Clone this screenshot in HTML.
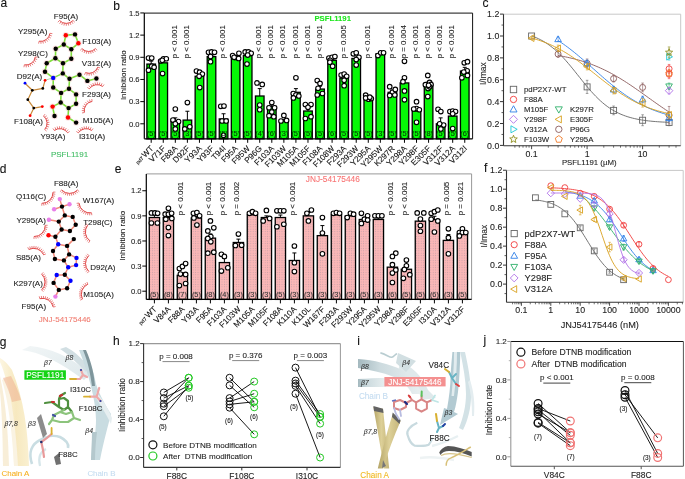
<!DOCTYPE html>
<html><head><meta charset="utf-8"><style>
html,body{margin:0;padding:0;background:#fff;}
svg{display:block;will-change:transform;font-family:"Liberation Sans", sans-serif;}
text{stroke:currentColor;stroke-width:0.1px;paint-order:stroke;}
</style></head><body>
<svg width="685" height="479" viewBox="0 0 685 479">
<rect width="685" height="479" fill="#fff"/>
<text x="0.50" y="6.70" font-size="12" fill="#111" color="#111" text-anchor="start" >a</text>
<text x="113.20" y="9.90" font-size="12" fill="#111" color="#111" text-anchor="start" >b</text>
<text x="482.60" y="6.60" font-size="12" fill="#111" color="#111" text-anchor="start" >c</text>
<text x="-0.30" y="173.00" font-size="12" fill="#111" color="#111" text-anchor="start" >d</text>
<text x="114.80" y="173.20" font-size="12" fill="#111" color="#111" text-anchor="start" >e</text>
<text x="484.00" y="172.00" font-size="12" fill="#111" color="#111" text-anchor="start" >f</text>
<text x="-0.30" y="345.50" font-size="12" fill="#111" color="#111" text-anchor="start" >g</text>
<text x="113.00" y="344.60" font-size="12" fill="#111" color="#111" text-anchor="start" >h</text>
<text x="357.20" y="344.90" font-size="12" fill="#111" color="#111" text-anchor="start" >i</text>
<text x="483.40" y="344.00" font-size="12" fill="#111" color="#111" text-anchor="start" >j</text>
<path d="M144.30,13.10 H472.60 V138.80" fill="none" stroke="#111" stroke-width="1"/>
<rect x="146.90" y="64.09" width="8.60" height="74.71" fill="#06f806" stroke="#000" stroke-width="1.3" />
<line x1="151.20" y1="64.09" x2="151.20" y2="61.13" stroke="#000" stroke-width="1" />
<line x1="149.20" y1="61.13" x2="153.20" y2="61.13" stroke="#000" stroke-width="1" />
<circle cx="148.50" cy="58.03" r="2.3" fill="#fff" stroke="#000" stroke-width="1.1" />
<circle cx="151.70" cy="58.03" r="2.3" fill="#fff" stroke="#000" stroke-width="1.1" />
<circle cx="151.70" cy="66.16" r="2.3" fill="#fff" stroke="#000" stroke-width="1.1" />
<circle cx="154.10" cy="67.27" r="2.3" fill="#fff" stroke="#000" stroke-width="1.1" />
<circle cx="148.50" cy="70.22" r="2.3" fill="#fff" stroke="#000" stroke-width="1.1" />
<text x="151.20" y="136.30" font-size="7.4" fill="#033a03" color="#033a03" text-anchor="middle" >(5)</text>
<line x1="151.20" y1="138.80" x2="151.20" y2="142.80" stroke="#000" stroke-width="1" />
<text transform="translate(154.00,149.00) rotate(-45)" font-size="8.2" fill="#111" color="#111" text-anchor="end">WT</text>
<text transform="translate(144.00,158.60) rotate(-45)" font-size="5.2" fill="#111" color="#111" text-anchor="end">pd7</text>
<rect x="158.96" y="62.83" width="8.60" height="75.97" fill="#06f806" stroke="#000" stroke-width="1.3" />
<line x1="163.26" y1="62.83" x2="163.26" y2="60.62" stroke="#000" stroke-width="1" />
<line x1="161.26" y1="60.62" x2="165.26" y2="60.62" stroke="#000" stroke-width="1" />
<circle cx="160.66" cy="60.98" r="2.3" fill="#fff" stroke="#000" stroke-width="1.1" />
<circle cx="163.46" cy="58.77" r="2.3" fill="#fff" stroke="#000" stroke-width="1.1" />
<circle cx="166.26" cy="58.77" r="2.3" fill="#fff" stroke="#000" stroke-width="1.1" />
<circle cx="162.26" cy="60.25" r="2.3" fill="#fff" stroke="#000" stroke-width="1.1" />
<circle cx="162.56" cy="73.55" r="2.3" fill="#fff" stroke="#000" stroke-width="1.1" />
<text x="163.26" y="136.30" font-size="7.4" fill="#033a03" color="#033a03" text-anchor="middle" >(5)</text>
<line x1="163.26" y1="138.80" x2="163.26" y2="142.80" stroke="#000" stroke-width="1" />
<text transform="translate(166.06,149.00) rotate(-45)" font-size="8.2" fill="#111" color="#111" text-anchor="end">V71F</text>
<rect x="171.02" y="121.58" width="8.60" height="17.22" fill="#06f806" stroke="#000" stroke-width="1.3" />
<line x1="175.32" y1="121.58" x2="175.32" y2="117.89" stroke="#000" stroke-width="1" />
<line x1="173.32" y1="117.89" x2="177.32" y2="117.89" stroke="#000" stroke-width="1" />
<circle cx="175.32" cy="109.02" r="2.3" fill="#fff" stroke="#000" stroke-width="1.1" />
<circle cx="172.92" cy="120.10" r="2.3" fill="#fff" stroke="#000" stroke-width="1.1" />
<circle cx="178.52" cy="121.58" r="2.3" fill="#fff" stroke="#000" stroke-width="1.1" />
<circle cx="175.32" cy="123.80" r="2.3" fill="#fff" stroke="#000" stroke-width="1.1" />
<circle cx="175.32" cy="128.97" r="2.3" fill="#fff" stroke="#000" stroke-width="1.1" />
<text x="175.32" y="136.30" font-size="7.4" fill="#033a03" color="#033a03" text-anchor="middle" >(5)</text>
<line x1="175.32" y1="138.80" x2="175.32" y2="142.80" stroke="#000" stroke-width="1" />
<text transform="translate(178.12,149.00) rotate(-45)" font-size="8.2" fill="#111" color="#111" text-anchor="end">F88A</text>
<rect x="183.08" y="120.10" width="8.60" height="18.70" fill="#06f806" stroke="#000" stroke-width="1.3" />
<line x1="187.38" y1="120.10" x2="187.38" y2="111.24" stroke="#000" stroke-width="1" />
<line x1="185.38" y1="111.24" x2="189.38" y2="111.24" stroke="#000" stroke-width="1" />
<circle cx="187.38" cy="102.59" r="2.3" fill="#fff" stroke="#000" stroke-width="1.1" />
<circle cx="184.78" cy="128.97" r="2.3" fill="#fff" stroke="#000" stroke-width="1.1" />
<circle cx="189.78" cy="126.76" r="2.3" fill="#fff" stroke="#000" stroke-width="1.1" />
<text x="187.38" y="136.30" font-size="7.4" fill="#033a03" color="#033a03" text-anchor="middle" >(3)</text>
<line x1="187.38" y1="138.80" x2="187.38" y2="142.80" stroke="#000" stroke-width="1" />
<text transform="translate(190.18,149.00) rotate(-45)" font-size="8.2" fill="#111" color="#111" text-anchor="end">D92F</text>
<rect x="195.14" y="76.28" width="8.60" height="62.52" fill="#06f806" stroke="#000" stroke-width="1.3" />
<line x1="199.44" y1="76.28" x2="199.44" y2="73.33" stroke="#000" stroke-width="1" />
<line x1="197.44" y1="73.33" x2="201.44" y2="73.33" stroke="#000" stroke-width="1" />
<circle cx="196.44" cy="71.04" r="2.3" fill="#fff" stroke="#000" stroke-width="1.1" />
<circle cx="199.64" cy="72.22" r="2.3" fill="#fff" stroke="#000" stroke-width="1.1" />
<circle cx="202.34" cy="74.07" r="2.3" fill="#fff" stroke="#000" stroke-width="1.1" />
<circle cx="199.14" cy="76.28" r="2.3" fill="#fff" stroke="#000" stroke-width="1.1" />
<circle cx="199.74" cy="87.59" r="2.3" fill="#fff" stroke="#000" stroke-width="1.1" />
<text x="199.44" y="136.30" font-size="7.4" fill="#033a03" color="#033a03" text-anchor="middle" >(5)</text>
<line x1="199.44" y1="138.80" x2="199.44" y2="142.80" stroke="#000" stroke-width="1" />
<text transform="translate(202.24,149.00) rotate(-45)" font-size="8.2" fill="#111" color="#111" text-anchor="end">Y93A</text>
<rect x="207.20" y="56.62" width="8.60" height="82.18" fill="#06f806" stroke="#000" stroke-width="1.3" />
<line x1="211.50" y1="56.62" x2="211.50" y2="55.15" stroke="#000" stroke-width="1" />
<line x1="209.50" y1="55.15" x2="213.50" y2="55.15" stroke="#000" stroke-width="1" />
<circle cx="208.50" cy="52.34" r="2.3" fill="#fff" stroke="#000" stroke-width="1.1" />
<circle cx="211.50" cy="51.90" r="2.3" fill="#fff" stroke="#000" stroke-width="1.1" />
<circle cx="214.50" cy="52.34" r="2.3" fill="#fff" stroke="#000" stroke-width="1.1" />
<circle cx="210.50" cy="56.55" r="2.3" fill="#fff" stroke="#000" stroke-width="1.1" />
<circle cx="210.50" cy="61.72" r="2.3" fill="#fff" stroke="#000" stroke-width="1.1" />
<text x="211.50" y="136.30" font-size="7.4" fill="#033a03" color="#033a03" text-anchor="middle" >(5)</text>
<line x1="211.50" y1="138.80" x2="211.50" y2="142.80" stroke="#000" stroke-width="1" />
<text transform="translate(214.30,149.00) rotate(-45)" font-size="8.2" fill="#111" color="#111" text-anchor="end">Y93F</text>
<rect x="219.26" y="118.92" width="8.60" height="19.88" fill="#06f806" stroke="#000" stroke-width="1.3" />
<line x1="223.56" y1="118.92" x2="223.56" y2="113.75" stroke="#000" stroke-width="1" />
<line x1="221.56" y1="113.75" x2="225.56" y2="113.75" stroke="#000" stroke-width="1" />
<circle cx="220.76" cy="106.29" r="2.3" fill="#fff" stroke="#000" stroke-width="1.1" />
<circle cx="223.96" cy="106.06" r="2.3" fill="#fff" stroke="#000" stroke-width="1.1" />
<circle cx="222.06" cy="120.99" r="2.3" fill="#fff" stroke="#000" stroke-width="1.1" />
<circle cx="226.16" cy="120.99" r="2.3" fill="#fff" stroke="#000" stroke-width="1.1" />
<circle cx="223.56" cy="135.25" r="2.3" fill="#fff" stroke="#000" stroke-width="1.1" />
<text x="223.56" y="136.30" font-size="7.4" fill="#033a03" color="#033a03" text-anchor="middle" >(5)</text>
<line x1="223.56" y1="138.80" x2="223.56" y2="142.80" stroke="#000" stroke-width="1" />
<text transform="translate(226.36,149.00) rotate(-45)" font-size="8.2" fill="#111" color="#111" text-anchor="end">T94I</text>
<rect x="231.32" y="57.51" width="8.60" height="81.29" fill="#06f806" stroke="#000" stroke-width="1.3" />
<line x1="235.62" y1="57.51" x2="235.62" y2="56.03" stroke="#000" stroke-width="1" />
<line x1="233.62" y1="56.03" x2="237.62" y2="56.03" stroke="#000" stroke-width="1" />
<circle cx="232.62" cy="55.59" r="2.3" fill="#fff" stroke="#000" stroke-width="1.1" />
<circle cx="235.62" cy="57.51" r="2.3" fill="#fff" stroke="#000" stroke-width="1.1" />
<circle cx="238.92" cy="53.37" r="2.3" fill="#fff" stroke="#000" stroke-width="1.1" />
<circle cx="238.62" cy="58.47" r="2.3" fill="#fff" stroke="#000" stroke-width="1.1" />
<circle cx="234.12" cy="57.29" r="2.3" fill="#fff" stroke="#000" stroke-width="1.1" />
<text x="235.62" y="136.30" font-size="7.4" fill="#033a03" color="#033a03" text-anchor="middle" >(5)</text>
<line x1="235.62" y1="138.80" x2="235.62" y2="142.80" stroke="#000" stroke-width="1" />
<text transform="translate(238.42,149.00) rotate(-45)" font-size="8.2" fill="#111" color="#111" text-anchor="end">F95A</text>
<rect x="243.38" y="55.59" width="8.60" height="83.21" fill="#06f806" stroke="#000" stroke-width="1.3" />
<line x1="247.68" y1="55.59" x2="247.68" y2="54.11" stroke="#000" stroke-width="1" />
<line x1="245.68" y1="54.11" x2="249.68" y2="54.11" stroke="#000" stroke-width="1" />
<circle cx="245.18" cy="51.90" r="2.3" fill="#fff" stroke="#000" stroke-width="1.1" />
<circle cx="248.38" cy="51.90" r="2.3" fill="#fff" stroke="#000" stroke-width="1.1" />
<circle cx="251.18" cy="53.37" r="2.3" fill="#fff" stroke="#000" stroke-width="1.1" />
<circle cx="247.68" cy="55.07" r="2.3" fill="#fff" stroke="#000" stroke-width="1.1" />
<circle cx="246.98" cy="64.09" r="2.3" fill="#fff" stroke="#000" stroke-width="1.1" />
<text x="247.68" y="136.30" font-size="7.4" fill="#033a03" color="#033a03" text-anchor="middle" >(5)</text>
<line x1="247.68" y1="138.80" x2="247.68" y2="142.80" stroke="#000" stroke-width="1" />
<text transform="translate(250.48,149.00) rotate(-45)" font-size="8.2" fill="#111" color="#111" text-anchor="end">F95W</text>
<rect x="255.44" y="96.01" width="8.60" height="42.79" fill="#06f806" stroke="#000" stroke-width="1.3" />
<line x1="259.74" y1="96.01" x2="259.74" y2="88.62" stroke="#000" stroke-width="1" />
<line x1="257.74" y1="88.62" x2="261.74" y2="88.62" stroke="#000" stroke-width="1" />
<circle cx="256.94" cy="82.93" r="2.3" fill="#fff" stroke="#000" stroke-width="1.1" />
<circle cx="262.24" cy="84.41" r="2.3" fill="#fff" stroke="#000" stroke-width="1.1" />
<circle cx="259.74" cy="105.03" r="2.3" fill="#fff" stroke="#000" stroke-width="1.1" />
<circle cx="259.74" cy="109.76" r="2.3" fill="#fff" stroke="#000" stroke-width="1.1" />
<text x="259.74" y="136.30" font-size="7.4" fill="#033a03" color="#033a03" text-anchor="middle" >(4)</text>
<line x1="259.74" y1="138.80" x2="259.74" y2="142.80" stroke="#000" stroke-width="1" />
<text transform="translate(262.54,149.00) rotate(-45)" font-size="8.2" fill="#111" color="#111" text-anchor="end">P96G</text>
<rect x="267.50" y="106.29" width="8.60" height="32.51" fill="#06f806" stroke="#000" stroke-width="1.3" />
<line x1="271.80" y1="106.29" x2="271.80" y2="104.07" stroke="#000" stroke-width="1" />
<line x1="269.80" y1="104.07" x2="273.80" y2="104.07" stroke="#000" stroke-width="1" />
<circle cx="271.80" cy="102.59" r="2.3" fill="#fff" stroke="#000" stroke-width="1.1" />
<circle cx="269.00" cy="107.76" r="2.3" fill="#fff" stroke="#000" stroke-width="1.1" />
<circle cx="274.60" cy="107.76" r="2.3" fill="#fff" stroke="#000" stroke-width="1.1" />
<circle cx="271.80" cy="111.98" r="2.3" fill="#fff" stroke="#000" stroke-width="1.1" />
<circle cx="269.00" cy="115.67" r="2.3" fill="#fff" stroke="#000" stroke-width="1.1" />
<circle cx="273.80" cy="116.71" r="2.3" fill="#fff" stroke="#000" stroke-width="1.1" />
<text x="271.80" y="136.30" font-size="7.4" fill="#033a03" color="#033a03" text-anchor="middle" >(6)</text>
<line x1="271.80" y1="138.80" x2="271.80" y2="142.80" stroke="#000" stroke-width="1" />
<text transform="translate(274.60,149.00) rotate(-45)" font-size="8.2" fill="#111" color="#111" text-anchor="end">F103A</text>
<rect x="279.56" y="120.84" width="8.60" height="17.96" fill="#06f806" stroke="#000" stroke-width="1.3" />
<line x1="283.86" y1="120.84" x2="283.86" y2="119.37" stroke="#000" stroke-width="1" />
<line x1="281.86" y1="119.37" x2="285.86" y2="119.37" stroke="#000" stroke-width="1" />
<circle cx="280.96" cy="120.99" r="2.3" fill="#fff" stroke="#000" stroke-width="1.1" />
<circle cx="283.86" cy="115.38" r="2.3" fill="#fff" stroke="#000" stroke-width="1.1" />
<circle cx="286.56" cy="120.40" r="2.3" fill="#fff" stroke="#000" stroke-width="1.1" />
<text x="283.86" y="136.30" font-size="7.4" fill="#033a03" color="#033a03" text-anchor="middle" >(3)</text>
<line x1="283.86" y1="138.80" x2="283.86" y2="142.80" stroke="#000" stroke-width="1" />
<text transform="translate(286.66,149.00) rotate(-45)" font-size="8.2" fill="#111" color="#111" text-anchor="end">F103W</text>
<rect x="291.62" y="92.32" width="8.60" height="46.48" fill="#06f806" stroke="#000" stroke-width="1.3" />
<line x1="295.92" y1="92.32" x2="295.92" y2="88.62" stroke="#000" stroke-width="1" />
<line x1="293.92" y1="88.62" x2="297.92" y2="88.62" stroke="#000" stroke-width="1" />
<circle cx="295.92" cy="77.83" r="2.3" fill="#fff" stroke="#000" stroke-width="1.1" />
<circle cx="293.22" cy="93.57" r="2.3" fill="#fff" stroke="#000" stroke-width="1.1" />
<circle cx="295.92" cy="95.05" r="2.3" fill="#fff" stroke="#000" stroke-width="1.1" />
<circle cx="298.82" cy="96.01" r="2.3" fill="#fff" stroke="#000" stroke-width="1.1" />
<circle cx="293.42" cy="97.94" r="2.3" fill="#fff" stroke="#000" stroke-width="1.1" />
<text x="295.92" y="136.30" font-size="7.4" fill="#033a03" color="#033a03" text-anchor="middle" >(5)</text>
<line x1="295.92" y1="138.80" x2="295.92" y2="142.80" stroke="#000" stroke-width="1" />
<text transform="translate(298.72,149.00) rotate(-45)" font-size="8.2" fill="#111" color="#111" text-anchor="end">M105A</text>
<rect x="303.68" y="111.02" width="8.60" height="27.78" fill="#06f806" stroke="#000" stroke-width="1.3" />
<line x1="307.98" y1="111.02" x2="307.98" y2="108.06" stroke="#000" stroke-width="1" />
<line x1="305.98" y1="108.06" x2="309.98" y2="108.06" stroke="#000" stroke-width="1" />
<circle cx="305.38" cy="104.59" r="2.3" fill="#fff" stroke="#000" stroke-width="1.1" />
<circle cx="310.98" cy="104.59" r="2.3" fill="#fff" stroke="#000" stroke-width="1.1" />
<circle cx="307.98" cy="107.32" r="2.3" fill="#fff" stroke="#000" stroke-width="1.1" />
<circle cx="305.38" cy="118.48" r="2.3" fill="#fff" stroke="#000" stroke-width="1.1" />
<circle cx="310.98" cy="116.71" r="2.3" fill="#fff" stroke="#000" stroke-width="1.1" />
<text x="307.98" y="136.30" font-size="7.4" fill="#033a03" color="#033a03" text-anchor="middle" >(5)</text>
<line x1="307.98" y1="138.80" x2="307.98" y2="142.80" stroke="#000" stroke-width="1" />
<text transform="translate(310.78,149.00) rotate(-45)" font-size="8.2" fill="#111" color="#111" text-anchor="end">M105F</text>
<rect x="315.74" y="89.07" width="8.60" height="49.73" fill="#06f806" stroke="#000" stroke-width="1.3" />
<line x1="320.04" y1="89.07" x2="320.04" y2="86.11" stroke="#000" stroke-width="1" />
<line x1="318.04" y1="86.11" x2="322.04" y2="86.11" stroke="#000" stroke-width="1" />
<circle cx="317.24" cy="80.57" r="2.3" fill="#fff" stroke="#000" stroke-width="1.1" />
<circle cx="320.04" cy="83.38" r="2.3" fill="#fff" stroke="#000" stroke-width="1.1" />
<circle cx="318.04" cy="88.33" r="2.3" fill="#fff" stroke="#000" stroke-width="1.1" />
<circle cx="322.44" cy="93.50" r="2.3" fill="#fff" stroke="#000" stroke-width="1.1" />
<circle cx="317.24" cy="94.98" r="2.3" fill="#fff" stroke="#000" stroke-width="1.1" />
<text x="320.04" y="136.30" font-size="7.4" fill="#033a03" color="#033a03" text-anchor="middle" >(5)</text>
<line x1="320.04" y1="138.80" x2="320.04" y2="142.80" stroke="#000" stroke-width="1" />
<text transform="translate(322.84,149.00) rotate(-45)" font-size="8.2" fill="#111" color="#111" text-anchor="end">F108A</text>
<rect x="327.80" y="60.32" width="8.60" height="78.48" fill="#06f806" stroke="#000" stroke-width="1.3" />
<line x1="332.10" y1="60.32" x2="332.10" y2="58.84" stroke="#000" stroke-width="1" />
<line x1="330.10" y1="58.84" x2="334.10" y2="58.84" stroke="#000" stroke-width="1" />
<circle cx="328.90" cy="58.03" r="2.3" fill="#fff" stroke="#000" stroke-width="1.1" />
<circle cx="332.10" cy="57.29" r="2.3" fill="#fff" stroke="#000" stroke-width="1.1" />
<circle cx="334.90" cy="56.55" r="2.3" fill="#fff" stroke="#000" stroke-width="1.1" />
<circle cx="330.10" cy="60.25" r="2.3" fill="#fff" stroke="#000" stroke-width="1.1" />
<circle cx="329.90" cy="62.17" r="2.3" fill="#fff" stroke="#000" stroke-width="1.1" />
<circle cx="332.60" cy="66.16" r="2.3" fill="#fff" stroke="#000" stroke-width="1.1" />
<text x="332.10" y="136.30" font-size="7.4" fill="#033a03" color="#033a03" text-anchor="middle" >(6)</text>
<line x1="332.10" y1="138.80" x2="332.10" y2="142.80" stroke="#000" stroke-width="1" />
<text transform="translate(334.90,149.00) rotate(-45)" font-size="8.2" fill="#111" color="#111" text-anchor="end">F108W</text>
<rect x="339.86" y="78.20" width="8.60" height="60.60" fill="#06f806" stroke="#000" stroke-width="1.3" />
<line x1="344.16" y1="78.20" x2="344.16" y2="75.99" stroke="#000" stroke-width="1" />
<line x1="342.16" y1="75.99" x2="346.16" y2="75.99" stroke="#000" stroke-width="1" />
<circle cx="341.16" cy="75.03" r="2.3" fill="#fff" stroke="#000" stroke-width="1.1" />
<circle cx="344.16" cy="74.07" r="2.3" fill="#fff" stroke="#000" stroke-width="1.1" />
<circle cx="346.66" cy="76.28" r="2.3" fill="#fff" stroke="#000" stroke-width="1.1" />
<circle cx="344.16" cy="80.20" r="2.3" fill="#fff" stroke="#000" stroke-width="1.1" />
<circle cx="344.16" cy="85.67" r="2.3" fill="#fff" stroke="#000" stroke-width="1.1" />
<text x="344.16" y="136.30" font-size="7.4" fill="#033a03" color="#033a03" text-anchor="middle" >(5)</text>
<line x1="344.16" y1="138.80" x2="344.16" y2="142.80" stroke="#000" stroke-width="1" />
<text transform="translate(346.96,149.00) rotate(-45)" font-size="8.2" fill="#111" color="#111" text-anchor="end">F293A</text>
<rect x="351.92" y="58.47" width="8.60" height="80.33" fill="#06f806" stroke="#000" stroke-width="1.3" />
<line x1="356.22" y1="58.47" x2="356.22" y2="56.99" stroke="#000" stroke-width="1" />
<line x1="354.22" y1="56.99" x2="358.22" y2="56.99" stroke="#000" stroke-width="1" />
<circle cx="353.32" cy="53.82" r="2.3" fill="#fff" stroke="#000" stroke-width="1.1" />
<circle cx="356.22" cy="52.86" r="2.3" fill="#fff" stroke="#000" stroke-width="1.1" />
<circle cx="358.92" cy="57.29" r="2.3" fill="#fff" stroke="#000" stroke-width="1.1" />
<circle cx="356.22" cy="59.51" r="2.3" fill="#fff" stroke="#000" stroke-width="1.1" />
<circle cx="356.22" cy="65.05" r="2.3" fill="#fff" stroke="#000" stroke-width="1.1" />
<text x="356.22" y="136.30" font-size="7.4" fill="#033a03" color="#033a03" text-anchor="middle" >(5)</text>
<line x1="356.22" y1="138.80" x2="356.22" y2="142.80" stroke="#000" stroke-width="1" />
<text transform="translate(359.02,149.00) rotate(-45)" font-size="8.2" fill="#111" color="#111" text-anchor="end">F293W</text>
<rect x="363.98" y="99.78" width="8.60" height="39.02" fill="#06f806" stroke="#000" stroke-width="1.3" />
<line x1="368.28" y1="99.78" x2="368.28" y2="98.30" stroke="#000" stroke-width="1" />
<line x1="366.28" y1="98.30" x2="370.28" y2="98.30" stroke="#000" stroke-width="1" />
<circle cx="365.68" cy="95.13" r="2.3" fill="#fff" stroke="#000" stroke-width="1.1" />
<circle cx="368.48" cy="99.19" r="2.3" fill="#fff" stroke="#000" stroke-width="1.1" />
<circle cx="371.28" cy="98.53" r="2.3" fill="#fff" stroke="#000" stroke-width="1.1" />
<circle cx="365.68" cy="97.94" r="2.3" fill="#fff" stroke="#000" stroke-width="1.1" />
<circle cx="369.78" cy="97.20" r="2.3" fill="#fff" stroke="#000" stroke-width="1.1" />
<text x="368.28" y="136.30" font-size="7.4" fill="#033a03" color="#033a03" text-anchor="middle" >(5)</text>
<line x1="368.28" y1="138.80" x2="368.28" y2="142.80" stroke="#000" stroke-width="1" />
<text transform="translate(371.08,149.00) rotate(-45)" font-size="8.2" fill="#111" color="#111" text-anchor="end">Y295A</text>
<rect x="376.04" y="53.82" width="8.60" height="84.98" fill="#06f806" stroke="#000" stroke-width="1.3" />
<line x1="380.34" y1="53.82" x2="380.34" y2="53.08" stroke="#000" stroke-width="1" />
<line x1="378.34" y1="53.08" x2="382.34" y2="53.08" stroke="#000" stroke-width="1" />
<circle cx="377.94" cy="55.59" r="2.3" fill="#fff" stroke="#000" stroke-width="1.1" />
<circle cx="380.74" cy="52.86" r="2.3" fill="#fff" stroke="#000" stroke-width="1.1" />
<circle cx="383.54" cy="52.86" r="2.3" fill="#fff" stroke="#000" stroke-width="1.1" />
<text x="380.34" y="136.30" font-size="7.4" fill="#033a03" color="#033a03" text-anchor="middle" >(3)</text>
<line x1="380.34" y1="138.80" x2="380.34" y2="142.80" stroke="#000" stroke-width="1" />
<text transform="translate(383.14,149.00) rotate(-45)" font-size="8.2" fill="#111" color="#111" text-anchor="end">Y295W</text>
<rect x="388.10" y="92.32" width="8.60" height="46.48" fill="#06f806" stroke="#000" stroke-width="1.3" />
<line x1="392.40" y1="92.32" x2="392.40" y2="90.10" stroke="#000" stroke-width="1" />
<line x1="390.40" y1="90.10" x2="394.40" y2="90.10" stroke="#000" stroke-width="1" />
<circle cx="389.70" cy="86.63" r="2.3" fill="#fff" stroke="#000" stroke-width="1.1" />
<circle cx="392.40" cy="92.32" r="2.3" fill="#fff" stroke="#000" stroke-width="1.1" />
<circle cx="395.30" cy="89.44" r="2.3" fill="#fff" stroke="#000" stroke-width="1.1" />
<circle cx="389.70" cy="95.42" r="2.3" fill="#fff" stroke="#000" stroke-width="1.1" />
<circle cx="394.80" cy="94.98" r="2.3" fill="#fff" stroke="#000" stroke-width="1.1" />
<text x="392.40" y="136.30" font-size="7.4" fill="#033a03" color="#033a03" text-anchor="middle" >(5)</text>
<line x1="392.40" y1="138.80" x2="392.40" y2="142.80" stroke="#000" stroke-width="1" />
<text transform="translate(395.20,149.00) rotate(-45)" font-size="8.2" fill="#111" color="#111" text-anchor="end">K297R</text>
<rect x="400.16" y="82.93" width="8.60" height="55.87" fill="#06f806" stroke="#000" stroke-width="1.3" />
<line x1="404.46" y1="82.93" x2="404.46" y2="78.50" stroke="#000" stroke-width="1" />
<line x1="402.46" y1="78.50" x2="406.46" y2="78.50" stroke="#000" stroke-width="1" />
<circle cx="404.46" cy="61.28" r="2.3" fill="#fff" stroke="#000" stroke-width="1.1" />
<circle cx="404.46" cy="77.83" r="2.3" fill="#fff" stroke="#000" stroke-width="1.1" />
<circle cx="402.96" cy="81.68" r="2.3" fill="#fff" stroke="#000" stroke-width="1.1" />
<circle cx="404.46" cy="90.91" r="2.3" fill="#fff" stroke="#000" stroke-width="1.1" />
<circle cx="404.46" cy="99.78" r="2.3" fill="#fff" stroke="#000" stroke-width="1.1" />
<text x="404.46" y="136.30" font-size="7.4" fill="#033a03" color="#033a03" text-anchor="middle" >(5)</text>
<line x1="404.46" y1="138.80" x2="404.46" y2="142.80" stroke="#000" stroke-width="1" />
<text transform="translate(407.26,149.00) rotate(-45)" font-size="8.2" fill="#111" color="#111" text-anchor="end">Y298A</text>
<rect x="412.22" y="111.02" width="8.60" height="27.78" fill="#06f806" stroke="#000" stroke-width="1.3" />
<line x1="416.52" y1="111.02" x2="416.52" y2="107.32" stroke="#000" stroke-width="1" />
<line x1="414.52" y1="107.32" x2="418.52" y2="107.32" stroke="#000" stroke-width="1" />
<circle cx="416.52" cy="101.63" r="2.3" fill="#fff" stroke="#000" stroke-width="1.1" />
<circle cx="416.52" cy="108.58" r="2.3" fill="#fff" stroke="#000" stroke-width="1.1" />
<circle cx="419.32" cy="109.76" r="2.3" fill="#fff" stroke="#000" stroke-width="1.1" />
<circle cx="413.72" cy="109.02" r="2.3" fill="#fff" stroke="#000" stroke-width="1.1" />
<circle cx="416.52" cy="122.32" r="2.3" fill="#fff" stroke="#000" stroke-width="1.1" />
<text x="416.52" y="136.30" font-size="7.4" fill="#033a03" color="#033a03" text-anchor="middle" >(5)</text>
<line x1="416.52" y1="138.80" x2="416.52" y2="142.80" stroke="#000" stroke-width="1" />
<text transform="translate(419.32,149.00) rotate(-45)" font-size="8.2" fill="#111" color="#111" text-anchor="end">Y298F</text>
<rect x="424.28" y="84.71" width="8.60" height="54.09" fill="#06f806" stroke="#000" stroke-width="1.3" />
<line x1="428.58" y1="84.71" x2="428.58" y2="81.75" stroke="#000" stroke-width="1" />
<line x1="426.58" y1="81.75" x2="430.58" y2="81.75" stroke="#000" stroke-width="1" />
<circle cx="427.78" cy="75.40" r="2.3" fill="#fff" stroke="#000" stroke-width="1.1" />
<circle cx="429.58" cy="82.42" r="2.3" fill="#fff" stroke="#000" stroke-width="1.1" />
<circle cx="425.38" cy="84.71" r="2.3" fill="#fff" stroke="#000" stroke-width="1.1" />
<circle cx="430.98" cy="84.41" r="2.3" fill="#fff" stroke="#000" stroke-width="1.1" />
<circle cx="428.08" cy="88.55" r="2.3" fill="#fff" stroke="#000" stroke-width="1.1" />
<circle cx="427.78" cy="96.60" r="2.3" fill="#fff" stroke="#000" stroke-width="1.1" />
<circle cx="429.58" cy="86.85" r="2.3" fill="#fff" stroke="#000" stroke-width="1.1" />
<circle cx="428.58" cy="85.37" r="2.3" fill="#fff" stroke="#000" stroke-width="1.1" />
<text x="428.58" y="136.30" font-size="7.4" fill="#033a03" color="#033a03" text-anchor="middle" >(8)</text>
<line x1="428.58" y1="138.80" x2="428.58" y2="142.80" stroke="#000" stroke-width="1" />
<text transform="translate(431.38,149.00) rotate(-45)" font-size="8.2" fill="#111" color="#111" text-anchor="end">E305F</text>
<rect x="436.34" y="123.80" width="8.60" height="15.00" fill="#06f806" stroke="#000" stroke-width="1.3" />
<line x1="440.64" y1="123.80" x2="440.64" y2="117.89" stroke="#000" stroke-width="1" />
<line x1="438.64" y1="117.89" x2="442.64" y2="117.89" stroke="#000" stroke-width="1" />
<circle cx="438.04" cy="109.24" r="2.3" fill="#fff" stroke="#000" stroke-width="1.1" />
<circle cx="440.84" cy="111.61" r="2.3" fill="#fff" stroke="#000" stroke-width="1.1" />
<circle cx="443.64" cy="125.06" r="2.3" fill="#fff" stroke="#000" stroke-width="1.1" />
<circle cx="440.84" cy="128.90" r="2.3" fill="#fff" stroke="#000" stroke-width="1.1" />
<circle cx="439.64" cy="123.80" r="2.3" fill="#fff" stroke="#000" stroke-width="1.1" />
<text x="440.64" y="136.30" font-size="7.4" fill="#033a03" color="#033a03" text-anchor="middle" >(5)</text>
<line x1="440.64" y1="138.80" x2="440.64" y2="142.80" stroke="#000" stroke-width="1" />
<text transform="translate(443.44,149.00) rotate(-45)" font-size="8.2" fill="#111" color="#111" text-anchor="end">V312F</text>
<rect x="448.40" y="116.11" width="8.60" height="22.69" fill="#06f806" stroke="#000" stroke-width="1.3" />
<line x1="452.70" y1="116.11" x2="452.70" y2="114.64" stroke="#000" stroke-width="1" />
<line x1="450.70" y1="114.64" x2="454.70" y2="114.64" stroke="#000" stroke-width="1" />
<circle cx="449.90" cy="111.61" r="2.3" fill="#fff" stroke="#000" stroke-width="1.1" />
<circle cx="452.70" cy="111.02" r="2.3" fill="#fff" stroke="#000" stroke-width="1.1" />
<circle cx="455.50" cy="111.61" r="2.3" fill="#fff" stroke="#000" stroke-width="1.1" />
<circle cx="452.70" cy="113.82" r="2.3" fill="#fff" stroke="#000" stroke-width="1.1" />
<circle cx="452.70" cy="128.53" r="2.3" fill="#fff" stroke="#000" stroke-width="1.1" />
<text x="452.70" y="136.30" font-size="7.4" fill="#033a03" color="#033a03" text-anchor="middle" >(5)</text>
<line x1="452.70" y1="138.80" x2="452.70" y2="142.80" stroke="#000" stroke-width="1" />
<text transform="translate(455.50,149.00) rotate(-45)" font-size="8.2" fill="#111" color="#111" text-anchor="end">V312A</text>
<rect x="460.46" y="71.04" width="8.60" height="67.76" fill="#06f806" stroke="#000" stroke-width="1.3" />
<line x1="464.76" y1="71.04" x2="464.76" y2="67.34" stroke="#000" stroke-width="1" />
<line x1="462.76" y1="67.34" x2="466.76" y2="67.34" stroke="#000" stroke-width="1" />
<circle cx="464.26" cy="62.83" r="2.3" fill="#fff" stroke="#000" stroke-width="1.1" />
<circle cx="467.46" cy="61.65" r="2.3" fill="#fff" stroke="#000" stroke-width="1.1" />
<circle cx="467.16" cy="70.74" r="2.3" fill="#fff" stroke="#000" stroke-width="1.1" />
<circle cx="461.86" cy="77.83" r="2.3" fill="#fff" stroke="#000" stroke-width="1.1" />
<circle cx="467.46" cy="75.40" r="2.3" fill="#fff" stroke="#000" stroke-width="1.1" />
<circle cx="463.76" cy="72.07" r="2.3" fill="#fff" stroke="#000" stroke-width="1.1" />
<text x="464.76" y="136.30" font-size="7.4" fill="#033a03" color="#033a03" text-anchor="middle" >(6)</text>
<line x1="464.76" y1="138.80" x2="464.76" y2="142.80" stroke="#000" stroke-width="1" />
<text transform="translate(467.56,149.00) rotate(-45)" font-size="8.2" fill="#111" color="#111" text-anchor="end">V312I</text>
<line x1="144.30" y1="13.10" x2="144.30" y2="138.80" stroke="#000" stroke-width="1.2" />
<line x1="144.30" y1="138.80" x2="472.60" y2="138.80" stroke="#000" stroke-width="1.2" />
<line x1="140.30" y1="123.80" x2="144.30" y2="123.80" stroke="#000" stroke-width="1" />
<text x="139.50" y="126.50" font-size="7.6" fill="#222" color="#222" text-anchor="end" >0.0</text>
<line x1="140.30" y1="101.63" x2="144.30" y2="101.63" stroke="#000" stroke-width="1" />
<text x="139.50" y="104.33" font-size="7.6" fill="#222" color="#222" text-anchor="end" >0.3</text>
<line x1="140.30" y1="79.46" x2="144.30" y2="79.46" stroke="#000" stroke-width="1" />
<text x="139.50" y="82.16" font-size="7.6" fill="#222" color="#222" text-anchor="end" >0.6</text>
<line x1="140.30" y1="57.29" x2="144.30" y2="57.29" stroke="#000" stroke-width="1" />
<text x="139.50" y="59.99" font-size="7.6" fill="#222" color="#222" text-anchor="end" >0.9</text>
<line x1="140.30" y1="35.12" x2="144.30" y2="35.12" stroke="#000" stroke-width="1" />
<text x="139.50" y="37.82" font-size="7.6" fill="#222" color="#222" text-anchor="end" >1.2</text>
<line x1="140.30" y1="12.95" x2="144.30" y2="12.95" stroke="#000" stroke-width="1" />
<text x="139.50" y="15.65" font-size="7.6" fill="#222" color="#222" text-anchor="end" >1.5</text>
<text transform="translate(176.92,58.35) rotate(-90)" font-size="7.9" fill="#222" color="#222" text-anchor="start" >p &lt; 0.001</text>
<text transform="translate(188.98,58.35) rotate(-90)" font-size="7.9" fill="#222" color="#222" text-anchor="start" >p &lt; 0.001</text>
<text transform="translate(225.16,58.35) rotate(-90)" font-size="7.9" fill="#222" color="#222" text-anchor="start" >p &lt; 0.001</text>
<text transform="translate(261.34,58.35) rotate(-90)" font-size="7.9" fill="#222" color="#222" text-anchor="start" >p &lt; 0.001</text>
<text transform="translate(273.40,58.35) rotate(-90)" font-size="7.9" fill="#222" color="#222" text-anchor="start" >p &lt; 0.001</text>
<text transform="translate(285.46,58.35) rotate(-90)" font-size="7.9" fill="#222" color="#222" text-anchor="start" >p &lt; 0.001</text>
<text transform="translate(297.52,58.35) rotate(-90)" font-size="7.9" fill="#222" color="#222" text-anchor="start" >p &lt; 0.001</text>
<text transform="translate(309.58,58.35) rotate(-90)" font-size="7.9" fill="#222" color="#222" text-anchor="start" >p &lt; 0.001</text>
<text transform="translate(321.64,58.35) rotate(-90)" font-size="7.9" fill="#222" color="#222" text-anchor="start" >p &lt; 0.001</text>
<text transform="translate(345.76,58.35) rotate(-90)" font-size="7.9" fill="#222" color="#222" text-anchor="start" >p = 0.005</text>
<text transform="translate(369.88,58.35) rotate(-90)" font-size="7.9" fill="#222" color="#222" text-anchor="start" >p &lt; 0.001</text>
<text transform="translate(394.00,58.35) rotate(-90)" font-size="7.9" fill="#222" color="#222" text-anchor="start" >p &lt; 0.001</text>
<text transform="translate(406.06,58.35) rotate(-90)" font-size="7.9" fill="#222" color="#222" text-anchor="start" >p = 0.004</text>
<text transform="translate(418.12,58.35) rotate(-90)" font-size="7.9" fill="#222" color="#222" text-anchor="start" >p &lt; 0.001</text>
<text transform="translate(430.18,58.35) rotate(-90)" font-size="7.9" fill="#222" color="#222" text-anchor="start" >p &lt; 0.001</text>
<text transform="translate(442.24,58.35) rotate(-90)" font-size="7.9" fill="#222" color="#222" text-anchor="start" >p &lt; 0.001</text>
<text transform="translate(454.30,58.35) rotate(-90)" font-size="7.9" fill="#222" color="#222" text-anchor="start" >p &lt; 0.001</text>
<text x="332.70" y="20.90" font-size="7.75" fill="#1ee61e" color="#1ee61e" text-anchor="middle" font-weight="bold">PSFL1191</text>
<text transform="translate(126.30,75.20) rotate(-90)" font-size="8" fill="#222" color="#222" text-anchor="middle" >Inhibition ratio</text>
<defs><pattern id="dotp" width="2.4" height="2.4" patternUnits="userSpaceOnUse"><rect width="2.4" height="2.4" fill="#fbb7b7"/><circle cx="1.2" cy="1.2" r="0.55" fill="#c8a0a8"/></pattern></defs>
<path d="M146.30,173.90 H471.60 V299.40" fill="none" stroke="#999" stroke-width="1"/>
<rect x="149.25" y="217.54" width="10.30" height="81.86" fill="url(#dotp)" stroke="#000" stroke-width="1.3" />
<line x1="154.40" y1="217.54" x2="154.40" y2="215.03" stroke="#000" stroke-width="1" />
<line x1="152.40" y1="215.03" x2="156.40" y2="215.03" stroke="#000" stroke-width="1" />
<circle cx="151.40" cy="212.94" r="2.3" fill="#fff" stroke="#000" stroke-width="1.1" />
<circle cx="154.90" cy="212.94" r="2.3" fill="#fff" stroke="#000" stroke-width="1.1" />
<circle cx="157.60" cy="213.36" r="2.3" fill="#fff" stroke="#000" stroke-width="1.1" />
<circle cx="151.40" cy="222.98" r="2.3" fill="#fff" stroke="#000" stroke-width="1.1" />
<circle cx="157.40" cy="222.98" r="2.3" fill="#fff" stroke="#000" stroke-width="1.1" />
<text x="154.40" y="296.90" font-size="7.4" fill="#333" color="#333" text-anchor="middle" >(5)</text>
<line x1="154.40" y1="299.40" x2="154.40" y2="303.40" stroke="#000" stroke-width="1" />
<text transform="translate(157.20,309.60) rotate(-45)" font-size="8.2" fill="#111" color="#111" text-anchor="end">WT</text>
<text transform="translate(147.20,319.20) rotate(-45)" font-size="5.2" fill="#111" color="#111" text-anchor="end">pd7</text>
<rect x="163.25" y="217.54" width="10.30" height="81.86" fill="url(#dotp)" stroke="#000" stroke-width="1.3" />
<line x1="168.40" y1="217.54" x2="168.40" y2="215.03" stroke="#000" stroke-width="1" />
<line x1="166.40" y1="215.03" x2="170.40" y2="215.03" stroke="#000" stroke-width="1" />
<circle cx="168.40" cy="208.34" r="2.3" fill="#fff" stroke="#000" stroke-width="1.1" />
<circle cx="165.20" cy="214.20" r="2.3" fill="#fff" stroke="#000" stroke-width="1.1" />
<circle cx="168.40" cy="214.20" r="2.3" fill="#fff" stroke="#000" stroke-width="1.1" />
<circle cx="171.60" cy="213.36" r="2.3" fill="#fff" stroke="#000" stroke-width="1.1" />
<circle cx="165.80" cy="219.22" r="2.3" fill="#fff" stroke="#000" stroke-width="1.1" />
<circle cx="171.80" cy="218.38" r="2.3" fill="#fff" stroke="#000" stroke-width="1.1" />
<circle cx="168.40" cy="227.59" r="2.3" fill="#fff" stroke="#000" stroke-width="1.1" />
<circle cx="168.40" cy="235.54" r="2.3" fill="#fff" stroke="#000" stroke-width="1.1" />
<text x="168.40" y="296.90" font-size="7.4" fill="#333" color="#333" text-anchor="middle" >(8)</text>
<line x1="168.40" y1="299.40" x2="168.40" y2="303.40" stroke="#000" stroke-width="1" />
<text transform="translate(171.20,309.60) rotate(-45)" font-size="8.2" fill="#111" color="#111" text-anchor="end">V84A</text>
<rect x="177.25" y="275.30" width="10.30" height="24.10" fill="url(#dotp)" stroke="#000" stroke-width="1.3" />
<line x1="182.40" y1="275.30" x2="182.40" y2="272.79" stroke="#000" stroke-width="1" />
<line x1="180.40" y1="272.79" x2="184.40" y2="272.79" stroke="#000" stroke-width="1" />
<circle cx="179.40" cy="268.60" r="2.3" fill="#fff" stroke="#000" stroke-width="1.1" />
<circle cx="182.40" cy="266.42" r="2.3" fill="#fff" stroke="#000" stroke-width="1.1" />
<circle cx="185.60" cy="263.58" r="2.3" fill="#fff" stroke="#000" stroke-width="1.1" />
<circle cx="180.40" cy="274.04" r="2.3" fill="#fff" stroke="#000" stroke-width="1.1" />
<circle cx="185.60" cy="274.46" r="2.3" fill="#fff" stroke="#000" stroke-width="1.1" />
<circle cx="179.40" cy="285.59" r="2.3" fill="#fff" stroke="#000" stroke-width="1.1" />
<circle cx="185.60" cy="283.50" r="2.3" fill="#fff" stroke="#000" stroke-width="1.1" />
<text x="182.40" y="296.90" font-size="7.4" fill="#333" color="#333" text-anchor="middle" >(7)</text>
<line x1="182.40" y1="299.40" x2="182.40" y2="303.40" stroke="#000" stroke-width="1" />
<text transform="translate(185.20,309.60) rotate(-45)" font-size="8.2" fill="#111" color="#111" text-anchor="end">F88A</text>
<rect x="191.25" y="217.96" width="10.30" height="81.44" fill="url(#dotp)" stroke="#000" stroke-width="1.3" />
<line x1="196.40" y1="217.96" x2="196.40" y2="216.29" stroke="#000" stroke-width="1" />
<line x1="194.40" y1="216.29" x2="198.40" y2="216.29" stroke="#000" stroke-width="1" />
<circle cx="193.40" cy="213.36" r="2.3" fill="#fff" stroke="#000" stroke-width="1.1" />
<circle cx="196.90" cy="212.52" r="2.3" fill="#fff" stroke="#000" stroke-width="1.1" />
<circle cx="199.60" cy="215.87" r="2.3" fill="#fff" stroke="#000" stroke-width="1.1" />
<circle cx="193.90" cy="217.96" r="2.3" fill="#fff" stroke="#000" stroke-width="1.1" />
<circle cx="196.90" cy="225.08" r="2.3" fill="#fff" stroke="#000" stroke-width="1.1" />
<text x="196.40" y="296.90" font-size="7.4" fill="#333" color="#333" text-anchor="middle" >(5)</text>
<line x1="196.40" y1="299.40" x2="196.40" y2="303.40" stroke="#000" stroke-width="1" />
<text transform="translate(199.20,309.60) rotate(-45)" font-size="8.2" fill="#111" color="#111" text-anchor="end">Y93A</text>
<rect x="205.25" y="238.13" width="10.30" height="61.27" fill="url(#dotp)" stroke="#000" stroke-width="1.3" />
<line x1="210.40" y1="238.13" x2="210.40" y2="233.95" stroke="#000" stroke-width="1" />
<line x1="208.40" y1="233.95" x2="212.40" y2="233.95" stroke="#000" stroke-width="1" />
<circle cx="210.40" cy="220.89" r="2.3" fill="#fff" stroke="#000" stroke-width="1.1" />
<circle cx="213.80" cy="227.84" r="2.3" fill="#fff" stroke="#000" stroke-width="1.1" />
<circle cx="207.80" cy="230.94" r="2.3" fill="#fff" stroke="#000" stroke-width="1.1" />
<circle cx="210.80" cy="236.54" r="2.3" fill="#fff" stroke="#000" stroke-width="1.1" />
<circle cx="207.80" cy="238.47" r="2.3" fill="#fff" stroke="#000" stroke-width="1.1" />
<circle cx="210.80" cy="241.82" r="2.3" fill="#fff" stroke="#000" stroke-width="1.1" />
<circle cx="207.80" cy="253.20" r="2.3" fill="#fff" stroke="#000" stroke-width="1.1" />
<circle cx="213.80" cy="252.20" r="2.3" fill="#fff" stroke="#000" stroke-width="1.1" />
<text x="210.40" y="296.90" font-size="7.4" fill="#333" color="#333" text-anchor="middle" >(8)</text>
<line x1="210.40" y1="299.40" x2="210.40" y2="303.40" stroke="#000" stroke-width="1" />
<text transform="translate(213.20,309.60) rotate(-45)" font-size="8.2" fill="#111" color="#111" text-anchor="end">F95A</text>
<rect x="219.25" y="262.57" width="10.30" height="36.83" fill="url(#dotp)" stroke="#000" stroke-width="1.3" />
<line x1="224.40" y1="262.57" x2="224.40" y2="258.39" stroke="#000" stroke-width="1" />
<line x1="222.40" y1="258.39" x2="226.40" y2="258.39" stroke="#000" stroke-width="1" />
<circle cx="221.40" cy="254.37" r="2.3" fill="#fff" stroke="#000" stroke-width="1.1" />
<circle cx="224.40" cy="256.46" r="2.3" fill="#fff" stroke="#000" stroke-width="1.1" />
<circle cx="221.40" cy="271.11" r="2.3" fill="#fff" stroke="#000" stroke-width="1.1" />
<circle cx="227.80" cy="267.76" r="2.3" fill="#fff" stroke="#000" stroke-width="1.1" />
<text x="224.40" y="296.90" font-size="7.4" fill="#333" color="#333" text-anchor="middle" >(4)</text>
<line x1="224.40" y1="299.40" x2="224.40" y2="303.40" stroke="#000" stroke-width="1" />
<text transform="translate(227.20,309.60) rotate(-45)" font-size="8.2" fill="#111" color="#111" text-anchor="end">F103A</text>
<rect x="233.25" y="242.49" width="10.30" height="56.91" fill="url(#dotp)" stroke="#000" stroke-width="1.3" />
<line x1="238.40" y1="242.49" x2="238.40" y2="239.14" stroke="#000" stroke-width="1" />
<line x1="236.40" y1="239.14" x2="240.40" y2="239.14" stroke="#000" stroke-width="1" />
<circle cx="238.40" cy="234.03" r="2.3" fill="#fff" stroke="#000" stroke-width="1.1" />
<circle cx="235.40" cy="245.50" r="2.3" fill="#fff" stroke="#000" stroke-width="1.1" />
<circle cx="241.60" cy="245.16" r="2.3" fill="#fff" stroke="#000" stroke-width="1.1" />
<text x="238.40" y="296.90" font-size="7.4" fill="#333" color="#333" text-anchor="middle" >(3)</text>
<line x1="238.40" y1="299.40" x2="238.40" y2="303.40" stroke="#000" stroke-width="1" />
<text transform="translate(241.20,309.60) rotate(-45)" font-size="8.2" fill="#111" color="#111" text-anchor="end">F103W</text>
<rect x="247.25" y="214.87" width="10.30" height="84.53" fill="url(#dotp)" stroke="#000" stroke-width="1.3" />
<line x1="252.40" y1="214.87" x2="252.40" y2="214.03" stroke="#000" stroke-width="1" />
<line x1="250.40" y1="214.03" x2="254.40" y2="214.03" stroke="#000" stroke-width="1" />
<circle cx="249.40" cy="213.36" r="2.3" fill="#fff" stroke="#000" stroke-width="1.1" />
<circle cx="252.40" cy="211.69" r="2.3" fill="#fff" stroke="#000" stroke-width="1.1" />
<circle cx="255.60" cy="213.36" r="2.3" fill="#fff" stroke="#000" stroke-width="1.1" />
<text x="252.40" y="296.90" font-size="7.4" fill="#333" color="#333" text-anchor="middle" >(3)</text>
<line x1="252.40" y1="299.40" x2="252.40" y2="303.40" stroke="#000" stroke-width="1" />
<text transform="translate(255.20,309.60) rotate(-45)" font-size="8.2" fill="#111" color="#111" text-anchor="end">M105A</text>
<rect x="261.25" y="217.54" width="10.30" height="81.86" fill="url(#dotp)" stroke="#000" stroke-width="1.3" />
<line x1="266.40" y1="217.54" x2="266.40" y2="215.87" stroke="#000" stroke-width="1" />
<line x1="264.40" y1="215.87" x2="268.40" y2="215.87" stroke="#000" stroke-width="1" />
<circle cx="266.40" cy="210.43" r="2.3" fill="#fff" stroke="#000" stroke-width="1.1" />
<circle cx="263.20" cy="220.89" r="2.3" fill="#fff" stroke="#000" stroke-width="1.1" />
<circle cx="269.60" cy="218.38" r="2.3" fill="#fff" stroke="#000" stroke-width="1.1" />
<text x="266.40" y="296.90" font-size="7.4" fill="#333" color="#333" text-anchor="middle" >(3)</text>
<line x1="266.40" y1="299.40" x2="266.40" y2="303.40" stroke="#000" stroke-width="1" />
<text transform="translate(269.20,309.60) rotate(-45)" font-size="8.2" fill="#111" color="#111" text-anchor="end">M105F</text>
<rect x="275.25" y="217.54" width="10.30" height="81.86" fill="url(#dotp)" stroke="#000" stroke-width="1.3" />
<line x1="280.40" y1="217.54" x2="280.40" y2="215.03" stroke="#000" stroke-width="1" />
<line x1="278.40" y1="215.03" x2="282.40" y2="215.03" stroke="#000" stroke-width="1" />
<circle cx="276.90" cy="210.85" r="2.3" fill="#fff" stroke="#000" stroke-width="1.1" />
<circle cx="280.40" cy="210.85" r="2.3" fill="#fff" stroke="#000" stroke-width="1.1" />
<circle cx="283.80" cy="210.85" r="2.3" fill="#fff" stroke="#000" stroke-width="1.1" />
<circle cx="276.90" cy="226.75" r="2.3" fill="#fff" stroke="#000" stroke-width="1.1" />
<circle cx="283.80" cy="224.24" r="2.3" fill="#fff" stroke="#000" stroke-width="1.1" />
<text x="280.40" y="296.90" font-size="7.4" fill="#333" color="#333" text-anchor="middle" >(5)</text>
<line x1="280.40" y1="299.40" x2="280.40" y2="303.40" stroke="#000" stroke-width="1" />
<text transform="translate(283.20,309.60) rotate(-45)" font-size="8.2" fill="#111" color="#111" text-anchor="end">F108A</text>
<rect x="289.25" y="260.48" width="10.30" height="38.92" fill="url(#dotp)" stroke="#000" stroke-width="1.3" />
<line x1="294.40" y1="260.48" x2="294.40" y2="252.95" stroke="#000" stroke-width="1" />
<line x1="292.40" y1="252.95" x2="296.40" y2="252.95" stroke="#000" stroke-width="1" />
<circle cx="294.40" cy="246.00" r="2.3" fill="#fff" stroke="#000" stroke-width="1.1" />
<circle cx="294.40" cy="262.74" r="2.3" fill="#fff" stroke="#000" stroke-width="1.1" />
<circle cx="294.40" cy="271.53" r="2.3" fill="#fff" stroke="#000" stroke-width="1.1" />
<text x="294.40" y="296.90" font-size="7.4" fill="#333" color="#333" text-anchor="middle" >(3)</text>
<line x1="294.40" y1="299.40" x2="294.40" y2="303.40" stroke="#000" stroke-width="1" />
<text transform="translate(297.20,309.60) rotate(-45)" font-size="8.2" fill="#111" color="#111" text-anchor="end">K110A</text>
<rect x="303.25" y="215.87" width="10.30" height="83.53" fill="url(#dotp)" stroke="#000" stroke-width="1.3" />
<line x1="308.40" y1="215.87" x2="308.40" y2="212.52" stroke="#000" stroke-width="1" />
<line x1="306.40" y1="212.52" x2="310.40" y2="212.52" stroke="#000" stroke-width="1" />
<circle cx="311.40" cy="210.01" r="2.3" fill="#fff" stroke="#000" stroke-width="1.1" />
<circle cx="306.90" cy="213.36" r="2.3" fill="#fff" stroke="#000" stroke-width="1.1" />
<circle cx="308.40" cy="220.89" r="2.3" fill="#fff" stroke="#000" stroke-width="1.1" />
<text x="308.40" y="296.90" font-size="7.4" fill="#333" color="#333" text-anchor="middle" >(3)</text>
<line x1="308.40" y1="299.40" x2="308.40" y2="303.40" stroke="#000" stroke-width="1" />
<text transform="translate(311.20,309.60) rotate(-45)" font-size="8.2" fill="#111" color="#111" text-anchor="end">K110L</text>
<rect x="317.25" y="235.62" width="10.30" height="63.78" fill="url(#dotp)" stroke="#000" stroke-width="1.3" />
<line x1="322.40" y1="235.62" x2="322.40" y2="225.58" stroke="#000" stroke-width="1" />
<line x1="320.40" y1="225.58" x2="324.40" y2="225.58" stroke="#000" stroke-width="1" />
<circle cx="322.40" cy="217.54" r="2.3" fill="#fff" stroke="#000" stroke-width="1.1" />
<circle cx="322.40" cy="233.03" r="2.3" fill="#fff" stroke="#000" stroke-width="1.1" />
<circle cx="322.40" cy="253.87" r="2.3" fill="#fff" stroke="#000" stroke-width="1.1" />
<text x="322.40" y="296.90" font-size="7.4" fill="#333" color="#333" text-anchor="middle" >(3)</text>
<line x1="322.40" y1="299.40" x2="322.40" y2="303.40" stroke="#000" stroke-width="1" />
<text transform="translate(325.20,309.60) rotate(-45)" font-size="8.2" fill="#111" color="#111" text-anchor="end">W167F</text>
<rect x="331.25" y="214.87" width="10.30" height="84.53" fill="url(#dotp)" stroke="#000" stroke-width="1.3" />
<line x1="336.40" y1="214.87" x2="336.40" y2="214.03" stroke="#000" stroke-width="1" />
<line x1="334.40" y1="214.03" x2="338.40" y2="214.03" stroke="#000" stroke-width="1" />
<circle cx="333.40" cy="213.36" r="2.3" fill="#fff" stroke="#000" stroke-width="1.1" />
<circle cx="336.40" cy="212.52" r="2.3" fill="#fff" stroke="#000" stroke-width="1.1" />
<circle cx="339.60" cy="213.36" r="2.3" fill="#fff" stroke="#000" stroke-width="1.1" />
<text x="336.40" y="296.90" font-size="7.4" fill="#333" color="#333" text-anchor="middle" >(3)</text>
<line x1="336.40" y1="299.40" x2="336.40" y2="303.40" stroke="#000" stroke-width="1" />
<text transform="translate(339.20,309.60) rotate(-45)" font-size="8.2" fill="#111" color="#111" text-anchor="end">F293A</text>
<rect x="345.25" y="215.87" width="10.30" height="83.53" fill="url(#dotp)" stroke="#000" stroke-width="1.3" />
<line x1="350.40" y1="215.87" x2="350.40" y2="215.03" stroke="#000" stroke-width="1" />
<line x1="348.40" y1="215.03" x2="352.40" y2="215.03" stroke="#000" stroke-width="1" />
<circle cx="347.20" cy="217.54" r="2.3" fill="#fff" stroke="#000" stroke-width="1.1" />
<circle cx="350.40" cy="213.36" r="2.3" fill="#fff" stroke="#000" stroke-width="1.1" />
<circle cx="353.60" cy="214.20" r="2.3" fill="#fff" stroke="#000" stroke-width="1.1" />
<text x="350.40" y="296.90" font-size="7.4" fill="#333" color="#333" text-anchor="middle" >(3)</text>
<line x1="350.40" y1="299.40" x2="350.40" y2="303.40" stroke="#000" stroke-width="1" />
<text transform="translate(353.20,309.60) rotate(-45)" font-size="8.2" fill="#111" color="#111" text-anchor="end">F293W</text>
<rect x="359.25" y="219.47" width="10.30" height="79.93" fill="url(#dotp)" stroke="#000" stroke-width="1.3" />
<line x1="364.40" y1="219.47" x2="364.40" y2="217.80" stroke="#000" stroke-width="1" />
<line x1="362.40" y1="217.80" x2="366.40" y2="217.80" stroke="#000" stroke-width="1" />
<circle cx="361.40" cy="213.36" r="2.3" fill="#fff" stroke="#000" stroke-width="1.1" />
<circle cx="367.60" cy="215.87" r="2.3" fill="#fff" stroke="#000" stroke-width="1.1" />
<circle cx="364.40" cy="219.22" r="2.3" fill="#fff" stroke="#000" stroke-width="1.1" />
<circle cx="361.40" cy="223.40" r="2.3" fill="#fff" stroke="#000" stroke-width="1.1" />
<circle cx="367.60" cy="220.06" r="2.3" fill="#fff" stroke="#000" stroke-width="1.1" />
<text x="364.40" y="296.90" font-size="7.4" fill="#333" color="#333" text-anchor="middle" >(5)</text>
<line x1="364.40" y1="299.40" x2="364.40" y2="303.40" stroke="#000" stroke-width="1" />
<text transform="translate(367.20,309.60) rotate(-45)" font-size="8.2" fill="#111" color="#111" text-anchor="end">Y295A</text>
<rect x="373.25" y="219.47" width="10.30" height="79.93" fill="url(#dotp)" stroke="#000" stroke-width="1.3" />
<line x1="378.40" y1="219.47" x2="378.40" y2="217.80" stroke="#000" stroke-width="1" />
<line x1="376.40" y1="217.80" x2="380.40" y2="217.80" stroke="#000" stroke-width="1" />
<circle cx="374.90" cy="215.87" r="2.3" fill="#fff" stroke="#000" stroke-width="1.1" />
<circle cx="378.40" cy="215.87" r="2.3" fill="#fff" stroke="#000" stroke-width="1.1" />
<circle cx="381.90" cy="215.87" r="2.3" fill="#fff" stroke="#000" stroke-width="1.1" />
<text x="378.40" y="296.90" font-size="7.4" fill="#333" color="#333" text-anchor="middle" >(3)</text>
<line x1="378.40" y1="299.40" x2="378.40" y2="303.40" stroke="#000" stroke-width="1" />
<text transform="translate(381.20,309.60) rotate(-45)" font-size="8.2" fill="#111" color="#111" text-anchor="end">Y295W</text>
<rect x="387.25" y="267.18" width="10.30" height="32.22" fill="url(#dotp)" stroke="#000" stroke-width="1.3" />
<line x1="392.40" y1="267.18" x2="392.40" y2="262.99" stroke="#000" stroke-width="1" />
<line x1="390.40" y1="262.99" x2="394.40" y2="262.99" stroke="#000" stroke-width="1" />
<circle cx="395.80" cy="253.20" r="2.3" fill="#fff" stroke="#000" stroke-width="1.1" />
<circle cx="392.40" cy="256.46" r="2.3" fill="#fff" stroke="#000" stroke-width="1.1" />
<circle cx="392.40" cy="264.67" r="2.3" fill="#fff" stroke="#000" stroke-width="1.1" />
<circle cx="395.80" cy="269.94" r="2.3" fill="#fff" stroke="#000" stroke-width="1.1" />
<circle cx="392.40" cy="273.12" r="2.3" fill="#fff" stroke="#000" stroke-width="1.1" />
<circle cx="392.40" cy="282.50" r="2.3" fill="#fff" stroke="#000" stroke-width="1.1" />
<text x="392.40" y="296.90" font-size="7.4" fill="#333" color="#333" text-anchor="middle" >(6)</text>
<line x1="392.40" y1="299.40" x2="392.40" y2="303.40" stroke="#000" stroke-width="1" />
<text transform="translate(395.20,309.60) rotate(-45)" font-size="8.2" fill="#111" color="#111" text-anchor="end">Y298A</text>
<rect x="401.25" y="269.27" width="10.30" height="30.13" fill="url(#dotp)" stroke="#000" stroke-width="1.3" />
<line x1="406.40" y1="269.27" x2="406.40" y2="265.92" stroke="#000" stroke-width="1" />
<line x1="404.40" y1="265.92" x2="408.40" y2="265.92" stroke="#000" stroke-width="1" />
<circle cx="406.40" cy="260.06" r="2.3" fill="#fff" stroke="#000" stroke-width="1.1" />
<circle cx="406.40" cy="265.84" r="2.3" fill="#fff" stroke="#000" stroke-width="1.1" />
<circle cx="409.80" cy="274.71" r="2.3" fill="#fff" stroke="#000" stroke-width="1.1" />
<circle cx="403.40" cy="278.31" r="2.3" fill="#fff" stroke="#000" stroke-width="1.1" />
<circle cx="404.40" cy="269.44" r="2.3" fill="#fff" stroke="#000" stroke-width="1.1" />
<text x="406.40" y="296.90" font-size="7.4" fill="#333" color="#333" text-anchor="middle" >(5)</text>
<line x1="406.40" y1="299.40" x2="406.40" y2="303.40" stroke="#000" stroke-width="1" />
<text transform="translate(409.20,309.60) rotate(-45)" font-size="8.2" fill="#111" color="#111" text-anchor="end">Y298F</text>
<rect x="415.25" y="221.14" width="10.30" height="78.26" fill="url(#dotp)" stroke="#000" stroke-width="1.3" />
<line x1="420.40" y1="221.14" x2="420.40" y2="217.80" stroke="#000" stroke-width="1" />
<line x1="418.40" y1="217.80" x2="422.40" y2="217.80" stroke="#000" stroke-width="1" />
<circle cx="417.20" cy="212.94" r="2.3" fill="#fff" stroke="#000" stroke-width="1.1" />
<circle cx="423.80" cy="212.94" r="2.3" fill="#fff" stroke="#000" stroke-width="1.1" />
<circle cx="420.40" cy="219.05" r="2.3" fill="#fff" stroke="#000" stroke-width="1.1" />
<circle cx="420.40" cy="225.50" r="2.3" fill="#fff" stroke="#000" stroke-width="1.1" />
<circle cx="420.40" cy="231.27" r="2.3" fill="#fff" stroke="#000" stroke-width="1.1" />
<text x="420.40" y="296.90" font-size="7.4" fill="#333" color="#333" text-anchor="middle" >(5)</text>
<line x1="420.40" y1="299.40" x2="420.40" y2="303.40" stroke="#000" stroke-width="1" />
<text transform="translate(423.20,309.60) rotate(-45)" font-size="8.2" fill="#111" color="#111" text-anchor="end">E305F</text>
<rect x="429.25" y="219.64" width="10.30" height="79.76" fill="url(#dotp)" stroke="#000" stroke-width="1.3" />
<line x1="434.40" y1="219.64" x2="434.40" y2="216.29" stroke="#000" stroke-width="1" />
<line x1="432.40" y1="216.29" x2="436.40" y2="216.29" stroke="#000" stroke-width="1" />
<circle cx="431.20" cy="213.36" r="2.3" fill="#fff" stroke="#000" stroke-width="1.1" />
<circle cx="434.40" cy="211.69" r="2.3" fill="#fff" stroke="#000" stroke-width="1.1" />
<circle cx="437.80" cy="210.01" r="2.3" fill="#fff" stroke="#000" stroke-width="1.1" />
<circle cx="431.20" cy="219.22" r="2.3" fill="#fff" stroke="#000" stroke-width="1.1" />
<circle cx="437.80" cy="220.89" r="2.3" fill="#fff" stroke="#000" stroke-width="1.1" />
<circle cx="434.40" cy="232.02" r="2.3" fill="#fff" stroke="#000" stroke-width="1.1" />
<text x="434.40" y="296.90" font-size="7.4" fill="#333" color="#333" text-anchor="middle" >(6)</text>
<line x1="434.40" y1="299.40" x2="434.40" y2="303.40" stroke="#000" stroke-width="1" />
<text transform="translate(437.20,309.60) rotate(-45)" font-size="8.2" fill="#111" color="#111" text-anchor="end">I310A</text>
<rect x="443.25" y="240.39" width="10.30" height="59.01" fill="url(#dotp)" stroke="#000" stroke-width="1.3" />
<line x1="448.40" y1="240.39" x2="448.40" y2="234.54" stroke="#000" stroke-width="1" />
<line x1="446.40" y1="234.54" x2="450.40" y2="234.54" stroke="#000" stroke-width="1" />
<circle cx="448.40" cy="228.84" r="2.3" fill="#fff" stroke="#000" stroke-width="1.1" />
<circle cx="448.40" cy="237.63" r="2.3" fill="#fff" stroke="#000" stroke-width="1.1" />
<circle cx="448.40" cy="253.87" r="2.3" fill="#fff" stroke="#000" stroke-width="1.1" />
<text x="448.40" y="296.90" font-size="7.4" fill="#333" color="#333" text-anchor="middle" >(3)</text>
<line x1="448.40" y1="299.40" x2="448.40" y2="303.40" stroke="#000" stroke-width="1" />
<text transform="translate(451.20,309.60) rotate(-45)" font-size="8.2" fill="#111" color="#111" text-anchor="end">V312A</text>
<rect x="457.25" y="234.12" width="10.30" height="65.28" fill="url(#dotp)" stroke="#000" stroke-width="1.3" />
<line x1="462.40" y1="234.12" x2="462.40" y2="232.44" stroke="#000" stroke-width="1" />
<line x1="460.40" y1="232.44" x2="464.40" y2="232.44" stroke="#000" stroke-width="1" />
<circle cx="462.40" cy="228.84" r="2.3" fill="#fff" stroke="#000" stroke-width="1.1" />
<circle cx="459.40" cy="232.61" r="2.3" fill="#fff" stroke="#000" stroke-width="1.1" />
<circle cx="462.40" cy="232.61" r="2.3" fill="#fff" stroke="#000" stroke-width="1.1" />
<circle cx="465.80" cy="232.61" r="2.3" fill="#fff" stroke="#000" stroke-width="1.1" />
<circle cx="459.40" cy="235.96" r="2.3" fill="#fff" stroke="#000" stroke-width="1.1" />
<text x="462.40" y="296.90" font-size="7.4" fill="#333" color="#333" text-anchor="middle" >(5)</text>
<line x1="462.40" y1="299.40" x2="462.40" y2="303.40" stroke="#000" stroke-width="1" />
<text transform="translate(465.20,309.60) rotate(-45)" font-size="8.2" fill="#111" color="#111" text-anchor="end">V312F</text>
<line x1="146.30" y1="173.90" x2="146.30" y2="299.40" stroke="#000" stroke-width="1.2" />
<line x1="146.30" y1="299.40" x2="471.60" y2="299.40" stroke="#000" stroke-width="1.2" />
<line x1="142.30" y1="291.20" x2="146.30" y2="291.20" stroke="#000" stroke-width="1" />
<text x="141.50" y="293.90" font-size="7.6" fill="#222" color="#222" text-anchor="end" >0.0</text>
<line x1="142.30" y1="266.09" x2="146.30" y2="266.09" stroke="#000" stroke-width="1" />
<text x="141.50" y="268.79" font-size="7.6" fill="#222" color="#222" text-anchor="end" >0.3</text>
<line x1="142.30" y1="240.98" x2="146.30" y2="240.98" stroke="#000" stroke-width="1" />
<text x="141.50" y="243.68" font-size="7.6" fill="#222" color="#222" text-anchor="end" >0.6</text>
<line x1="142.30" y1="215.87" x2="146.30" y2="215.87" stroke="#000" stroke-width="1" />
<text x="141.50" y="218.57" font-size="7.6" fill="#222" color="#222" text-anchor="end" >0.9</text>
<line x1="142.30" y1="190.76" x2="146.30" y2="190.76" stroke="#000" stroke-width="1" />
<text x="141.50" y="193.46" font-size="7.6" fill="#222" color="#222" text-anchor="end" >1.2</text>
<text transform="translate(182.90,215.30) rotate(-90)" font-size="8.0" fill="#222" color="#222" text-anchor="start" >p &lt; 0.001</text>
<text transform="translate(210.90,215.30) rotate(-90)" font-size="8.0" fill="#222" color="#222" text-anchor="start" >p &lt; 0.001</text>
<text transform="translate(224.90,215.30) rotate(-90)" font-size="8.0" fill="#222" color="#222" text-anchor="start" >p &lt; 0.001</text>
<text transform="translate(238.90,215.30) rotate(-90)" font-size="8.0" fill="#222" color="#222" text-anchor="start" >p = 0.002</text>
<text transform="translate(294.90,215.30) rotate(-90)" font-size="8.0" fill="#222" color="#222" text-anchor="start" >p &lt; 0.001</text>
<text transform="translate(392.90,215.30) rotate(-90)" font-size="8.0" fill="#222" color="#222" text-anchor="start" >p &lt; 0.001</text>
<text transform="translate(406.90,215.30) rotate(-90)" font-size="8.0" fill="#222" color="#222" text-anchor="start" >p &lt; 0.001</text>
<text transform="translate(448.90,215.30) rotate(-90)" font-size="8.0" fill="#222" color="#222" text-anchor="start" >p = 0.005</text>
<text transform="translate(462.90,215.30) rotate(-90)" font-size="8.0" fill="#222" color="#222" text-anchor="start" >p = 0.021</text>
<text x="332.80" y="182.40" font-size="8.3" fill="#f87474" color="#f87474" text-anchor="middle" >JNJ-54175446</text>
<text transform="translate(125.30,235.80) rotate(-90)" font-size="8" fill="#222" color="#222" text-anchor="middle" >Inhibition ratio</text>
<path d="M503.50,14.20 H680.70 V145.70" fill="none" stroke="#c8c8c8" stroke-width="1"/>
<path d="M531.60,35.89 L533.89,36.74 L536.18,37.68 L538.47,38.72 L540.77,39.86 L543.06,41.12 L545.35,42.49 L547.64,43.99 L549.93,45.62 L552.22,47.38 L554.51,49.28 L556.80,51.31 L559.10,53.48 L561.39,55.78 L563.68,58.20 L565.97,60.73 L568.26,63.37 L570.55,66.10 L572.84,68.89 L575.14,71.74 L577.43,74.62 L579.72,77.51 L582.01,80.38 L584.30,83.23 L586.59,86.02 L588.88,88.73 L591.17,91.36 L593.47,93.89 L595.76,96.30 L598.05,98.58 L600.34,100.74 L602.63,102.76 L604.92,104.65 L607.21,106.40 L609.51,108.01 L611.80,109.50 L614.09,110.86 L616.38,112.11 L618.67,113.24 L620.96,114.27 L623.25,115.20 L625.54,116.04 L627.84,116.80 L630.13,117.48 L632.42,118.09 L634.71,118.64 L637.00,119.13 L639.29,119.57 L641.58,119.96 L643.88,120.31 L646.17,120.62 L648.46,120.90 L650.75,121.15 L653.04,121.37 L655.33,121.56 L657.62,121.73 L659.91,121.89 L662.21,122.02 L664.50,122.14 L666.79,122.25 L669.08,122.35" fill="none" stroke="#666666" stroke-width="0.9"/>
<rect x="528.60" y="33.00" width="6.00" height="6.00" fill="none" stroke="#666666" stroke-width="0.9" />
<line x1="587.10" y1="80.31" x2="587.10" y2="93.44" stroke="#666666" stroke-width="0.6" />
<line x1="585.80" y1="80.31" x2="588.40" y2="80.31" stroke="#666666" stroke-width="0.6" />
<line x1="585.80" y1="93.44" x2="588.40" y2="93.44" stroke="#666666" stroke-width="0.6" />
<rect x="584.10" y="83.87" width="6.00" height="6.00" fill="none" stroke="#666666" stroke-width="0.9" />
<line x1="613.58" y1="106.02" x2="613.58" y2="114.77" stroke="#666666" stroke-width="0.6" />
<line x1="612.28" y1="106.02" x2="614.88" y2="106.02" stroke="#666666" stroke-width="0.6" />
<line x1="612.28" y1="114.77" x2="614.88" y2="114.77" stroke="#666666" stroke-width="0.6" />
<rect x="610.58" y="107.39" width="6.00" height="6.00" fill="none" stroke="#666666" stroke-width="0.9" />
<line x1="642.60" y1="114.77" x2="642.60" y2="125.71" stroke="#666666" stroke-width="0.6" />
<line x1="641.30" y1="114.77" x2="643.90" y2="114.77" stroke="#666666" stroke-width="0.6" />
<line x1="641.30" y1="125.71" x2="643.90" y2="125.71" stroke="#666666" stroke-width="0.6" />
<rect x="639.60" y="117.24" width="6.00" height="6.00" fill="none" stroke="#666666" stroke-width="0.9" />
<line x1="669.08" y1="119.14" x2="669.08" y2="125.71" stroke="#666666" stroke-width="0.6" />
<line x1="667.78" y1="119.14" x2="670.38" y2="119.14" stroke="#666666" stroke-width="0.6" />
<line x1="667.78" y1="125.71" x2="670.38" y2="125.71" stroke="#666666" stroke-width="0.6" />
<rect x="666.08" y="119.43" width="6.00" height="6.00" fill="none" stroke="#666666" stroke-width="0.9" />
<path d="M558.08,55.48 L559.93,55.80 L561.78,56.14 L563.63,56.50 L565.48,56.88 L567.33,57.27 L569.18,57.68 L571.03,58.11 L572.88,58.56 L574.73,59.03 L576.58,59.52 L578.43,60.04 L580.28,60.57 L582.13,61.13 L583.98,61.72 L585.83,62.33 L587.68,62.96 L589.53,63.62 L591.38,64.30 L593.23,65.01 L595.08,65.75 L596.93,66.52 L598.78,67.31 L600.63,68.13 L602.48,68.98 L604.33,69.86 L606.18,70.76 L608.03,71.70 L609.88,72.66 L611.73,73.65 L613.58,74.66 L615.43,75.71 L617.28,76.78 L619.13,77.87 L620.98,78.99 L622.83,80.14 L624.68,81.30 L626.53,82.49 L628.38,83.70 L630.23,84.93 L632.08,86.18 L633.93,87.44 L635.78,88.72 L637.63,90.01 L639.48,91.31 L641.33,92.62 L643.18,93.94 L645.03,95.26 L646.88,96.59 L648.73,97.91 L650.58,99.24 L652.43,100.56 L654.28,101.88 L656.13,103.19 L657.98,104.49 L659.83,105.79 L661.68,107.07 L663.53,108.33 L665.38,109.58 L667.23,110.81 L669.08,112.03" fill="none" stroke="#8a5a5a" stroke-width="0.9"/>
<line x1="558.08" y1="50.77" x2="558.08" y2="57.33" stroke="#8a5a5a" stroke-width="0.6" />
<line x1="556.78" y1="50.77" x2="559.38" y2="50.77" stroke="#8a5a5a" stroke-width="0.6" />
<line x1="556.78" y1="57.33" x2="559.38" y2="57.33" stroke="#8a5a5a" stroke-width="0.6" />
<circle cx="558.08" cy="54.05" r="3.0" fill="none" stroke="#8a5a5a" stroke-width="0.9" />
<line x1="587.10" y1="58.97" x2="587.10" y2="67.73" stroke="#8a5a5a" stroke-width="0.6" />
<line x1="585.80" y1="58.97" x2="588.40" y2="58.97" stroke="#8a5a5a" stroke-width="0.6" />
<line x1="585.80" y1="67.73" x2="588.40" y2="67.73" stroke="#8a5a5a" stroke-width="0.6" />
<circle cx="587.10" cy="63.35" r="3.0" fill="none" stroke="#8a5a5a" stroke-width="0.9" />
<line x1="613.58" y1="75.38" x2="613.58" y2="81.95" stroke="#8a5a5a" stroke-width="0.6" />
<line x1="612.28" y1="75.38" x2="614.88" y2="75.38" stroke="#8a5a5a" stroke-width="0.6" />
<line x1="612.28" y1="81.95" x2="614.88" y2="81.95" stroke="#8a5a5a" stroke-width="0.6" />
<circle cx="613.58" cy="78.67" r="3.0" fill="none" stroke="#8a5a5a" stroke-width="0.9" />
<line x1="642.60" y1="83.04" x2="642.60" y2="91.79" stroke="#8a5a5a" stroke-width="0.6" />
<line x1="641.30" y1="83.04" x2="643.90" y2="83.04" stroke="#8a5a5a" stroke-width="0.6" />
<line x1="641.30" y1="91.79" x2="643.90" y2="91.79" stroke="#8a5a5a" stroke-width="0.6" />
<circle cx="642.60" cy="87.42" r="3.0" fill="none" stroke="#8a5a5a" stroke-width="0.9" />
<line x1="669.08" y1="106.45" x2="669.08" y2="123.96" stroke="#8a5a5a" stroke-width="0.6" />
<line x1="667.78" y1="106.45" x2="670.38" y2="106.45" stroke="#8a5a5a" stroke-width="0.6" />
<line x1="667.78" y1="123.96" x2="670.38" y2="123.96" stroke="#8a5a5a" stroke-width="0.6" />
<circle cx="669.08" cy="115.21" r="3.0" fill="none" stroke="#8a5a5a" stroke-width="0.9" />
<path d="M558.08,40.50 L559.93,41.72 L561.78,42.97 L563.63,44.27 L565.48,45.59 L567.33,46.96 L569.18,48.35 L571.03,49.78 L572.88,51.24 L574.73,52.72 L576.58,54.24 L578.43,55.77 L580.28,57.33 L582.13,58.91 L583.98,60.51 L585.83,62.12 L587.68,63.75 L589.53,65.38 L591.38,67.02 L593.23,68.66 L595.08,70.31 L596.93,71.95 L598.78,73.59 L600.63,75.21 L602.48,76.83 L604.33,78.44 L606.18,80.02 L608.03,81.59 L609.88,83.14 L611.73,84.66 L613.58,86.16 L615.43,87.63 L617.28,89.06 L619.13,90.47 L620.98,91.85 L622.83,93.19 L624.68,94.50 L626.53,95.77 L628.38,97.00 L630.23,98.20 L632.08,99.36 L633.93,100.48 L635.78,101.56 L637.63,102.61 L639.48,103.62 L641.33,104.59 L643.18,105.52 L645.03,106.42 L646.88,107.28 L648.73,108.10 L650.58,108.90 L652.43,109.65 L654.28,110.38 L656.13,111.07 L657.98,111.73 L659.83,112.36 L661.68,112.96 L663.53,113.54 L665.38,114.08 L667.23,114.60 L669.08,115.10" fill="none" stroke="#2f7fe8" stroke-width="0.9"/>
<line x1="558.08" y1="37.09" x2="558.08" y2="41.47" stroke="#2f7fe8" stroke-width="0.6" />
<line x1="556.78" y1="37.09" x2="559.38" y2="37.09" stroke="#2f7fe8" stroke-width="0.6" />
<line x1="556.78" y1="41.47" x2="559.38" y2="41.47" stroke="#2f7fe8" stroke-width="0.6" />
<path d="M558.08,35.83 L561.38,41.68 L554.78,41.68 Z" fill="none" stroke="#2f7fe8" stroke-width="0.9"/>
<line x1="587.10" y1="60.07" x2="587.10" y2="66.63" stroke="#2f7fe8" stroke-width="0.6" />
<line x1="585.80" y1="60.07" x2="588.40" y2="60.07" stroke="#2f7fe8" stroke-width="0.6" />
<line x1="585.80" y1="66.63" x2="588.40" y2="66.63" stroke="#2f7fe8" stroke-width="0.6" />
<path d="M587.10,59.90 L590.40,65.75 L583.80,65.75 Z" fill="none" stroke="#2f7fe8" stroke-width="0.9"/>
<line x1="613.58" y1="86.32" x2="613.58" y2="92.89" stroke="#2f7fe8" stroke-width="0.6" />
<line x1="612.28" y1="86.32" x2="614.88" y2="86.32" stroke="#2f7fe8" stroke-width="0.6" />
<line x1="612.28" y1="92.89" x2="614.88" y2="92.89" stroke="#2f7fe8" stroke-width="0.6" />
<path d="M613.58,86.16 L616.88,92.01 L610.28,92.01 Z" fill="none" stroke="#2f7fe8" stroke-width="0.9"/>
<line x1="642.60" y1="96.17" x2="642.60" y2="102.73" stroke="#2f7fe8" stroke-width="0.6" />
<line x1="641.30" y1="96.17" x2="643.90" y2="96.17" stroke="#2f7fe8" stroke-width="0.6" />
<line x1="641.30" y1="102.73" x2="643.90" y2="102.73" stroke="#2f7fe8" stroke-width="0.6" />
<path d="M642.60,96.00 L645.90,101.85 L639.30,101.85 Z" fill="none" stroke="#2f7fe8" stroke-width="0.9"/>
<line x1="669.08" y1="114.77" x2="669.08" y2="121.33" stroke="#2f7fe8" stroke-width="0.6" />
<line x1="667.78" y1="114.77" x2="670.38" y2="114.77" stroke="#2f7fe8" stroke-width="0.6" />
<line x1="667.78" y1="121.33" x2="670.38" y2="121.33" stroke="#2f7fe8" stroke-width="0.6" />
<path d="M669.08,114.60 L672.38,120.45 L665.78,120.45 Z" fill="none" stroke="#2f7fe8" stroke-width="0.9"/>
<path d="M531.60,38.05 L533.89,38.69 L536.18,39.37 L538.47,40.10 L540.77,40.87 L543.06,41.69 L545.35,42.56 L547.64,43.49 L549.93,44.46 L552.22,45.49 L554.51,46.58 L556.80,47.73 L559.10,48.93 L561.39,50.18 L563.68,51.50 L565.97,52.87 L568.26,54.29 L570.55,55.77 L572.84,57.30 L575.14,58.88 L577.43,60.51 L579.72,62.17 L582.01,63.88 L584.30,65.62 L586.59,67.39 L588.88,69.18 L591.17,70.99 L593.47,72.81 L595.76,74.64 L598.05,76.47 L600.34,78.29 L602.63,80.10 L604.92,81.90 L607.21,83.67 L609.51,85.41 L611.80,87.12 L614.09,88.80 L616.38,90.43 L618.67,92.01 L620.96,93.55 L623.25,95.04 L625.54,96.47 L627.84,97.85 L630.13,99.18 L632.42,100.44 L634.71,101.65 L637.00,102.81 L639.29,103.90 L641.58,104.94 L643.88,105.93 L646.17,106.86 L648.46,107.74 L650.75,108.57 L653.04,109.35 L655.33,110.08 L657.62,110.77 L659.91,111.41 L662.21,112.02 L664.50,112.58 L666.79,113.11 L669.08,113.60" fill="none" stroke="#d8a01e" stroke-width="0.9"/>
<line x1="531.60" y1="37.09" x2="531.60" y2="39.28" stroke="#d8a01e" stroke-width="0.6" />
<line x1="530.30" y1="37.09" x2="532.90" y2="37.09" stroke="#d8a01e" stroke-width="0.6" />
<line x1="530.30" y1="39.28" x2="532.90" y2="39.28" stroke="#d8a01e" stroke-width="0.6" />
<path d="M528.15,38.19 L534.00,34.89 L534.00,41.49 Z" fill="none" stroke="#d8a01e" stroke-width="0.9"/>
<line x1="558.08" y1="45.08" x2="558.08" y2="51.64" stroke="#d8a01e" stroke-width="0.6" />
<line x1="556.78" y1="45.08" x2="559.38" y2="45.08" stroke="#d8a01e" stroke-width="0.6" />
<line x1="556.78" y1="51.64" x2="559.38" y2="51.64" stroke="#d8a01e" stroke-width="0.6" />
<path d="M554.63,48.36 L560.48,45.06 L560.48,51.66 Z" fill="none" stroke="#d8a01e" stroke-width="0.9"/>
<line x1="587.10" y1="63.35" x2="587.10" y2="69.91" stroke="#d8a01e" stroke-width="0.6" />
<line x1="585.80" y1="63.35" x2="588.40" y2="63.35" stroke="#d8a01e" stroke-width="0.6" />
<line x1="585.80" y1="69.91" x2="588.40" y2="69.91" stroke="#d8a01e" stroke-width="0.6" />
<path d="M583.65,66.63 L589.50,63.33 L589.50,69.93 Z" fill="none" stroke="#d8a01e" stroke-width="0.9"/>
<line x1="613.58" y1="87.42" x2="613.58" y2="93.98" stroke="#d8a01e" stroke-width="0.6" />
<line x1="612.28" y1="87.42" x2="614.88" y2="87.42" stroke="#d8a01e" stroke-width="0.6" />
<line x1="612.28" y1="93.98" x2="614.88" y2="93.98" stroke="#d8a01e" stroke-width="0.6" />
<path d="M610.13,90.70 L615.98,87.40 L615.98,94.00 Z" fill="none" stroke="#d8a01e" stroke-width="0.9"/>
<line x1="642.60" y1="98.36" x2="642.60" y2="107.11" stroke="#d8a01e" stroke-width="0.6" />
<line x1="641.30" y1="98.36" x2="643.90" y2="98.36" stroke="#d8a01e" stroke-width="0.6" />
<line x1="641.30" y1="107.11" x2="643.90" y2="107.11" stroke="#d8a01e" stroke-width="0.6" />
<path d="M639.15,102.73 L645.00,99.43 L645.00,106.03 Z" fill="none" stroke="#d8a01e" stroke-width="0.9"/>
<line x1="669.08" y1="111.49" x2="669.08" y2="118.05" stroke="#d8a01e" stroke-width="0.6" />
<line x1="667.78" y1="111.49" x2="670.38" y2="111.49" stroke="#d8a01e" stroke-width="0.6" />
<line x1="667.78" y1="118.05" x2="670.38" y2="118.05" stroke="#d8a01e" stroke-width="0.6" />
<path d="M665.63,114.77 L671.48,111.47 L671.48,118.07 Z" fill="none" stroke="#d8a01e" stroke-width="0.9"/>
<line x1="669.08" y1="64.44" x2="669.08" y2="73.20" stroke="#f03c3c" stroke-width="0.6" />
<line x1="667.78" y1="64.44" x2="670.38" y2="64.44" stroke="#f03c3c" stroke-width="0.6" />
<line x1="667.78" y1="73.20" x2="670.38" y2="73.20" stroke="#f03c3c" stroke-width="0.6" />
<circle cx="669.08" cy="68.82" r="3.0" fill="none" stroke="#f03c3c" stroke-width="0.9" />
<line x1="669.08" y1="69.91" x2="669.08" y2="78.67" stroke="#f03c3c" stroke-width="0.6" />
<line x1="667.78" y1="69.91" x2="670.38" y2="69.91" stroke="#f03c3c" stroke-width="0.6" />
<line x1="667.78" y1="78.67" x2="670.38" y2="78.67" stroke="#f03c3c" stroke-width="0.6" />
<circle cx="669.08" cy="74.29" r="3.0" fill="none" stroke="#f03c3c" stroke-width="0.9" />
<line x1="669.08" y1="69.91" x2="669.08" y2="76.48" stroke="#f07a28" stroke-width="0.6" />
<line x1="667.78" y1="69.91" x2="670.38" y2="69.91" stroke="#f07a28" stroke-width="0.6" />
<line x1="667.78" y1="76.48" x2="670.38" y2="76.48" stroke="#f07a28" stroke-width="0.6" />
<path d="M669.08,69.75 L672.36,72.13 L671.11,75.99 L667.05,75.99 L665.80,72.13 Z" fill="none" stroke="#f07a28" stroke-width="0.9"/>
<line x1="669.08" y1="53.50" x2="669.08" y2="60.07" stroke="#1ec8d8" stroke-width="0.6" />
<line x1="667.78" y1="53.50" x2="670.38" y2="53.50" stroke="#1ec8d8" stroke-width="0.6" />
<line x1="667.78" y1="60.07" x2="670.38" y2="60.07" stroke="#1ec8d8" stroke-width="0.6" />
<path d="M672.53,56.79 L666.68,53.49 L666.68,60.09 Z" fill="none" stroke="#1ec8d8" stroke-width="0.9"/>
<line x1="669.08" y1="46.94" x2="669.08" y2="57.88" stroke="#8f8f1e" stroke-width="0.6" />
<line x1="667.78" y1="46.94" x2="670.38" y2="46.94" stroke="#8f8f1e" stroke-width="0.6" />
<line x1="667.78" y1="57.88" x2="670.38" y2="57.88" stroke="#8f8f1e" stroke-width="0.6" />
<path d="M669.08,48.66 L670.05,51.08 L672.65,51.25 L670.65,52.92 L671.28,55.44 L669.08,54.06 L666.88,55.44 L667.51,52.92 L665.51,51.25 L668.11,51.08 Z" fill="none" stroke="#8f8f1e" stroke-width="0.9"/>
<line x1="669.08" y1="83.04" x2="669.08" y2="89.61" stroke="#2eb06a" stroke-width="0.6" />
<line x1="667.78" y1="83.04" x2="670.38" y2="83.04" stroke="#2eb06a" stroke-width="0.6" />
<line x1="667.78" y1="89.61" x2="670.38" y2="89.61" stroke="#2eb06a" stroke-width="0.6" />
<path d="M669.08,89.77 L672.38,83.92 L665.78,83.92 Z" fill="none" stroke="#2eb06a" stroke-width="0.9"/>
<line x1="669.08" y1="87.42" x2="669.08" y2="93.98" stroke="#b070e8" stroke-width="0.6" />
<line x1="667.78" y1="87.42" x2="670.38" y2="87.42" stroke="#b070e8" stroke-width="0.6" />
<line x1="667.78" y1="93.98" x2="670.38" y2="93.98" stroke="#b070e8" stroke-width="0.6" />
<path d="M669.08,86.95 L672.83,90.70 L669.08,94.45 L665.33,90.70 Z" fill="none" stroke="#b070e8" stroke-width="0.9"/>
<line x1="503.50" y1="14.20" x2="503.50" y2="145.70" stroke="#333" stroke-width="1.1" />
<line x1="503.50" y1="145.70" x2="680.70" y2="145.70" stroke="#333" stroke-width="1.1" />
<line x1="500.00" y1="145.40" x2="503.50" y2="145.40" stroke="#333" stroke-width="1" />
<text x="499.30" y="148.50" font-size="8.8" fill="#222" color="#222" text-anchor="end" >0.0</text>
<line x1="500.00" y1="123.52" x2="503.50" y2="123.52" stroke="#333" stroke-width="1" />
<text x="499.30" y="126.62" font-size="8.8" fill="#222" color="#222" text-anchor="end" >0.2</text>
<line x1="500.00" y1="101.64" x2="503.50" y2="101.64" stroke="#333" stroke-width="1" />
<text x="499.30" y="104.74" font-size="8.8" fill="#222" color="#222" text-anchor="end" >0.4</text>
<line x1="500.00" y1="79.76" x2="503.50" y2="79.76" stroke="#333" stroke-width="1" />
<text x="499.30" y="82.86" font-size="8.8" fill="#222" color="#222" text-anchor="end" >0.6</text>
<line x1="500.00" y1="57.88" x2="503.50" y2="57.88" stroke="#333" stroke-width="1" />
<text x="499.30" y="60.98" font-size="8.8" fill="#222" color="#222" text-anchor="end" >0.8</text>
<line x1="500.00" y1="36.00" x2="503.50" y2="36.00" stroke="#333" stroke-width="1" />
<text x="499.30" y="39.10" font-size="8.8" fill="#222" color="#222" text-anchor="end" >1.0</text>
<line x1="500.00" y1="14.12" x2="503.50" y2="14.12" stroke="#333" stroke-width="1" />
<text x="499.30" y="17.22" font-size="8.8" fill="#222" color="#222" text-anchor="end" >1.2</text>
<line x1="501.50" y1="134.46" x2="503.50" y2="134.46" stroke="#333" stroke-width="0.8" />
<line x1="501.50" y1="112.58" x2="503.50" y2="112.58" stroke="#333" stroke-width="0.8" />
<line x1="501.50" y1="90.70" x2="503.50" y2="90.70" stroke="#333" stroke-width="0.8" />
<line x1="501.50" y1="68.82" x2="503.50" y2="68.82" stroke="#333" stroke-width="0.8" />
<line x1="501.50" y1="46.94" x2="503.50" y2="46.94" stroke="#333" stroke-width="0.8" />
<line x1="501.50" y1="25.06" x2="503.50" y2="25.06" stroke="#333" stroke-width="0.8" />
<line x1="514.89" y1="145.70" x2="514.89" y2="147.70" stroke="#333" stroke-width="0.7" />
<line x1="519.29" y1="145.70" x2="519.29" y2="147.70" stroke="#333" stroke-width="0.7" />
<line x1="523.00" y1="145.70" x2="523.00" y2="147.70" stroke="#333" stroke-width="0.7" />
<line x1="526.22" y1="145.70" x2="526.22" y2="147.70" stroke="#333" stroke-width="0.7" />
<line x1="529.06" y1="145.70" x2="529.06" y2="147.70" stroke="#333" stroke-width="0.7" />
<line x1="531.60" y1="145.70" x2="531.60" y2="149.20" stroke="#333" stroke-width="0.9" />
<line x1="548.31" y1="145.70" x2="548.31" y2="147.70" stroke="#333" stroke-width="0.7" />
<line x1="558.08" y1="145.70" x2="558.08" y2="147.70" stroke="#333" stroke-width="0.7" />
<line x1="565.01" y1="145.70" x2="565.01" y2="147.70" stroke="#333" stroke-width="0.7" />
<line x1="570.39" y1="145.70" x2="570.39" y2="147.70" stroke="#333" stroke-width="0.7" />
<line x1="574.79" y1="145.70" x2="574.79" y2="147.70" stroke="#333" stroke-width="0.7" />
<line x1="578.50" y1="145.70" x2="578.50" y2="147.70" stroke="#333" stroke-width="0.7" />
<line x1="581.72" y1="145.70" x2="581.72" y2="147.70" stroke="#333" stroke-width="0.7" />
<line x1="584.56" y1="145.70" x2="584.56" y2="147.70" stroke="#333" stroke-width="0.7" />
<line x1="587.10" y1="145.70" x2="587.10" y2="149.20" stroke="#333" stroke-width="0.9" />
<line x1="603.81" y1="145.70" x2="603.81" y2="147.70" stroke="#333" stroke-width="0.7" />
<line x1="613.58" y1="145.70" x2="613.58" y2="147.70" stroke="#333" stroke-width="0.7" />
<line x1="620.51" y1="145.70" x2="620.51" y2="147.70" stroke="#333" stroke-width="0.7" />
<line x1="625.89" y1="145.70" x2="625.89" y2="147.70" stroke="#333" stroke-width="0.7" />
<line x1="630.29" y1="145.70" x2="630.29" y2="147.70" stroke="#333" stroke-width="0.7" />
<line x1="634.00" y1="145.70" x2="634.00" y2="147.70" stroke="#333" stroke-width="0.7" />
<line x1="637.22" y1="145.70" x2="637.22" y2="147.70" stroke="#333" stroke-width="0.7" />
<line x1="640.06" y1="145.70" x2="640.06" y2="147.70" stroke="#333" stroke-width="0.7" />
<line x1="642.60" y1="145.70" x2="642.60" y2="149.20" stroke="#333" stroke-width="0.9" />
<line x1="659.31" y1="145.70" x2="659.31" y2="147.70" stroke="#333" stroke-width="0.7" />
<line x1="669.08" y1="145.70" x2="669.08" y2="147.70" stroke="#333" stroke-width="0.7" />
<line x1="676.01" y1="145.70" x2="676.01" y2="147.70" stroke="#333" stroke-width="0.7" />
<text x="531.60" y="157.30" font-size="8.8" fill="#222" color="#222" text-anchor="middle" >0.1</text>
<text x="587.10" y="157.30" font-size="8.8" fill="#222" color="#222" text-anchor="middle" >1</text>
<text x="642.60" y="157.30" font-size="8.8" fill="#222" color="#222" text-anchor="middle" >10</text>
<text x="589.20" y="164.60" font-size="7.8" fill="#222" color="#222" text-anchor="middle" >PSFL1191 (µM)</text>
<text transform="translate(485.50,73.70) rotate(-90)" font-size="8.4" fill="#222" color="#222" text-anchor="middle" >I/Imax</text>
<rect x="510.30" y="86.30" width="6.40" height="6.40" fill="none" stroke="#666666" stroke-width="0.9" />
<text x="524.00" y="92.31" font-size="7.8" fill="#222" color="#222" text-anchor="start" >pdP2X7-WT</text>
<circle cx="513.50" cy="99.45" r="3.2" fill="none" stroke="#f03c3c" stroke-width="0.9" />
<text x="524.00" y="102.26" font-size="7.8" fill="#222" color="#222" text-anchor="start" >F88A</text>
<path d="M513.50,105.72 L517.02,111.96 L509.98,111.96 Z" fill="none" stroke="#2f7fe8" stroke-width="0.9"/>
<text x="524.00" y="112.21" font-size="7.8" fill="#222" color="#222" text-anchor="start" >M105F</text>
<path d="M513.50,115.35 L517.50,119.35 L513.50,123.35 L509.50,119.35 Z" fill="none" stroke="#b070e8" stroke-width="0.9"/>
<text x="524.00" y="122.16" font-size="7.8" fill="#222" color="#222" text-anchor="start" >Y298F</text>
<path d="M517.18,129.30 L510.94,125.78 L510.94,132.82 Z" fill="none" stroke="#1ec8d8" stroke-width="0.9"/>
<text x="524.00" y="132.11" font-size="7.8" fill="#222" color="#222" text-anchor="start" >V312A</text>
<path d="M513.50,135.25 L514.53,137.83 L517.30,138.01 L515.17,139.79 L515.85,142.49 L513.50,141.01 L511.15,142.49 L511.83,139.79 L509.70,138.01 L512.47,137.83 Z" fill="none" stroke="#8f8f1e" stroke-width="0.9"/>
<text x="524.00" y="142.06" font-size="7.8" fill="#222" color="#222" text-anchor="start" >F103W</text>
<path d="M558.80,113.08 L562.32,106.84 L555.28,106.84 Z" fill="none" stroke="#2eb06a" stroke-width="0.9"/>
<text x="570.00" y="112.21" font-size="7.8" fill="#222" color="#222" text-anchor="start" >K297R</text>
<path d="M555.12,119.35 L561.36,115.83 L561.36,122.87 Z" fill="none" stroke="#d8a01e" stroke-width="0.9"/>
<text x="570.00" y="122.16" font-size="7.8" fill="#222" color="#222" text-anchor="start" >E305F</text>
<circle cx="558.80" cy="129.30" r="3.2" fill="none" stroke="#8a5a5a" stroke-width="0.9" />
<text x="570.00" y="132.11" font-size="7.8" fill="#222" color="#222" text-anchor="start" >P96G</text>
<path d="M558.80,135.57 L562.30,138.11 L560.96,142.23 L556.64,142.23 L555.30,138.11 Z" fill="none" stroke="#f07a28" stroke-width="0.9"/>
<text x="570.00" y="142.06" font-size="7.8" fill="#222" color="#222" text-anchor="start" >Y295A</text>
<path d="M506.50,170.40 H683.20 V302.30" fill="none" stroke="#c8c8c8" stroke-width="1"/>
<path d="M535.43,199.90 L536.90,200.09 L538.37,200.29 L539.84,200.52 L541.31,200.77 L542.78,201.06 L544.25,201.37 L545.72,201.72 L547.19,202.10 L548.66,202.53 L550.13,203.00 L551.60,203.52 L553.07,204.10 L554.54,204.73 L556.01,205.43 L557.48,206.20 L558.95,207.04 L560.42,207.95 L561.89,208.95 L563.36,210.04 L564.83,211.22 L566.30,212.50 L567.77,213.87 L569.24,215.35 L570.71,216.93 L572.18,218.61 L573.65,220.40 L575.12,222.28 L576.59,224.26 L578.06,226.33 L579.53,228.48 L581.00,230.70 L582.47,232.99 L583.94,235.32 L585.41,237.69 L586.88,240.09 L588.35,242.49 L589.82,244.88 L591.29,247.25 L592.76,249.58 L594.23,251.86 L595.70,254.08 L597.17,256.22 L598.64,258.29 L600.11,260.26 L601.58,262.14 L603.05,263.92 L604.52,265.59 L605.99,267.17 L607.46,268.63 L608.93,270.00 L610.40,271.27 L611.87,272.45 L613.34,273.53 L614.81,274.52 L616.28,275.43 L617.75,276.27 L619.22,277.03 L620.69,277.72 L622.16,278.35 L623.63,278.92" fill="none" stroke="#666666" stroke-width="0.9"/>
<rect x="532.53" y="194.84" width="5.80" height="5.80" fill="none" stroke="#666666" stroke-width="0.9" />
<rect x="547.90" y="201.48" width="5.80" height="5.80" fill="none" stroke="#666666" stroke-width="0.9" />
<rect x="561.93" y="210.97" width="5.80" height="5.80" fill="none" stroke="#666666" stroke-width="0.9" />
<line x1="580.20" y1="225.93" x2="580.20" y2="229.72" stroke="#666666" stroke-width="0.6" />
<line x1="578.90" y1="225.93" x2="581.50" y2="225.93" stroke="#666666" stroke-width="0.6" />
<line x1="578.90" y1="229.72" x2="581.50" y2="229.72" stroke="#666666" stroke-width="0.6" />
<rect x="577.30" y="224.92" width="5.80" height="5.80" fill="none" stroke="#666666" stroke-width="0.9" />
<line x1="594.23" y1="248.99" x2="594.23" y2="252.78" stroke="#666666" stroke-width="0.6" />
<line x1="592.93" y1="248.99" x2="595.53" y2="248.99" stroke="#666666" stroke-width="0.6" />
<line x1="592.93" y1="252.78" x2="595.53" y2="252.78" stroke="#666666" stroke-width="0.6" />
<rect x="591.33" y="247.99" width="5.80" height="5.80" fill="none" stroke="#666666" stroke-width="0.9" />
<line x1="609.60" y1="271.29" x2="609.60" y2="273.19" stroke="#666666" stroke-width="0.6" />
<line x1="608.30" y1="271.29" x2="610.90" y2="271.29" stroke="#666666" stroke-width="0.6" />
<line x1="608.30" y1="273.19" x2="610.90" y2="273.19" stroke="#666666" stroke-width="0.6" />
<rect x="606.70" y="269.34" width="5.80" height="5.80" fill="none" stroke="#666666" stroke-width="0.9" />
<line x1="623.63" y1="278.79" x2="623.63" y2="280.68" stroke="#666666" stroke-width="0.6" />
<line x1="622.33" y1="278.79" x2="624.93" y2="278.79" stroke="#666666" stroke-width="0.6" />
<line x1="622.33" y1="280.68" x2="624.93" y2="280.68" stroke="#666666" stroke-width="0.6" />
<rect x="620.73" y="276.83" width="5.80" height="5.80" fill="none" stroke="#666666" stroke-width="0.9" />
<path d="M550.80,187.78 L552.76,187.86 L554.72,187.94 L556.68,188.04 L558.64,188.15 L560.60,188.28 L562.56,188.42 L564.52,188.58 L566.48,188.76 L568.44,188.97 L570.40,189.20 L572.36,189.46 L574.32,189.76 L576.28,190.09 L578.24,190.47 L580.20,190.89 L582.16,191.36 L584.12,191.89 L586.08,192.49 L588.04,193.15 L590.00,193.90 L591.96,194.73 L593.92,195.65 L595.88,196.68 L597.84,197.81 L599.80,199.06 L601.76,200.44 L603.72,201.95 L605.68,203.60 L607.64,205.39 L609.60,207.33 L611.56,209.41 L613.52,211.64 L615.48,214.02 L617.44,216.54 L619.40,219.18 L621.36,221.94 L623.32,224.80 L625.28,227.74 L627.24,230.74 L629.20,233.78 L631.16,236.83 L633.12,239.88 L635.08,242.89 L637.04,245.85 L639.00,248.73 L640.96,251.51 L642.92,254.18 L644.88,256.73 L646.84,259.14 L648.80,261.40 L650.76,263.52 L652.72,265.49 L654.68,267.32 L656.64,269.00 L658.60,270.54 L660.56,271.94 L662.52,273.22 L664.48,274.38 L666.44,275.43 L668.40,276.38" fill="none" stroke="#f03c3c" stroke-width="0.9"/>
<circle cx="550.80" cy="185.69" r="2.9" fill="none" stroke="#f03c3c" stroke-width="0.9" />
<circle cx="564.83" cy="187.59" r="2.9" fill="none" stroke="#f03c3c" stroke-width="0.9" />
<circle cx="580.20" cy="193.19" r="2.9" fill="none" stroke="#f03c3c" stroke-width="0.9" />
<circle cx="594.23" cy="196.32" r="2.9" fill="none" stroke="#f03c3c" stroke-width="0.9" />
<line x1="609.60" y1="207.23" x2="609.60" y2="211.03" stroke="#f03c3c" stroke-width="0.6" />
<line x1="608.30" y1="207.23" x2="610.90" y2="207.23" stroke="#f03c3c" stroke-width="0.6" />
<line x1="608.30" y1="211.03" x2="610.90" y2="211.03" stroke="#f03c3c" stroke-width="0.6" />
<circle cx="609.60" cy="209.13" r="2.9" fill="none" stroke="#f03c3c" stroke-width="0.9" />
<line x1="623.63" y1="223.36" x2="623.63" y2="227.16" stroke="#f03c3c" stroke-width="0.6" />
<line x1="622.33" y1="223.36" x2="624.93" y2="223.36" stroke="#f03c3c" stroke-width="0.6" />
<line x1="622.33" y1="227.16" x2="624.93" y2="227.16" stroke="#f03c3c" stroke-width="0.6" />
<circle cx="623.63" cy="225.26" r="2.9" fill="none" stroke="#f03c3c" stroke-width="0.9" />
<line x1="639.00" y1="242.34" x2="639.00" y2="246.14" stroke="#f03c3c" stroke-width="0.6" />
<line x1="637.70" y1="242.34" x2="640.30" y2="242.34" stroke="#f03c3c" stroke-width="0.6" />
<line x1="637.70" y1="246.14" x2="640.30" y2="246.14" stroke="#f03c3c" stroke-width="0.6" />
<circle cx="639.00" cy="244.24" r="2.9" fill="none" stroke="#f03c3c" stroke-width="0.9" />
<line x1="653.03" y1="266.54" x2="653.03" y2="270.34" stroke="#f03c3c" stroke-width="0.6" />
<line x1="651.73" y1="266.54" x2="654.33" y2="266.54" stroke="#f03c3c" stroke-width="0.6" />
<line x1="651.73" y1="270.34" x2="654.33" y2="270.34" stroke="#f03c3c" stroke-width="0.6" />
<circle cx="653.03" cy="268.44" r="2.9" fill="none" stroke="#f03c3c" stroke-width="0.9" />
<circle cx="668.40" cy="279.73" r="2.9" fill="none" stroke="#f03c3c" stroke-width="0.9" />
<path d="M564.83,191.83 L566.30,192.02 L567.77,192.23 L569.24,192.46 L570.71,192.71 L572.18,192.99 L573.65,193.29 L575.12,193.63 L576.59,194.00 L578.06,194.40 L579.53,194.85 L581.00,195.34 L582.47,195.87 L583.94,196.45 L585.41,197.09 L586.88,197.78 L588.35,198.54 L589.82,199.36 L591.29,200.25 L592.76,201.22 L594.23,202.26 L595.70,203.38 L597.17,204.58 L598.64,205.87 L600.11,207.25 L601.58,208.72 L603.05,210.28 L604.52,211.92 L605.99,213.66 L607.46,215.47 L608.93,217.37 L610.40,219.35 L611.87,221.40 L613.34,223.50 L614.81,225.66 L616.28,227.87 L617.75,230.11 L619.22,232.37 L620.69,234.64 L622.16,236.90 L623.63,239.16 L625.10,241.39 L626.57,243.58 L628.04,245.72 L629.51,247.81 L630.98,249.84 L632.45,251.79 L633.92,253.66 L635.39,255.46 L636.86,257.16 L638.33,258.78 L639.80,260.31 L641.27,261.75 L642.74,263.10 L644.21,264.36 L645.68,265.54 L647.15,266.64 L648.62,267.65 L650.09,268.59 L651.56,269.46 L653.03,270.26" fill="none" stroke="#2f7fe8" stroke-width="0.9"/>
<path d="M580.20,192.51 L583.39,198.16 L577.01,198.16 Z" fill="none" stroke="#2f7fe8" stroke-width="0.9"/>
<line x1="594.23" y1="198.69" x2="594.23" y2="202.49" stroke="#2f7fe8" stroke-width="0.6" />
<line x1="592.93" y1="198.69" x2="595.53" y2="198.69" stroke="#2f7fe8" stroke-width="0.6" />
<line x1="592.93" y1="202.49" x2="595.53" y2="202.49" stroke="#2f7fe8" stroke-width="0.6" />
<path d="M594.23,197.25 L597.42,202.91 L591.04,202.91 Z" fill="none" stroke="#2f7fe8" stroke-width="0.9"/>
<line x1="609.60" y1="217.67" x2="609.60" y2="221.47" stroke="#2f7fe8" stroke-width="0.6" />
<line x1="608.30" y1="217.67" x2="610.90" y2="217.67" stroke="#2f7fe8" stroke-width="0.6" />
<line x1="608.30" y1="221.47" x2="610.90" y2="221.47" stroke="#2f7fe8" stroke-width="0.6" />
<path d="M609.60,216.23 L612.79,221.89 L606.41,221.89 Z" fill="none" stroke="#2f7fe8" stroke-width="0.9"/>
<line x1="623.63" y1="235.70" x2="623.63" y2="241.40" stroke="#2f7fe8" stroke-width="0.6" />
<line x1="622.33" y1="235.70" x2="624.93" y2="235.70" stroke="#2f7fe8" stroke-width="0.6" />
<line x1="622.33" y1="241.40" x2="624.93" y2="241.40" stroke="#2f7fe8" stroke-width="0.6" />
<path d="M623.63,235.21 L626.82,240.87 L620.44,240.87 Z" fill="none" stroke="#2f7fe8" stroke-width="0.9"/>
<line x1="639.00" y1="257.53" x2="639.00" y2="261.32" stroke="#2f7fe8" stroke-width="0.6" />
<line x1="637.70" y1="257.53" x2="640.30" y2="257.53" stroke="#2f7fe8" stroke-width="0.6" />
<line x1="637.70" y1="261.32" x2="640.30" y2="261.32" stroke="#2f7fe8" stroke-width="0.6" />
<path d="M639.00,256.09 L642.19,261.75 L635.81,261.75 Z" fill="none" stroke="#2f7fe8" stroke-width="0.9"/>
<line x1="653.03" y1="268.44" x2="653.03" y2="272.24" stroke="#2f7fe8" stroke-width="0.6" />
<line x1="651.73" y1="268.44" x2="654.33" y2="268.44" stroke="#2f7fe8" stroke-width="0.6" />
<line x1="651.73" y1="272.24" x2="654.33" y2="272.24" stroke="#2f7fe8" stroke-width="0.6" />
<path d="M653.03,267.00 L656.22,272.66 L649.84,272.66 Z" fill="none" stroke="#2f7fe8" stroke-width="0.9"/>
<path d="M580.20,195.44 L581.41,196.31 L582.63,197.22 L583.84,198.17 L585.06,199.17 L586.27,200.21 L587.48,201.30 L588.70,202.42 L589.91,203.59 L591.12,204.81 L592.34,206.06 L593.55,207.36 L594.77,208.70 L595.98,210.08 L597.19,211.50 L598.41,212.95 L599.62,214.44 L600.83,215.96 L602.05,217.51 L603.26,219.09 L604.48,220.69 L605.69,222.32 L606.90,223.96 L608.12,225.61 L609.33,227.27 L610.54,228.94 L611.76,230.62 L612.97,232.29 L614.19,233.96 L615.40,235.61 L616.61,237.26 L617.83,238.89 L619.04,240.50 L620.26,242.09 L621.47,243.65 L622.68,245.18 L623.90,246.68 L625.11,248.15 L626.32,249.58 L627.54,250.98 L628.75,252.33 L629.97,253.65 L631.18,254.92 L632.39,256.15 L633.61,257.34 L634.82,258.48 L636.03,259.58 L637.25,260.64 L638.46,261.65 L639.68,262.62 L640.89,263.55 L642.10,264.44 L643.32,265.28 L644.53,266.09 L645.74,266.86 L646.96,267.59 L648.17,268.28 L649.39,268.94 L650.60,269.56 L651.81,270.15 L653.03,270.71" fill="none" stroke="#2eb06a" stroke-width="0.9"/>
<line x1="594.23" y1="206.28" x2="594.23" y2="210.08" stroke="#2eb06a" stroke-width="0.6" />
<line x1="592.93" y1="206.28" x2="595.53" y2="206.28" stroke="#2eb06a" stroke-width="0.6" />
<line x1="592.93" y1="210.08" x2="595.53" y2="210.08" stroke="#2eb06a" stroke-width="0.6" />
<path d="M594.23,211.52 L597.42,205.86 L591.04,205.86 Z" fill="none" stroke="#2eb06a" stroke-width="0.9"/>
<line x1="609.60" y1="225.26" x2="609.60" y2="229.06" stroke="#2eb06a" stroke-width="0.6" />
<line x1="608.30" y1="225.26" x2="610.90" y2="225.26" stroke="#2eb06a" stroke-width="0.6" />
<line x1="608.30" y1="229.06" x2="610.90" y2="229.06" stroke="#2eb06a" stroke-width="0.6" />
<path d="M609.60,230.50 L612.79,224.84 L606.41,224.84 Z" fill="none" stroke="#2eb06a" stroke-width="0.9"/>
<line x1="623.63" y1="244.24" x2="623.63" y2="249.94" stroke="#2eb06a" stroke-width="0.6" />
<line x1="622.33" y1="244.24" x2="624.93" y2="244.24" stroke="#2eb06a" stroke-width="0.6" />
<line x1="622.33" y1="249.94" x2="624.93" y2="249.94" stroke="#2eb06a" stroke-width="0.6" />
<path d="M623.63,250.42 L626.82,244.77 L620.44,244.77 Z" fill="none" stroke="#2eb06a" stroke-width="0.9"/>
<line x1="639.00" y1="259.43" x2="639.00" y2="263.22" stroke="#2eb06a" stroke-width="0.6" />
<line x1="637.70" y1="259.43" x2="640.30" y2="259.43" stroke="#2eb06a" stroke-width="0.6" />
<line x1="637.70" y1="263.22" x2="640.30" y2="263.22" stroke="#2eb06a" stroke-width="0.6" />
<path d="M639.00,264.66 L642.19,259.00 L635.81,259.00 Z" fill="none" stroke="#2eb06a" stroke-width="0.9"/>
<line x1="653.03" y1="269.11" x2="653.03" y2="272.90" stroke="#2eb06a" stroke-width="0.6" />
<line x1="651.73" y1="269.11" x2="654.33" y2="269.11" stroke="#2eb06a" stroke-width="0.6" />
<line x1="651.73" y1="272.90" x2="654.33" y2="272.90" stroke="#2eb06a" stroke-width="0.6" />
<path d="M653.03,274.34 L656.22,268.68 L649.84,268.68 Z" fill="none" stroke="#2eb06a" stroke-width="0.9"/>
<path d="M550.80,193.00 L552.27,193.00 L553.74,193.00 L555.21,193.00 L556.68,193.00 L558.15,193.00 L559.62,193.00 L561.09,193.00 L562.56,193.00 L564.03,193.00 L565.50,193.00 L566.97,193.01 L568.44,193.01 L569.91,193.01 L571.38,193.02 L572.85,193.03 L574.32,193.04 L575.79,193.05 L577.26,193.07 L578.73,193.09 L580.20,193.12 L581.67,193.15 L583.14,193.20 L584.61,193.26 L586.08,193.35 L587.55,193.45 L589.02,193.59 L590.49,193.77 L591.96,194.01 L593.43,194.31 L594.90,194.70 L596.37,195.21 L597.84,195.87 L599.31,196.71 L600.78,197.78 L602.25,199.13 L603.72,200.83 L605.19,202.93 L606.66,205.51 L608.13,208.61 L609.60,212.26 L611.07,216.47 L612.54,221.18 L614.01,226.29 L615.48,231.66 L616.95,237.11 L618.42,242.44 L619.89,247.48 L621.36,252.10 L622.83,256.20 L624.30,259.74 L625.77,262.73 L627.24,265.21 L628.71,267.24 L630.18,268.86 L631.65,270.15 L633.12,271.18 L634.59,271.97 L636.06,272.60 L637.53,273.08 L639.00,273.46" fill="none" stroke="#b070e8" stroke-width="0.9"/>
<path d="M550.80,189.56 L554.42,193.19 L550.80,196.81 L547.17,193.19 Z" fill="none" stroke="#b070e8" stroke-width="0.9"/>
<path d="M564.83,190.32 L568.45,193.95 L564.83,197.57 L561.20,193.95 Z" fill="none" stroke="#b070e8" stroke-width="0.9"/>
<path d="M580.20,195.06 L583.82,198.69 L580.20,202.31 L576.57,198.69 Z" fill="none" stroke="#b070e8" stroke-width="0.9"/>
<line x1="594.23" y1="202.49" x2="594.23" y2="206.28" stroke="#b070e8" stroke-width="0.6" />
<line x1="592.93" y1="202.49" x2="595.53" y2="202.49" stroke="#b070e8" stroke-width="0.6" />
<line x1="592.93" y1="206.28" x2="595.53" y2="206.28" stroke="#b070e8" stroke-width="0.6" />
<path d="M594.23,200.76 L597.85,204.38 L594.23,208.01 L590.60,204.38 Z" fill="none" stroke="#b070e8" stroke-width="0.9"/>
<line x1="609.60" y1="211.98" x2="609.60" y2="215.77" stroke="#b070e8" stroke-width="0.6" />
<line x1="608.30" y1="211.98" x2="610.90" y2="211.98" stroke="#b070e8" stroke-width="0.6" />
<line x1="608.30" y1="215.77" x2="610.90" y2="215.77" stroke="#b070e8" stroke-width="0.6" />
<path d="M609.60,210.25 L613.22,213.87 L609.60,217.50 L605.97,213.87 Z" fill="none" stroke="#b070e8" stroke-width="0.9"/>
<line x1="623.63" y1="257.91" x2="623.63" y2="261.70" stroke="#b070e8" stroke-width="0.6" />
<line x1="622.33" y1="257.91" x2="624.93" y2="257.91" stroke="#b070e8" stroke-width="0.6" />
<line x1="622.33" y1="261.70" x2="624.93" y2="261.70" stroke="#b070e8" stroke-width="0.6" />
<path d="M623.63,256.18 L627.25,259.81 L623.63,263.43 L620.00,259.81 Z" fill="none" stroke="#b070e8" stroke-width="0.9"/>
<line x1="639.00" y1="272.05" x2="639.00" y2="273.95" stroke="#b070e8" stroke-width="0.6" />
<line x1="637.70" y1="272.05" x2="640.30" y2="272.05" stroke="#b070e8" stroke-width="0.6" />
<line x1="637.70" y1="273.95" x2="640.30" y2="273.95" stroke="#b070e8" stroke-width="0.6" />
<path d="M639.00,269.37 L642.62,273.00 L639.00,276.62 L635.38,273.00 Z" fill="none" stroke="#b070e8" stroke-width="0.9"/>
<path d="M550.80,190.25 L552.27,190.27 L553.74,190.29 L555.21,190.33 L556.68,190.36 L558.15,190.41 L559.62,190.47 L561.09,190.53 L562.56,190.62 L564.03,190.72 L565.50,190.84 L566.97,190.99 L568.44,191.16 L569.91,191.38 L571.38,191.64 L572.85,191.96 L574.32,192.34 L575.79,192.80 L577.26,193.35 L578.73,194.02 L580.20,194.81 L581.67,195.75 L583.14,196.87 L584.61,198.20 L586.08,199.75 L587.55,201.56 L589.02,203.65 L590.49,206.05 L591.96,208.77 L593.43,211.82 L594.90,215.19 L596.37,218.86 L597.84,222.80 L599.31,226.94 L600.78,231.24 L602.25,235.59 L603.72,239.93 L605.19,244.18 L606.66,248.25 L608.13,252.09 L609.60,255.65 L611.07,258.90 L612.54,261.82 L614.01,264.41 L615.48,266.69 L616.95,268.67 L618.42,270.38 L619.89,271.84 L621.36,273.08 L622.83,274.13 L624.30,275.02 L625.77,275.76 L627.24,276.37 L628.71,276.89 L630.18,277.32 L631.65,277.67 L633.12,277.97 L634.59,278.21 L636.06,278.41 L637.53,278.58 L639.00,278.72" fill="none" stroke="#d8a01e" stroke-width="0.9"/>
<path d="M547.46,187.59 L553.12,184.40 L553.12,190.78 Z" fill="none" stroke="#d8a01e" stroke-width="0.9"/>
<path d="M561.49,196.32 L567.15,193.13 L567.15,199.51 Z" fill="none" stroke="#d8a01e" stroke-width="0.9"/>
<line x1="580.20" y1="205.33" x2="580.20" y2="214.82" stroke="#d8a01e" stroke-width="0.6" />
<line x1="578.90" y1="205.33" x2="581.50" y2="205.33" stroke="#d8a01e" stroke-width="0.6" />
<line x1="578.90" y1="214.82" x2="581.50" y2="214.82" stroke="#d8a01e" stroke-width="0.6" />
<path d="M576.86,210.08 L582.52,206.89 L582.52,213.27 Z" fill="none" stroke="#d8a01e" stroke-width="0.9"/>
<line x1="594.23" y1="217.67" x2="594.23" y2="221.47" stroke="#d8a01e" stroke-width="0.6" />
<line x1="592.93" y1="217.67" x2="595.53" y2="217.67" stroke="#d8a01e" stroke-width="0.6" />
<line x1="592.93" y1="221.47" x2="595.53" y2="221.47" stroke="#d8a01e" stroke-width="0.6" />
<path d="M590.89,219.57 L596.55,216.38 L596.55,222.76 Z" fill="none" stroke="#d8a01e" stroke-width="0.9"/>
<line x1="609.60" y1="242.34" x2="609.60" y2="251.83" stroke="#d8a01e" stroke-width="0.6" />
<line x1="608.30" y1="242.34" x2="610.90" y2="242.34" stroke="#d8a01e" stroke-width="0.6" />
<line x1="608.30" y1="251.83" x2="610.90" y2="251.83" stroke="#d8a01e" stroke-width="0.6" />
<path d="M606.26,247.09 L611.92,243.90 L611.92,250.28 Z" fill="none" stroke="#d8a01e" stroke-width="0.9"/>
<line x1="623.63" y1="277.46" x2="623.63" y2="279.36" stroke="#d8a01e" stroke-width="0.6" />
<line x1="622.33" y1="277.46" x2="624.93" y2="277.46" stroke="#d8a01e" stroke-width="0.6" />
<line x1="622.33" y1="279.36" x2="624.93" y2="279.36" stroke="#d8a01e" stroke-width="0.6" />
<path d="M620.29,278.41 L625.95,275.22 L625.95,281.60 Z" fill="none" stroke="#d8a01e" stroke-width="0.9"/>
<path d="M635.66,278.98 L641.32,275.79 L641.32,282.17 Z" fill="none" stroke="#d8a01e" stroke-width="0.9"/>
<line x1="506.50" y1="170.40" x2="506.50" y2="302.30" stroke="#333" stroke-width="1.1" />
<line x1="506.50" y1="302.30" x2="683.20" y2="302.30" stroke="#333" stroke-width="1.1" />
<line x1="503.00" y1="284.10" x2="506.50" y2="284.10" stroke="#333" stroke-width="1" />
<text x="502.30" y="287.20" font-size="8.8" fill="#222" color="#222" text-anchor="end" >0.0</text>
<line x1="503.00" y1="265.12" x2="506.50" y2="265.12" stroke="#333" stroke-width="1" />
<text x="502.30" y="268.22" font-size="8.8" fill="#222" color="#222" text-anchor="end" >0.2</text>
<line x1="503.00" y1="246.14" x2="506.50" y2="246.14" stroke="#333" stroke-width="1" />
<text x="502.30" y="249.24" font-size="8.8" fill="#222" color="#222" text-anchor="end" >0.4</text>
<line x1="503.00" y1="227.16" x2="506.50" y2="227.16" stroke="#333" stroke-width="1" />
<text x="502.30" y="230.26" font-size="8.8" fill="#222" color="#222" text-anchor="end" >0.6</text>
<line x1="503.00" y1="208.18" x2="506.50" y2="208.18" stroke="#333" stroke-width="1" />
<text x="502.30" y="211.28" font-size="8.8" fill="#222" color="#222" text-anchor="end" >0.8</text>
<line x1="503.00" y1="189.20" x2="506.50" y2="189.20" stroke="#333" stroke-width="1" />
<text x="502.30" y="192.30" font-size="8.8" fill="#222" color="#222" text-anchor="end" >1.0</text>
<line x1="503.00" y1="170.22" x2="506.50" y2="170.22" stroke="#333" stroke-width="1" />
<text x="502.30" y="173.32" font-size="8.8" fill="#222" color="#222" text-anchor="end" >1.2</text>
<line x1="504.50" y1="293.59" x2="506.50" y2="293.59" stroke="#333" stroke-width="0.8" />
<line x1="504.50" y1="274.61" x2="506.50" y2="274.61" stroke="#333" stroke-width="0.8" />
<line x1="504.50" y1="255.63" x2="506.50" y2="255.63" stroke="#333" stroke-width="0.8" />
<line x1="504.50" y1="236.65" x2="506.50" y2="236.65" stroke="#333" stroke-width="0.8" />
<line x1="504.50" y1="217.67" x2="506.50" y2="217.67" stroke="#333" stroke-width="0.8" />
<line x1="504.50" y1="198.69" x2="506.50" y2="198.69" stroke="#333" stroke-width="0.8" />
<line x1="504.50" y1="179.71" x2="506.50" y2="179.71" stroke="#333" stroke-width="0.8" />
<line x1="512.55" y1="302.30" x2="512.55" y2="304.30" stroke="#333" stroke-width="0.7" />
<line x1="514.88" y1="302.30" x2="514.88" y2="304.30" stroke="#333" stroke-width="0.7" />
<line x1="516.85" y1="302.30" x2="516.85" y2="304.30" stroke="#333" stroke-width="0.7" />
<line x1="518.55" y1="302.30" x2="518.55" y2="304.30" stroke="#333" stroke-width="0.7" />
<line x1="520.05" y1="302.30" x2="520.05" y2="304.30" stroke="#333" stroke-width="0.7" />
<line x1="521.40" y1="302.30" x2="521.40" y2="305.80" stroke="#333" stroke-width="0.9" />
<line x1="530.25" y1="302.30" x2="530.25" y2="304.30" stroke="#333" stroke-width="0.7" />
<line x1="535.43" y1="302.30" x2="535.43" y2="304.30" stroke="#333" stroke-width="0.7" />
<line x1="539.10" y1="302.30" x2="539.10" y2="304.30" stroke="#333" stroke-width="0.7" />
<line x1="541.95" y1="302.30" x2="541.95" y2="304.30" stroke="#333" stroke-width="0.7" />
<line x1="544.28" y1="302.30" x2="544.28" y2="304.30" stroke="#333" stroke-width="0.7" />
<line x1="546.25" y1="302.30" x2="546.25" y2="304.30" stroke="#333" stroke-width="0.7" />
<line x1="547.95" y1="302.30" x2="547.95" y2="304.30" stroke="#333" stroke-width="0.7" />
<line x1="549.45" y1="302.30" x2="549.45" y2="304.30" stroke="#333" stroke-width="0.7" />
<line x1="550.80" y1="302.30" x2="550.80" y2="305.80" stroke="#333" stroke-width="0.9" />
<line x1="559.65" y1="302.30" x2="559.65" y2="304.30" stroke="#333" stroke-width="0.7" />
<line x1="564.83" y1="302.30" x2="564.83" y2="304.30" stroke="#333" stroke-width="0.7" />
<line x1="568.50" y1="302.30" x2="568.50" y2="304.30" stroke="#333" stroke-width="0.7" />
<line x1="571.35" y1="302.30" x2="571.35" y2="304.30" stroke="#333" stroke-width="0.7" />
<line x1="573.68" y1="302.30" x2="573.68" y2="304.30" stroke="#333" stroke-width="0.7" />
<line x1="575.65" y1="302.30" x2="575.65" y2="304.30" stroke="#333" stroke-width="0.7" />
<line x1="577.35" y1="302.30" x2="577.35" y2="304.30" stroke="#333" stroke-width="0.7" />
<line x1="578.85" y1="302.30" x2="578.85" y2="304.30" stroke="#333" stroke-width="0.7" />
<line x1="580.20" y1="302.30" x2="580.20" y2="305.80" stroke="#333" stroke-width="0.9" />
<line x1="589.05" y1="302.30" x2="589.05" y2="304.30" stroke="#333" stroke-width="0.7" />
<line x1="594.23" y1="302.30" x2="594.23" y2="304.30" stroke="#333" stroke-width="0.7" />
<line x1="597.90" y1="302.30" x2="597.90" y2="304.30" stroke="#333" stroke-width="0.7" />
<line x1="600.75" y1="302.30" x2="600.75" y2="304.30" stroke="#333" stroke-width="0.7" />
<line x1="603.08" y1="302.30" x2="603.08" y2="304.30" stroke="#333" stroke-width="0.7" />
<line x1="605.05" y1="302.30" x2="605.05" y2="304.30" stroke="#333" stroke-width="0.7" />
<line x1="606.75" y1="302.30" x2="606.75" y2="304.30" stroke="#333" stroke-width="0.7" />
<line x1="608.25" y1="302.30" x2="608.25" y2="304.30" stroke="#333" stroke-width="0.7" />
<line x1="609.60" y1="302.30" x2="609.60" y2="305.80" stroke="#333" stroke-width="0.9" />
<line x1="618.45" y1="302.30" x2="618.45" y2="304.30" stroke="#333" stroke-width="0.7" />
<line x1="623.63" y1="302.30" x2="623.63" y2="304.30" stroke="#333" stroke-width="0.7" />
<line x1="627.30" y1="302.30" x2="627.30" y2="304.30" stroke="#333" stroke-width="0.7" />
<line x1="630.15" y1="302.30" x2="630.15" y2="304.30" stroke="#333" stroke-width="0.7" />
<line x1="632.48" y1="302.30" x2="632.48" y2="304.30" stroke="#333" stroke-width="0.7" />
<line x1="634.45" y1="302.30" x2="634.45" y2="304.30" stroke="#333" stroke-width="0.7" />
<line x1="636.15" y1="302.30" x2="636.15" y2="304.30" stroke="#333" stroke-width="0.7" />
<line x1="637.65" y1="302.30" x2="637.65" y2="304.30" stroke="#333" stroke-width="0.7" />
<line x1="639.00" y1="302.30" x2="639.00" y2="305.80" stroke="#333" stroke-width="0.9" />
<line x1="647.85" y1="302.30" x2="647.85" y2="304.30" stroke="#333" stroke-width="0.7" />
<line x1="653.03" y1="302.30" x2="653.03" y2="304.30" stroke="#333" stroke-width="0.7" />
<line x1="656.70" y1="302.30" x2="656.70" y2="304.30" stroke="#333" stroke-width="0.7" />
<line x1="659.55" y1="302.30" x2="659.55" y2="304.30" stroke="#333" stroke-width="0.7" />
<line x1="661.88" y1="302.30" x2="661.88" y2="304.30" stroke="#333" stroke-width="0.7" />
<line x1="663.85" y1="302.30" x2="663.85" y2="304.30" stroke="#333" stroke-width="0.7" />
<line x1="665.55" y1="302.30" x2="665.55" y2="304.30" stroke="#333" stroke-width="0.7" />
<line x1="667.05" y1="302.30" x2="667.05" y2="304.30" stroke="#333" stroke-width="0.7" />
<line x1="668.40" y1="302.30" x2="668.40" y2="305.80" stroke="#333" stroke-width="0.9" />
<line x1="677.25" y1="302.30" x2="677.25" y2="304.30" stroke="#333" stroke-width="0.7" />
<line x1="682.43" y1="302.30" x2="682.43" y2="304.30" stroke="#333" stroke-width="0.7" />
<text x="521.40" y="313.10" font-size="8.8" fill="#222" color="#222" text-anchor="middle" >0.1</text>
<text x="550.80" y="313.10" font-size="8.8" fill="#222" color="#222" text-anchor="middle" >1</text>
<text x="580.20" y="313.10" font-size="8.8" fill="#222" color="#222" text-anchor="middle" >10</text>
<text x="609.60" y="313.10" font-size="8.8" fill="#222" color="#222" text-anchor="middle" >100</text>
<text x="639.00" y="313.10" font-size="8.8" fill="#222" color="#222" text-anchor="middle" >1000</text>
<text x="668.40" y="313.10" font-size="8.8" fill="#222" color="#222" text-anchor="middle" >10000</text>
<text x="599.80" y="327.50" font-size="9.2" fill="#222" color="#222" text-anchor="middle" >JNJ54175446 (nM)</text>
<text transform="translate(487.00,236.20) rotate(-90)" font-size="8.4" fill="#222" color="#222" text-anchor="middle" >I/Imax</text>
<rect x="511.10" y="230.50" width="6.20" height="6.20" fill="none" stroke="#666666" stroke-width="0.9" />
<text x="524.60" y="236.95" font-size="9.3" fill="#222" color="#222" text-anchor="start" >pdP2X7-WT</text>
<circle cx="514.20" cy="244.70" r="3.1" fill="none" stroke="#f03c3c" stroke-width="0.9" />
<text x="524.60" y="248.05" font-size="9.3" fill="#222" color="#222" text-anchor="start" >F88A</text>
<path d="M514.20,252.23 L517.61,258.28 L510.79,258.28 Z" fill="none" stroke="#2f7fe8" stroke-width="0.9"/>
<text x="524.60" y="259.15" font-size="9.3" fill="#222" color="#222" text-anchor="start" >F95A</text>
<path d="M514.20,270.46 L517.61,264.42 L510.79,264.42 Z" fill="none" stroke="#2eb06a" stroke-width="0.9"/>
<text x="524.60" y="270.25" font-size="9.3" fill="#222" color="#222" text-anchor="start" >F103A</text>
<path d="M514.20,274.12 L518.08,278.00 L514.20,281.88 L510.33,278.00 Z" fill="none" stroke="#b070e8" stroke-width="0.9"/>
<text x="524.60" y="281.35" font-size="9.3" fill="#222" color="#222" text-anchor="start" >Y298F</text>
<path d="M510.64,289.10 L516.68,285.69 L516.68,292.51 Z" fill="none" stroke="#d8a01e" stroke-width="0.9"/>
<text x="524.60" y="292.45" font-size="9.3" fill="#222" color="#222" text-anchor="start" >V312A</text>
<line x1="143.6" y1="343.6" x2="340.4" y2="343.6" stroke="#999" stroke-width="1.1"/>
<line x1="340.4" y1="343.6" x2="340.4" y2="467.4" stroke="#999" stroke-width="1"/>
<line x1="143.60" y1="343.60" x2="143.60" y2="467.40" stroke="#333" stroke-width="1.1" />
<line x1="143.60" y1="467.40" x2="340.40" y2="467.40" stroke="#333" stroke-width="1.1" />
<line x1="140.10" y1="457.50" x2="143.60" y2="457.50" stroke="#333" stroke-width="1" />
<text x="139.60" y="460.20" font-size="8.0" fill="#222" color="#222" text-anchor="end" >0.0</text>
<line x1="140.10" y1="419.54" x2="143.60" y2="419.54" stroke="#333" stroke-width="1" />
<text x="139.60" y="422.24" font-size="8.0" fill="#222" color="#222" text-anchor="end" >0.4</text>
<line x1="140.10" y1="381.58" x2="143.60" y2="381.58" stroke="#333" stroke-width="1" />
<text x="139.60" y="384.28" font-size="8.0" fill="#222" color="#222" text-anchor="end" >0.8</text>
<line x1="140.10" y1="343.62" x2="143.60" y2="343.62" stroke="#333" stroke-width="1" />
<text x="139.60" y="346.32" font-size="8.0" fill="#222" color="#222" text-anchor="end" >1.2</text>
<line x1="141.60" y1="438.52" x2="143.60" y2="438.52" stroke="#333" stroke-width="0.8" />
<line x1="141.60" y1="400.56" x2="143.60" y2="400.56" stroke="#333" stroke-width="0.8" />
<line x1="141.60" y1="362.60" x2="143.60" y2="362.60" stroke="#333" stroke-width="0.8" />
<line x1="176.80" y1="467.40" x2="176.80" y2="470.40" stroke="#333" stroke-width="1" />
<text x="176.80" y="479.00" font-size="8.4" fill="#222" color="#222" text-anchor="middle" >F88C</text>
<line x1="163.80" y1="392.49" x2="188.70" y2="377.78" stroke="#000" stroke-width="0.9" />
<line x1="163.80" y1="398.09" x2="188.70" y2="385.66" stroke="#000" stroke-width="0.9" />
<line x1="163.80" y1="403.69" x2="188.70" y2="377.78" stroke="#000" stroke-width="0.9" />
<line x1="163.80" y1="406.25" x2="188.70" y2="387.75" stroke="#000" stroke-width="0.9" />
<line x1="163.80" y1="416.31" x2="188.70" y2="385.66" stroke="#000" stroke-width="0.9" />
<circle cx="163.80" cy="392.49" r="3.5" fill="none" stroke="#111" stroke-width="1.0" />
<circle cx="163.80" cy="398.09" r="3.5" fill="none" stroke="#111" stroke-width="1.0" />
<circle cx="163.80" cy="403.69" r="3.5" fill="none" stroke="#111" stroke-width="1.0" />
<circle cx="163.80" cy="406.25" r="3.5" fill="none" stroke="#111" stroke-width="1.0" />
<circle cx="163.80" cy="416.31" r="3.5" fill="none" stroke="#111" stroke-width="1.0" />
<circle cx="188.70" cy="377.78" r="3.5" fill="none" stroke="#22c822" stroke-width="1.0" />
<circle cx="188.70" cy="385.66" r="3.5" fill="none" stroke="#22c822" stroke-width="1.0" />
<circle cx="188.70" cy="377.78" r="3.5" fill="none" stroke="#22c822" stroke-width="1.0" />
<circle cx="188.70" cy="387.75" r="3.5" fill="none" stroke="#22c822" stroke-width="1.0" />
<circle cx="188.70" cy="385.66" r="3.5" fill="none" stroke="#22c822" stroke-width="1.0" />
<text x="162.80" y="429.00" font-size="6.4" fill="#222" color="#222" text-anchor="middle" >(5)</text>
<text x="189.50" y="400.00" font-size="6.4" fill="#222" color="#222" text-anchor="middle" >(5)</text>
<text x="176.00" y="358.60" font-size="8.0" fill="#222" color="#222" text-anchor="middle" >p = 0.008</text>
<line x1="162.50" y1="361.60" x2="189.50" y2="361.60" stroke="#888" stroke-width="1.0" />
<line x1="241.80" y1="467.40" x2="241.80" y2="470.40" stroke="#333" stroke-width="1" />
<text x="241.80" y="479.00" font-size="8.4" fill="#222" color="#222" text-anchor="middle" >F108C</text>
<line x1="229.60" y1="377.78" x2="254.20" y2="401.79" stroke="#000" stroke-width="0.9" />
<line x1="229.60" y1="385.38" x2="254.20" y2="407.30" stroke="#000" stroke-width="0.9" />
<line x1="229.60" y1="398.09" x2="254.20" y2="381.58" stroke="#000" stroke-width="0.9" />
<line x1="229.60" y1="401.51" x2="254.20" y2="393.73" stroke="#000" stroke-width="0.9" />
<line x1="229.60" y1="404.36" x2="254.20" y2="401.79" stroke="#000" stroke-width="0.9" />
<line x1="229.60" y1="407.68" x2="254.20" y2="434.34" stroke="#000" stroke-width="0.9" />
<circle cx="229.60" cy="377.78" r="3.5" fill="none" stroke="#111" stroke-width="1.0" />
<circle cx="229.60" cy="385.38" r="3.5" fill="none" stroke="#111" stroke-width="1.0" />
<circle cx="229.60" cy="398.09" r="3.5" fill="none" stroke="#111" stroke-width="1.0" />
<circle cx="229.60" cy="401.51" r="3.5" fill="none" stroke="#111" stroke-width="1.0" />
<circle cx="229.60" cy="404.36" r="3.5" fill="none" stroke="#111" stroke-width="1.0" />
<circle cx="229.60" cy="407.68" r="3.5" fill="none" stroke="#111" stroke-width="1.0" />
<circle cx="254.20" cy="401.79" r="3.5" fill="none" stroke="#22c822" stroke-width="1.0" />
<circle cx="254.20" cy="407.30" r="3.5" fill="none" stroke="#22c822" stroke-width="1.0" />
<circle cx="254.20" cy="381.58" r="3.5" fill="none" stroke="#22c822" stroke-width="1.0" />
<circle cx="254.20" cy="393.73" r="3.5" fill="none" stroke="#22c822" stroke-width="1.0" />
<circle cx="254.20" cy="401.79" r="3.5" fill="none" stroke="#22c822" stroke-width="1.0" />
<circle cx="254.20" cy="434.34" r="3.5" fill="none" stroke="#22c822" stroke-width="1.0" />
<text x="229.00" y="422.60" font-size="6.4" fill="#222" color="#222" text-anchor="middle" >(6)</text>
<text x="254.00" y="419.40" font-size="6.4" fill="#222" color="#222" text-anchor="middle" >(6)</text>
<text x="245.70" y="357.60" font-size="8.0" fill="#222" color="#222" text-anchor="middle" >p = 0.376</text>
<line x1="232.20" y1="360.60" x2="259.20" y2="360.60" stroke="#888" stroke-width="1.0" />
<line x1="307.00" y1="467.40" x2="307.00" y2="470.40" stroke="#333" stroke-width="1" />
<text x="307.00" y="479.00" font-size="8.4" fill="#222" color="#222" text-anchor="middle" >I310C</text>
<line x1="295.50" y1="367.63" x2="320.10" y2="416.88" stroke="#000" stroke-width="0.9" />
<line x1="295.50" y1="380.63" x2="320.10" y2="414.04" stroke="#000" stroke-width="0.9" />
<line x1="295.50" y1="383.48" x2="320.10" y2="416.88" stroke="#000" stroke-width="0.9" />
<line x1="295.50" y1="385.85" x2="320.10" y2="423.62" stroke="#000" stroke-width="0.9" />
<line x1="295.50" y1="393.73" x2="320.10" y2="457.50" stroke="#000" stroke-width="0.9" />
<circle cx="295.50" cy="367.63" r="3.5" fill="none" stroke="#111" stroke-width="1.0" />
<circle cx="295.50" cy="380.63" r="3.5" fill="none" stroke="#111" stroke-width="1.0" />
<circle cx="295.50" cy="383.48" r="3.5" fill="none" stroke="#111" stroke-width="1.0" />
<circle cx="295.50" cy="385.85" r="3.5" fill="none" stroke="#111" stroke-width="1.0" />
<circle cx="295.50" cy="393.73" r="3.5" fill="none" stroke="#111" stroke-width="1.0" />
<circle cx="320.10" cy="416.88" r="3.5" fill="none" stroke="#22c822" stroke-width="1.0" />
<circle cx="320.10" cy="414.04" r="3.5" fill="none" stroke="#22c822" stroke-width="1.0" />
<circle cx="320.10" cy="416.88" r="3.5" fill="none" stroke="#22c822" stroke-width="1.0" />
<circle cx="320.10" cy="423.62" r="3.5" fill="none" stroke="#22c822" stroke-width="1.0" />
<circle cx="320.10" cy="457.50" r="3.5" fill="none" stroke="#22c822" stroke-width="1.0" />
<text x="294.00" y="409.20" font-size="6.4" fill="#222" color="#222" text-anchor="middle" >(5)</text>
<text x="320.00" y="436.80" font-size="6.4" fill="#222" color="#222" text-anchor="middle" >(5)</text>
<text x="310.40" y="357.60" font-size="8.0" fill="#222" color="#222" text-anchor="middle" >p = 0.003</text>
<line x1="296.90" y1="360.60" x2="323.90" y2="360.60" stroke="#888" stroke-width="1.0" />
<text transform="translate(125.30,405.00) rotate(-90)" font-size="8.4" fill="#222" color="#222" text-anchor="middle" >Iinhibition ratio</text>
<circle cx="152.90" cy="444.80" r="4.0" fill="none" stroke="#111" stroke-width="1.2" />
<circle cx="152.90" cy="456.00" r="4.0" fill="none" stroke="#22c822" stroke-width="1.2" />
<text x="163.10" y="447.80" font-size="8.1" fill="#222" color="#222" text-anchor="start" >Before DTNB modification</text>
<text x="163.10" y="459.00" font-size="8.1" fill="#222" color="#222" text-anchor="start" xml:space="preserve">After  DTNB modification</text>
<line x1="510.8" y1="341.5" x2="683.4" y2="341.5" stroke="#111" stroke-width="1.1"/>
<line x1="683.4" y1="341.5" x2="683.4" y2="466.2" stroke="#555" stroke-width="1"/>
<line x1="510.80" y1="341.50" x2="510.80" y2="466.20" stroke="#999" stroke-width="1.1" />
<line x1="510.80" y1="466.20" x2="683.40" y2="466.20" stroke="#555" stroke-width="1.1" />
<line x1="507.30" y1="456.80" x2="510.80" y2="456.80" stroke="#999" stroke-width="1" />
<text x="506.80" y="459.50" font-size="8.0" fill="#222" color="#222" text-anchor="end" >0.0</text>
<line x1="507.30" y1="418.36" x2="510.80" y2="418.36" stroke="#999" stroke-width="1" />
<text x="506.80" y="421.06" font-size="8.0" fill="#222" color="#222" text-anchor="end" >0.4</text>
<line x1="507.30" y1="379.92" x2="510.80" y2="379.92" stroke="#999" stroke-width="1" />
<text x="506.80" y="382.62" font-size="8.0" fill="#222" color="#222" text-anchor="end" >0.8</text>
<line x1="507.30" y1="341.48" x2="510.80" y2="341.48" stroke="#999" stroke-width="1" />
<text x="506.80" y="344.18" font-size="8.0" fill="#222" color="#222" text-anchor="end" >1.2</text>
<line x1="508.80" y1="437.58" x2="510.80" y2="437.58" stroke="#999" stroke-width="0.8" />
<line x1="508.80" y1="399.14" x2="510.80" y2="399.14" stroke="#999" stroke-width="0.8" />
<line x1="508.80" y1="360.70" x2="510.80" y2="360.70" stroke="#999" stroke-width="0.8" />
<line x1="554.30" y1="466.20" x2="554.30" y2="469.20" stroke="#555" stroke-width="1" />
<text x="554.30" y="477.80" font-size="8.4" fill="#222" color="#222" text-anchor="middle" >V84C</text>
<line x1="538.10" y1="403.46" x2="570.30" y2="432.68" stroke="#000" stroke-width="0.9" />
<line x1="538.10" y1="408.46" x2="570.30" y2="421.05" stroke="#000" stroke-width="0.9" />
<line x1="538.10" y1="409.71" x2="570.30" y2="435.37" stroke="#000" stroke-width="0.9" />
<line x1="538.10" y1="411.83" x2="570.30" y2="442.87" stroke="#000" stroke-width="0.9" />
<line x1="538.10" y1="414.04" x2="570.30" y2="432.68" stroke="#000" stroke-width="0.9" />
<line x1="538.10" y1="422.40" x2="570.30" y2="442.87" stroke="#000" stroke-width="0.9" />
<line x1="538.10" y1="423.17" x2="570.30" y2="445.65" stroke="#000" stroke-width="0.9" />
<circle cx="538.10" cy="403.46" r="3.9" fill="none" stroke="#111" stroke-width="1.2" />
<circle cx="538.10" cy="408.46" r="3.9" fill="none" stroke="#111" stroke-width="1.2" />
<circle cx="538.10" cy="409.71" r="3.9" fill="none" stroke="#111" stroke-width="1.2" />
<circle cx="538.10" cy="411.83" r="3.9" fill="none" stroke="#111" stroke-width="1.2" />
<circle cx="538.10" cy="414.04" r="3.9" fill="none" stroke="#111" stroke-width="1.2" />
<circle cx="538.10" cy="422.40" r="3.9" fill="none" stroke="#111" stroke-width="1.2" />
<circle cx="538.10" cy="423.17" r="3.9" fill="none" stroke="#111" stroke-width="1.2" />
<circle cx="570.30" cy="432.68" r="3.9" fill="none" stroke="#f07474" stroke-width="1.2" />
<circle cx="570.30" cy="421.05" r="3.9" fill="none" stroke="#f07474" stroke-width="1.2" />
<circle cx="570.30" cy="435.37" r="3.9" fill="none" stroke="#f07474" stroke-width="1.2" />
<circle cx="570.30" cy="442.87" r="3.9" fill="none" stroke="#f07474" stroke-width="1.2" />
<circle cx="570.30" cy="432.68" r="3.9" fill="none" stroke="#f07474" stroke-width="1.2" />
<circle cx="570.30" cy="442.87" r="3.9" fill="none" stroke="#f07474" stroke-width="1.2" />
<circle cx="570.30" cy="445.65" r="3.9" fill="none" stroke="#f07474" stroke-width="1.2" />
<text x="538.00" y="438.60" font-size="6.4" fill="#222" color="#222" text-anchor="middle" >(7)</text>
<text x="570.70" y="459.40" font-size="6.4" fill="#222" color="#222" text-anchor="middle" >(7)</text>
<text x="556.80" y="380.10" font-size="8.0" fill="#222" color="#222" text-anchor="middle" >p &lt; 0.001</text>
<line x1="543.30" y1="383.10" x2="570.30" y2="383.10" stroke="#444" stroke-width="1.0" />
<line x1="641.20" y1="466.20" x2="641.20" y2="469.20" stroke="#555" stroke-width="1" />
<text x="641.20" y="477.80" font-size="8.4" fill="#222" color="#222" text-anchor="middle" >F88C</text>
<line x1="625.00" y1="390.49" x2="657.70" y2="453.44" stroke="#000" stroke-width="0.9" />
<line x1="625.00" y1="394.72" x2="657.70" y2="437.87" stroke="#000" stroke-width="0.9" />
<line x1="625.00" y1="397.22" x2="657.70" y2="457.47" stroke="#000" stroke-width="0.9" />
<circle cx="625.00" cy="390.49" r="3.9" fill="none" stroke="#111" stroke-width="1.2" />
<circle cx="625.00" cy="394.72" r="3.9" fill="none" stroke="#111" stroke-width="1.2" />
<circle cx="625.00" cy="397.22" r="3.9" fill="none" stroke="#111" stroke-width="1.2" />
<circle cx="657.70" cy="453.44" r="3.9" fill="none" stroke="#f07474" stroke-width="1.2" />
<circle cx="657.70" cy="437.87" r="3.9" fill="none" stroke="#f07474" stroke-width="1.2" />
<circle cx="657.70" cy="457.47" r="3.9" fill="none" stroke="#f07474" stroke-width="1.2" />
<text x="623.50" y="410.80" font-size="6.4" fill="#222" color="#222" text-anchor="middle" >(3)</text>
<text x="646.80" y="459.90" font-size="6.4" fill="#222" color="#222" text-anchor="middle" >(3)</text>
<text x="637.80" y="379.70" font-size="8.0" fill="#222" color="#222" text-anchor="middle" >p = 0.008</text>
<line x1="624.30" y1="382.70" x2="651.30" y2="382.70" stroke="#444" stroke-width="1.0" />
<text transform="translate(491.80,410.00) rotate(-90)" font-size="8.4" fill="#222" color="#222" text-anchor="middle" >Inhibition rate</text>
<circle cx="520.90" cy="352.20" r="4.0" fill="none" stroke="#111" stroke-width="1.2" />
<circle cx="520.90" cy="363.90" r="4.0" fill="none" stroke="#f07474" stroke-width="1.2" />
<text x="531.60" y="355.20" font-size="8.65" fill="#222" color="#222" text-anchor="start" >Before DTNB modification</text>
<text x="531.60" y="366.90" font-size="8.65" fill="#222" color="#222" text-anchor="start" xml:space="preserve">After  DTNB modification</text>
<path d="M73.06,20.53 A9.4,9.4 0 0 1 59.54,20.53" fill="none" stroke="#e04848" stroke-width="1.0"/>
<path d="M73.06,20.53 L74.79,22.20 M71.62,21.75 L72.98,23.72 M69.97,22.65 L70.91,24.86 M68.17,23.21 L68.65,25.56 M66.30,23.40 L66.30,25.80 M64.43,23.21 L63.95,25.56 M62.63,22.65 L61.69,24.86 M60.98,21.75 L59.62,23.72 M59.54,20.53 L57.81,22.20" fill="none" stroke="#e04848" stroke-width="0.7"/>
<path d="M49.98,33.30 A9.4,9.4 0 0 1 39.04,41.25" fill="none" stroke="#e04848" stroke-width="1.0"/>
<path d="M49.98,33.30 L52.36,33.64 M49.54,35.13 L51.80,35.93 M48.73,36.84 L50.79,38.07 M47.61,38.35 L49.37,39.97 M46.20,39.60 L47.61,41.54 M44.57,40.55 L45.57,42.73 M42.79,41.15 L43.33,43.49 M40.92,41.39 L40.98,43.79 M39.04,41.25 L38.63,43.62" fill="none" stroke="#e04848" stroke-width="0.7"/>
<path d="M95.46,48.63 A9.4,9.4 0 0 1 81.94,48.63" fill="none" stroke="#e04848" stroke-width="1.0"/>
<path d="M95.46,48.63 L97.19,50.30 M94.02,49.85 L95.38,51.82 M92.37,50.75 L93.31,52.96 M90.57,51.31 L91.05,53.66 M88.70,51.50 L88.70,53.90 M86.83,51.31 L86.35,53.66 M85.03,50.75 L84.09,52.96 M83.38,49.85 L82.02,51.82 M81.94,48.63 L80.21,50.30" fill="none" stroke="#e04848" stroke-width="0.7"/>
<path d="M35.28,56.90 A9.4,9.4 0 0 1 24.34,64.85" fill="none" stroke="#e04848" stroke-width="1.0"/>
<path d="M35.28,56.90 L37.66,57.24 M34.84,58.73 L37.10,59.53 M34.03,60.44 L36.09,61.67 M32.91,61.95 L34.67,63.57 M31.50,63.20 L32.91,65.14 M29.87,64.15 L30.87,66.33 M28.09,64.75 L28.63,67.09 M26.22,64.99 L26.28,67.39 M24.34,64.85 L23.93,67.22" fill="none" stroke="#e04848" stroke-width="0.7"/>
<path d="M97.81,67.13 A9.4,9.4 0 0 1 85.46,72.63" fill="none" stroke="#e04848" stroke-width="1.0"/>
<path d="M97.81,67.13 L100.07,67.95 M96.99,68.82 L99.04,70.08 M95.85,70.32 L97.61,71.96 M94.44,71.57 L95.83,73.52 M92.80,72.50 L93.78,74.69 M91.01,73.09 L91.53,75.43 M89.14,73.31 L89.18,75.71 M87.26,73.16 L86.83,75.52 M85.46,72.63 L84.56,74.85" fill="none" stroke="#e04848" stroke-width="0.7"/>
<path d="M89.34,88.80 A9.4,9.4 0 0 1 102.66,86.45" fill="none" stroke="#e04848" stroke-width="1.0"/>
<path d="M89.34,88.80 L87.35,87.46 M90.54,87.35 L88.86,85.64 M92.01,86.17 L90.71,84.16 M93.69,85.31 L92.81,83.08 M95.50,84.80 L95.08,82.44 M97.38,84.66 L97.44,82.26 M99.25,84.90 L99.79,82.56 M101.03,85.50 L102.03,83.32 M102.66,86.45 L104.07,84.51" fill="none" stroke="#e04848" stroke-width="0.7"/>
<path d="M84.37,112.49 A9.4,9.4 0 0 1 92.13,101.41" fill="none" stroke="#e04848" stroke-width="1.0"/>
<path d="M84.37,112.49 L82.02,112.94 M84.20,110.61 L81.80,110.59 M84.41,108.74 L82.06,108.24 M84.98,106.94 L82.78,105.99 M85.90,105.30 L83.93,103.92 M87.13,103.87 L85.48,102.13 M88.62,102.72 L87.35,100.68 M90.31,101.89 L89.47,99.64 M92.13,101.41 L91.75,99.04" fill="none" stroke="#e04848" stroke-width="0.7"/>
<path d="M43.55,116.01 A9.4,9.4 0 0 1 44.73,129.49" fill="none" stroke="#e04848" stroke-width="1.0"/>
<path d="M43.55,116.01 L45.06,114.15 M44.89,117.34 L46.74,115.81 M45.94,118.91 L48.05,117.78 M46.65,120.65 L48.95,119.97 M47.00,122.50 L49.39,122.29 M46.98,124.38 L49.36,124.66 M46.58,126.22 L48.86,126.97 M45.82,127.95 L47.91,129.13 M44.73,129.49 L46.54,131.06" fill="none" stroke="#e04848" stroke-width="0.7"/>
<path d="M54.34,130.45 A9.4,9.4 0 0 1 67.66,132.80" fill="none" stroke="#e04848" stroke-width="1.0"/>
<path d="M54.34,130.45 L52.93,128.51 M55.97,129.50 L54.97,127.32 M57.75,128.90 L57.21,126.56 M59.62,128.66 L59.56,126.26 M61.50,128.80 L61.92,126.44 M63.31,129.31 L64.19,127.08 M64.99,130.17 L66.29,128.16 M66.46,131.35 L68.14,129.64 M67.66,132.80 L69.65,131.46" fill="none" stroke="#e04848" stroke-width="0.7"/>
<path d="M78.34,132.80 A9.4,9.4 0 0 1 91.66,130.45" fill="none" stroke="#e04848" stroke-width="1.0"/>
<path d="M78.34,132.80 L76.35,131.46 M79.54,131.35 L77.86,129.64 M81.01,130.17 L79.71,128.16 M82.69,129.31 L81.81,127.08 M84.50,128.80 L84.08,126.44 M86.38,128.66 L86.44,126.26 M88.25,128.90 L88.79,126.56 M90.03,129.50 L91.03,127.32 M91.66,130.45 L93.07,128.51" fill="none" stroke="#e04848" stroke-width="0.7"/>
<path d="M45.1,80.3 L42.8,88.4 M42.8,88.4 L32.3,90.3 M32.3,90.3 L25.0,83.2 M32.3,90.3 L27.8,99.7 M27.8,99.7 L33.8,108.1 M33.8,108.1 L42.3,106.6 M33.8,108.1 L30.1,115.7" fill="none" stroke="#c88a3a" stroke-width="1.2"/>
<circle cx="45.10" cy="80.30" r="1.4" fill="#ff0000" stroke="none" stroke-width="0" />
<circle cx="42.80" cy="88.40" r="1.4" fill="#000" stroke="none" stroke-width="0" />
<circle cx="32.30" cy="90.30" r="1.4" fill="#000" stroke="none" stroke-width="0" />
<circle cx="25.00" cy="83.20" r="1.4" fill="#0000ff" stroke="none" stroke-width="0" />
<circle cx="27.80" cy="99.70" r="1.4" fill="#000" stroke="none" stroke-width="0" />
<circle cx="33.80" cy="108.10" r="1.4" fill="#000" stroke="none" stroke-width="0" />
<circle cx="42.30" cy="106.60" r="1.4" fill="#ff0000" stroke="none" stroke-width="0" />
<circle cx="30.10" cy="115.70" r="1.4" fill="#ff0000" stroke="none" stroke-width="0" />
<line x1="46.50" y1="79.80" x2="51.50" y2="78.30" stroke="#58a858" stroke-width="0.8" stroke-dasharray="1.2,0.8"/>
<path d="M65.80,35.30 L75.00,34.40 M75.00,34.40 L78.40,43.30 M78.40,43.30 L71.30,49.20 M71.30,49.20 L63.80,44.50 M63.80,44.50 L65.80,35.30 M63.80,44.50 L55.70,48.70 M55.70,48.70 L55.40,58.30 M55.40,58.30 L63.00,63.30 M63.00,63.30 L71.30,58.80 M71.30,58.80 L71.30,49.20 M55.40,58.30 L46.70,63.30 M46.70,63.30 L45.00,71.70 M45.00,71.70 L53.20,77.90 M53.20,77.90 L62.80,73.40 M62.80,73.40 L63.00,63.30 M62.80,73.40 L69.50,78.80 M69.50,78.80 L79.50,74.70 M79.50,74.70 L87.40,80.90 M87.40,80.90 L96.40,78.50 M53.20,77.90 L53.20,87.50 M53.20,87.50 L61.10,92.90 M61.10,92.90 L69.00,88.80 M69.00,88.80 L69.50,78.80 M69.00,88.80 L76.10,94.40 M76.10,94.40 L76.10,103.80 M76.10,103.80 L68.60,108.10 M68.60,108.10 L60.70,102.50 M60.70,102.50 L61.10,92.90 M60.70,102.50 L52.60,106.60 M52.60,106.60 L54.50,116.00 M68.60,108.10 L68.00,117.50 M68.00,117.50 L76.10,122.60" fill="none" stroke="#7ee03c" stroke-width="1.6" stroke-linecap="round"/>
<circle cx="65.80" cy="35.30" r="3.2" fill="#f4b0b0" stroke="none" stroke-width="0" opacity="0.35"/>
<circle cx="75.00" cy="34.40" r="3.2" fill="#f4b0b0" stroke="none" stroke-width="0" opacity="0.35"/>
<circle cx="78.40" cy="43.30" r="3.2" fill="#f4b0b0" stroke="none" stroke-width="0" opacity="0.35"/>
<circle cx="63.80" cy="44.50" r="3.2" fill="#f4b0b0" stroke="none" stroke-width="0" opacity="0.35"/>
<circle cx="71.30" cy="49.20" r="3.2" fill="#f4b0b0" stroke="none" stroke-width="0" opacity="0.35"/>
<circle cx="55.70" cy="48.70" r="3.2" fill="#f4b0b0" stroke="none" stroke-width="0" opacity="0.35"/>
<circle cx="55.40" cy="58.30" r="3.2" fill="#f4b0b0" stroke="none" stroke-width="0" opacity="0.35"/>
<circle cx="71.30" cy="58.80" r="3.2" fill="#f4b0b0" stroke="none" stroke-width="0" opacity="0.35"/>
<circle cx="63.00" cy="63.30" r="3.2" fill="#f4b0b0" stroke="none" stroke-width="0" opacity="0.35"/>
<circle cx="46.70" cy="63.30" r="3.2" fill="#f4b0b0" stroke="none" stroke-width="0" opacity="0.35"/>
<circle cx="45.00" cy="71.70" r="3.2" fill="#f4b0b0" stroke="none" stroke-width="0" opacity="0.35"/>
<circle cx="53.20" cy="77.90" r="3.2" fill="#f4b0b0" stroke="none" stroke-width="0" opacity="0.35"/>
<circle cx="62.80" cy="73.40" r="3.2" fill="#f4b0b0" stroke="none" stroke-width="0" opacity="0.35"/>
<circle cx="69.50" cy="78.80" r="3.2" fill="#f4b0b0" stroke="none" stroke-width="0" opacity="0.35"/>
<circle cx="79.50" cy="74.70" r="3.2" fill="#f4b0b0" stroke="none" stroke-width="0" opacity="0.35"/>
<circle cx="87.40" cy="80.90" r="3.2" fill="#f4b0b0" stroke="none" stroke-width="0" opacity="0.35"/>
<circle cx="96.40" cy="78.50" r="3.2" fill="#f4b0b0" stroke="none" stroke-width="0" opacity="0.35"/>
<circle cx="53.20" cy="87.50" r="3.2" fill="#f4b0b0" stroke="none" stroke-width="0" opacity="0.35"/>
<circle cx="61.10" cy="92.90" r="3.2" fill="#f4b0b0" stroke="none" stroke-width="0" opacity="0.35"/>
<circle cx="69.00" cy="88.80" r="3.2" fill="#f4b0b0" stroke="none" stroke-width="0" opacity="0.35"/>
<circle cx="76.10" cy="94.40" r="3.2" fill="#f4b0b0" stroke="none" stroke-width="0" opacity="0.35"/>
<circle cx="76.10" cy="103.80" r="3.2" fill="#f4b0b0" stroke="none" stroke-width="0" opacity="0.35"/>
<circle cx="68.60" cy="108.10" r="3.2" fill="#f4b0b0" stroke="none" stroke-width="0" opacity="0.35"/>
<circle cx="60.70" cy="102.50" r="3.2" fill="#f4b0b0" stroke="none" stroke-width="0" opacity="0.35"/>
<circle cx="52.60" cy="106.60" r="3.2" fill="#f4b0b0" stroke="none" stroke-width="0" opacity="0.35"/>
<circle cx="54.50" cy="116.00" r="3.2" fill="#f4b0b0" stroke="none" stroke-width="0" opacity="0.35"/>
<circle cx="68.00" cy="117.50" r="3.2" fill="#f4b0b0" stroke="none" stroke-width="0" opacity="0.35"/>
<circle cx="76.10" cy="122.60" r="3.2" fill="#f4b0b0" stroke="none" stroke-width="0" opacity="0.35"/>
<circle cx="65.80" cy="35.30" r="2.2" fill="#ff0000" stroke="none" stroke-width="0" />
<circle cx="75.00" cy="34.40" r="2.2" fill="#000" stroke="none" stroke-width="0" />
<circle cx="78.40" cy="43.30" r="2.2" fill="#ff0000" stroke="none" stroke-width="0" />
<circle cx="63.80" cy="44.50" r="2.2" fill="#000" stroke="none" stroke-width="0" />
<circle cx="71.30" cy="49.20" r="2.2" fill="#000" stroke="none" stroke-width="0" />
<circle cx="55.70" cy="48.70" r="2.2" fill="#000" stroke="none" stroke-width="0" />
<circle cx="55.40" cy="58.30" r="2.2" fill="#000" stroke="none" stroke-width="0" />
<circle cx="71.30" cy="58.80" r="2.2" fill="#000" stroke="none" stroke-width="0" />
<circle cx="63.00" cy="63.30" r="2.2" fill="#000" stroke="none" stroke-width="0" />
<circle cx="46.70" cy="63.30" r="2.2" fill="#000" stroke="none" stroke-width="0" />
<circle cx="45.00" cy="71.70" r="2.2" fill="#000" stroke="none" stroke-width="0" />
<circle cx="53.20" cy="77.90" r="2.2" fill="#0000ff" stroke="none" stroke-width="0" />
<circle cx="62.80" cy="73.40" r="2.2" fill="#000" stroke="none" stroke-width="0" />
<circle cx="69.50" cy="78.80" r="2.2" fill="#000" stroke="none" stroke-width="0" />
<circle cx="79.50" cy="74.70" r="2.2" fill="#000" stroke="none" stroke-width="0" />
<circle cx="87.40" cy="80.90" r="2.2" fill="#000" stroke="none" stroke-width="0" />
<circle cx="96.40" cy="78.50" r="2.2" fill="#000" stroke="none" stroke-width="0" />
<circle cx="53.20" cy="87.50" r="2.2" fill="#000" stroke="none" stroke-width="0" />
<circle cx="61.10" cy="92.90" r="2.2" fill="#000" stroke="none" stroke-width="0" />
<circle cx="69.00" cy="88.80" r="2.2" fill="#000" stroke="none" stroke-width="0" />
<circle cx="76.10" cy="94.40" r="2.2" fill="#000" stroke="none" stroke-width="0" />
<circle cx="76.10" cy="103.80" r="2.2" fill="#000" stroke="none" stroke-width="0" />
<circle cx="68.60" cy="108.10" r="2.2" fill="#000" stroke="none" stroke-width="0" />
<circle cx="60.70" cy="102.50" r="2.2" fill="#000" stroke="none" stroke-width="0" />
<circle cx="52.60" cy="106.60" r="2.2" fill="#ff0000" stroke="none" stroke-width="0" />
<circle cx="54.50" cy="116.00" r="2.2" fill="#000" stroke="none" stroke-width="0" />
<circle cx="68.00" cy="117.50" r="2.2" fill="#ff0000" stroke="none" stroke-width="0" />
<circle cx="76.10" cy="122.60" r="2.2" fill="#000" stroke="none" stroke-width="0" />
<text x="53.80" y="18.50" font-size="8" fill="#222" color="#222" text-anchor="start" >F95(A)</text>
<text x="18.00" y="33.90" font-size="8" fill="#222" color="#222" text-anchor="start" >Y295(A)</text>
<text x="82.30" y="44.00" font-size="8" fill="#222" color="#222" text-anchor="start" >F103(A)</text>
<text x="18.00" y="55.80" font-size="8" fill="#222" color="#222" text-anchor="start" >Y298(C)</text>
<text x="81.80" y="65.90" font-size="8" fill="#222" color="#222" text-anchor="start" >V312(A)</text>
<text x="16.80" y="79.30" font-size="8" fill="#222" color="#222" text-anchor="start" >D92(A)</text>
<text x="82.10" y="97.30" font-size="8" fill="#222" color="#222" text-anchor="start" >F293(A)</text>
<text x="82.70" y="122.70" font-size="8" fill="#222" color="#222" text-anchor="start" >M105(A)</text>
<text x="14.10" y="124.00" font-size="8" fill="#222" color="#222" text-anchor="start" >F108(A)</text>
<text x="40.40" y="138.70" font-size="8" fill="#222" color="#222" text-anchor="start" >Y93(A)</text>
<text x="78.90" y="138.70" font-size="8" fill="#222" color="#222" text-anchor="start" >I310(A)</text>
<text x="69.50" y="157.00" font-size="8" fill="#40bc64" color="#40bc64" text-anchor="middle" >PSFL1191</text>
<path d="M77.51,190.04 A11.0,11.0 0 0 1 61.69,190.04" fill="none" stroke="#e04848" stroke-width="1.0"/>
<path d="M77.51,190.04 L79.24,191.71 M76.19,191.21 L77.63,193.13 M74.70,192.15 L75.81,194.28 M73.07,192.84 L73.83,195.11 M71.36,193.26 L71.74,195.63 M69.60,193.40 L69.60,195.80 M67.84,193.26 L67.46,195.63 M66.13,192.84 L65.37,195.11 M64.50,192.15 L63.39,194.28 M63.01,191.21 L61.57,193.13 M61.69,190.04 L59.96,191.71" fill="none" stroke="#e04848" stroke-width="0.7"/>
<path d="M53.02,192.13 A11.0,11.0 0 0 1 41.83,203.32" fill="none" stroke="#e04848" stroke-width="1.0"/>
<path d="M53.02,192.13 L55.42,192.09 M52.91,193.89 L55.28,194.23 M52.52,195.61 L54.81,196.33 M51.86,197.25 L54.00,198.32 M50.94,198.76 L52.89,200.16 M49.80,200.10 L51.50,201.80 M48.46,201.24 L49.86,203.19 M46.95,202.16 L48.02,204.30 M45.31,202.82 L46.03,205.11 M43.59,203.21 L43.93,205.58 M41.83,203.32 L41.79,205.72" fill="none" stroke="#e04848" stroke-width="0.7"/>
<path d="M91.50,212.82 A11.0,11.0 0 0 1 79.03,203.08" fill="none" stroke="#e04848" stroke-width="1.0"/>
<path d="M91.50,212.82 L91.84,215.20 M89.74,212.93 L89.69,215.33 M87.99,212.75 L87.55,215.11 M86.28,212.29 L85.48,214.56 M84.67,211.57 L83.52,213.67 M83.20,210.60 L81.72,212.49 M81.90,209.41 L80.14,211.04 M80.81,208.02 L78.81,209.35 M79.95,206.48 L77.77,207.47 M79.36,204.82 L77.04,205.45 M79.03,203.08 L76.65,203.33" fill="none" stroke="#e04848" stroke-width="0.7"/>
<path d="M45.22,225.33 A11.0,11.0 0 0 1 34.03,236.52" fill="none" stroke="#e04848" stroke-width="1.0"/>
<path d="M45.22,225.33 L47.62,225.29 M45.11,227.09 L47.48,227.43 M44.72,228.81 L47.01,229.53 M44.06,230.45 L46.20,231.52 M43.14,231.96 L45.09,233.36 M42.00,233.30 L43.70,235.00 M40.66,234.44 L42.06,236.39 M39.15,235.36 L40.22,237.50 M37.51,236.02 L38.23,238.31 M35.79,236.41 L36.13,238.78 M34.03,236.52 L33.99,238.92" fill="none" stroke="#e04848" stroke-width="0.7"/>
<path d="M89.93,240.87 A11.0,11.0 0 0 1 87.72,225.20" fill="none" stroke="#e04848" stroke-width="1.0"/>
<path d="M89.93,240.87 L88.52,242.81 M88.59,239.72 L86.88,241.41 M87.45,238.37 L85.50,239.77 M86.54,236.86 L84.39,237.93 M85.88,235.22 L83.59,235.93 M85.50,233.50 L83.12,233.83 M85.40,231.74 L83.00,231.69 M85.57,229.98 L83.21,229.55 M86.03,228.28 L83.77,227.47 M86.75,226.67 L84.65,225.51 M87.72,225.20 L85.83,223.72" fill="none" stroke="#e04848" stroke-width="0.7"/>
<path d="M28.82,249.45 A11.0,11.0 0 0 1 43.69,254.86" fill="none" stroke="#e04848" stroke-width="1.0"/>
<path d="M28.82,249.45 L27.76,247.29 M30.46,248.81 L29.76,246.51 M32.18,248.43 L31.87,246.05 M33.94,248.34 L34.01,245.94 M35.70,248.53 L36.15,246.17 M37.40,249.00 L38.22,246.74 M39.00,249.73 L40.18,247.64 M40.47,250.72 L41.96,248.84 M41.76,251.92 L43.53,250.30 M42.84,253.31 L44.85,252.00 M43.69,254.86 L45.88,253.89" fill="none" stroke="#e04848" stroke-width="0.7"/>
<path d="M88.86,271.41 A11.0,11.0 0 0 1 88.86,255.59" fill="none" stroke="#e04848" stroke-width="1.0"/>
<path d="M88.86,271.41 L87.19,273.14 M87.69,270.09 L85.77,271.53 M86.75,268.60 L84.62,269.71 M86.06,266.97 L83.79,267.73 M85.64,265.26 L83.27,265.64 M85.50,263.50 L83.10,263.50 M85.64,261.74 L83.27,261.36 M86.06,260.03 L83.79,259.27 M86.75,258.40 L84.62,257.29 M87.69,256.91 L85.77,255.47 M88.86,255.59 L87.19,253.86" fill="none" stroke="#e04848" stroke-width="0.7"/>
<path d="M41.64,274.09 A11.0,11.0 0 0 1 41.64,289.91" fill="none" stroke="#e04848" stroke-width="1.0"/>
<path d="M41.64,274.09 L43.31,272.36 M42.81,275.41 L44.73,273.97 M43.75,276.90 L45.88,275.79 M44.44,278.53 L46.71,277.77 M44.86,280.24 L47.23,279.86 M45.00,282.00 L47.40,282.00 M44.86,283.76 L47.23,284.14 M44.44,285.47 L46.71,286.23 M43.75,287.10 L45.88,288.21 M42.81,288.59 L44.73,290.03 M41.64,289.91 L43.31,291.64" fill="none" stroke="#e04848" stroke-width="0.7"/>
<path d="M82.45,299.08 A11.0,11.0 0 0 1 87.86,284.21" fill="none" stroke="#e04848" stroke-width="1.0"/>
<path d="M82.45,299.08 L80.29,300.14 M81.81,297.44 L79.51,298.14 M81.43,295.72 L79.05,296.03 M81.34,293.96 L78.94,293.89 M81.53,292.20 L79.17,291.75 M82.00,290.50 L79.74,289.68 M82.73,288.90 L80.64,287.72 M83.72,287.43 L81.84,285.94 M84.92,286.14 L83.30,284.37 M86.31,285.06 L85.00,283.05 M87.86,284.21 L86.89,282.02" fill="none" stroke="#e04848" stroke-width="0.7"/>
<path d="M39.81,298.66 A11.0,11.0 0 0 1 53.23,307.04" fill="none" stroke="#e04848" stroke-width="1.0"/>
<path d="M39.81,298.66 L39.23,296.33 M41.55,298.37 L41.35,295.98 M43.31,298.36 L43.50,295.97 M45.06,298.64 L45.62,296.30 M46.73,299.19 L47.66,296.98 M48.30,300.00 L49.57,297.96 M49.72,301.05 L51.30,299.25 M50.95,302.32 L52.80,300.79 M51.96,303.76 L54.03,302.55 M52.73,305.35 L54.96,304.48 M53.23,307.04 L55.58,306.54" fill="none" stroke="#e04848" stroke-width="0.7"/>
<path d="M62.00,206.60 L59.80,199.10 M62.00,206.60 L54.10,209.20 M62.00,206.60 L69.50,204.30 M62.00,206.60 L64.80,215.40 M64.80,215.40 L72.70,216.90 M72.70,216.90 L75.70,224.80 M75.70,224.80 L69.90,231.00 M69.90,231.00 L61.60,229.50 M61.60,229.50 L58.80,221.60 M58.80,221.60 L64.80,215.40 M58.80,221.60 L48.90,219.80 M61.60,229.50 L55.40,236.70 M55.40,236.70 L48.50,235.20 M55.40,236.70 L58.20,244.20 M58.20,244.20 L67.10,245.90 M67.10,245.90 L73.80,239.10 M58.20,244.20 L53.00,251.00 M53.00,251.00 L54.90,259.00 M54.90,259.00 L63.90,260.40 M63.90,260.40 L69.10,254.40 M69.10,254.40 L67.10,245.90 M69.10,254.40 L76.50,257.90 M76.50,257.90 L76.10,265.10 M76.10,265.10 L68.20,267.30 M68.20,267.30 L63.90,260.40 M68.20,267.30 L64.80,274.80 M64.80,274.80 L56.70,275.00 M56.70,275.00 L53.60,282.90 M53.60,282.90 L58.80,289.90 M58.80,289.90 L67.10,288.20 M67.10,288.20 L70.50,280.70 M70.50,280.70 L64.80,274.80 M58.80,289.90 L55.40,296.60" fill="none" stroke="#f08878" stroke-width="1.5" stroke-linecap="round"/>
<circle cx="59.80" cy="199.10" r="2.2" fill="#e87ee8" stroke="none" stroke-width="0" />
<circle cx="54.10" cy="209.20" r="2.2" fill="#e87ee8" stroke="none" stroke-width="0" />
<circle cx="69.50" cy="204.30" r="2.2" fill="#e87ee8" stroke="none" stroke-width="0" />
<circle cx="62.00" cy="206.60" r="2.2" fill="#000" stroke="none" stroke-width="0" />
<circle cx="64.80" cy="215.40" r="2.2" fill="#000" stroke="none" stroke-width="0" />
<circle cx="72.70" cy="216.90" r="2.2" fill="#000" stroke="none" stroke-width="0" />
<circle cx="75.70" cy="224.80" r="2.2" fill="#000" stroke="none" stroke-width="0" />
<circle cx="69.90" cy="231.00" r="2.2" fill="#000" stroke="none" stroke-width="0" />
<circle cx="61.60" cy="229.50" r="2.2" fill="#000" stroke="none" stroke-width="0" />
<circle cx="58.80" cy="221.60" r="2.2" fill="#000" stroke="none" stroke-width="0" />
<circle cx="48.90" cy="219.80" r="2.2" fill="#e87ee8" stroke="none" stroke-width="0" />
<circle cx="55.40" cy="236.70" r="2.2" fill="#000" stroke="none" stroke-width="0" />
<circle cx="48.50" cy="235.20" r="2.2" fill="#ff0000" stroke="none" stroke-width="0" />
<circle cx="58.20" cy="244.20" r="2.2" fill="#0000ff" stroke="none" stroke-width="0" />
<circle cx="67.10" cy="245.90" r="2.2" fill="#000" stroke="none" stroke-width="0" />
<circle cx="73.80" cy="239.10" r="2.2" fill="#000" stroke="none" stroke-width="0" />
<circle cx="53.00" cy="251.00" r="2.2" fill="#000" stroke="none" stroke-width="0" />
<circle cx="54.90" cy="259.00" r="2.2" fill="#000" stroke="none" stroke-width="0" />
<circle cx="63.90" cy="260.40" r="2.2" fill="#000" stroke="none" stroke-width="0" />
<circle cx="69.10" cy="254.40" r="2.2" fill="#000" stroke="none" stroke-width="0" />
<circle cx="76.50" cy="257.90" r="2.2" fill="#0000ff" stroke="none" stroke-width="0" />
<circle cx="76.10" cy="265.10" r="2.2" fill="#0000ff" stroke="none" stroke-width="0" />
<circle cx="68.20" cy="267.30" r="2.2" fill="#0000ff" stroke="none" stroke-width="0" />
<circle cx="64.80" cy="274.80" r="2.2" fill="#000" stroke="none" stroke-width="0" />
<circle cx="56.70" cy="275.00" r="2.2" fill="#0000ff" stroke="none" stroke-width="0" />
<circle cx="53.60" cy="282.90" r="2.2" fill="#000" stroke="none" stroke-width="0" />
<circle cx="58.80" cy="289.90" r="2.2" fill="#000" stroke="none" stroke-width="0" />
<circle cx="67.10" cy="288.20" r="2.2" fill="#000" stroke="none" stroke-width="0" />
<circle cx="70.50" cy="280.70" r="2.2" fill="#0000ff" stroke="none" stroke-width="0" />
<circle cx="55.40" cy="296.60" r="2.2" fill="#e87ee8" stroke="none" stroke-width="0" />
<text x="53.90" y="185.80" font-size="8" fill="#222" color="#222" text-anchor="start" >F88(A)</text>
<text x="16.00" y="198.60" font-size="8" fill="#222" color="#222" text-anchor="start" >Q116(C)</text>
<text x="82.70" y="202.90" font-size="8" fill="#222" color="#222" text-anchor="start" >W167(A)</text>
<text x="16.50" y="222.70" font-size="8" fill="#222" color="#222" text-anchor="start" >Y295(A)</text>
<text x="83.20" y="224.90" font-size="8" fill="#222" color="#222" text-anchor="start" >T298(C)</text>
<text x="16.00" y="260.10" font-size="8" fill="#222" color="#222" text-anchor="start" >S85(A)</text>
<text x="90.20" y="269.90" font-size="8" fill="#222" color="#222" text-anchor="start" >D92(A)</text>
<text x="13.50" y="285.80" font-size="8" fill="#222" color="#222" text-anchor="start" >K297(A)</text>
<text x="83.20" y="297.10" font-size="8" fill="#222" color="#222" text-anchor="start" >M105(A)</text>
<text x="21.60" y="308.90" font-size="8" fill="#222" color="#222" text-anchor="start" >F95(A)</text>
<text x="64.80" y="321.90" font-size="8" fill="#f07c70" color="#f07c70" text-anchor="middle" >JNJ-54175446</text>
<defs>
<linearGradient id="gy" x1="0" y1="0" x2="1" y2="0"><stop offset="0" stop-color="#fcf5de"/><stop offset="0.55" stop-color="#f6e6b8"/><stop offset="1" stop-color="#f9eecb"/></linearGradient>
<linearGradient id="gyo" x1="0" y1="0" x2="0" y2="1"><stop offset="0" stop-color="#f6e6c6" stop-opacity="0"/><stop offset="0.4" stop-color="#eeb48c"/><stop offset="0.7" stop-color="#f0cfa6" stop-opacity="0.4"/><stop offset="1" stop-color="#f6e6c6" stop-opacity="0"/></linearGradient>
<linearGradient id="gb" x1="0" y1="0" x2="1" y2="0"><stop offset="0" stop-color="#9fb7bd"/><stop offset="0.5" stop-color="#d2e2e6"/><stop offset="1" stop-color="#eef4f5"/></linearGradient>
<linearGradient id="gb2" x1="0" y1="0" x2="1" y2="0"><stop offset="0" stop-color="#8ea8b0"/><stop offset="0.6" stop-color="#c9dbe0"/><stop offset="1" stop-color="#e8f0f2"/></linearGradient>
<linearGradient id="gbp" x1="0" y1="0" x2="1" y2="1"><stop offset="0" stop-color="#f2f6f7"/><stop offset="1" stop-color="#dde8eb"/></linearGradient>
<linearGradient id="gk" x1="0" y1="0" x2="1" y2="0"><stop offset="0" stop-color="#b4a466"/><stop offset="0.5" stop-color="#ddd098"/><stop offset="1" stop-color="#c4b478"/></linearGradient>
</defs>
<path d="M0,362 C8,380 14,410 14,466 L29,466 C28,430 24,400 12,370 C8,364 4,360 0,358 Z" fill="url(#gy)" opacity="0.9"/>
<path d="M0,376 C4,395 8,420 9,466 L3,466 C3,430 1,400 0,392 Z" fill="#f7ecd4" opacity="0.9"/>
<path d="M2,380 C8,400 12,430 14,466 L18,466 C16,430 12,400 6,378 Z" fill="#faf3e2"/>
<path d="M3,378 C7,386 10,394 12,402 L21,400 C19,392 15,384 11,376 Z" fill="#eeb090" opacity="0.55"/>
<path d="M22,350 C40,352 60,362 84,380 L90,374 C70,356 50,348 30,346 Z" fill="url(#gbp)"/>
<path d="M60,349 C68,354 76,362 86,372 L89,368 C82,358 74,351 66,347 Z" fill="#d2dfe3"/>
<path d="M79,350 L84,350 C90,362 94,372 96,384 C100,396 106,406 111,414 C108,426 104,440 100,460 L91,460 C94,444 96,430 96,420 C96,400 88,372 79,350 Z" fill="#c9dce1"/>
<path d="M83,350 L86,350 C92,364 94,374 95,386 L92,386 C90,372 88,362 83,350 Z" fill="#7f969c"/>
<path d="M96,392 C102,398 108,408 112,418 L111,424 C106,414 100,404 96,398 Z" fill="#e6eef0"/>
<path d="M92,432 C92,442 91,452 91,460 L95,460 C95,450 96,440 97,432 Z" fill="#b4c8cd"/>
<path d="M32,464 C28,452 32,444 40,440 C46,436 54,435 60,437 C66,440 69,444 68,448" fill="none" stroke="#c9dde2" stroke-width="2.6"/>
<path d="M40,466 C38,458 40,452 46,449" fill="none" stroke="#d6e6ea" stroke-width="2.2"/>
<path d="M37,418 L41,414 L47,434 L43,438 Z" fill="#8c8c8c"/>
<path d="M54,457 L59,453 L61,464 L56,465 Z" fill="#707070"/>
<path d="M59,399 L64,398 L68,401 L68,407 L64,410 L59,407 Z M59,399 L60,396 M60,396 L65,393 M59,407 L52,402 M52,402 L45,403 M68,407 L72,412" fill="none" stroke="#4f8f3e" stroke-width="2.2" stroke-linejoin="round" stroke-linecap="round"/>
<path d="M54,415 L60,412 L66,414 L72,412 L74,418 L68,422 L60,422 L52,420 Z M74,418 L80,420 M52,420 L49,424 M60,412 L64,410" fill="none" stroke="#8cc47c" stroke-width="2.2" stroke-linejoin="round" stroke-linecap="round"/>
<path d="M60,396 L62,395" stroke="#c83030" stroke-width="2.2" stroke-linecap="round"/>
<path d="M52,402 L54,402" stroke="#c83030" stroke-width="2.2" stroke-linecap="round"/>
<path d="M53,415 L55,416" stroke="#4050a0" stroke-width="2.2" stroke-linecap="round"/>
<path d="M76,379 L80,379 L83,375 L81,370 M83,375 L87,377" fill="none" stroke="#eea8a8" stroke-width="2.2" stroke-linecap="round"/>
<path d="M70,379 L76,379" stroke="#d8b030" stroke-width="1.8" stroke-linecap="round"/>
<path d="M90,396.7 L96.6,396.7 L99.2,388 M96.6,396.7 L100.5,401" fill="none" stroke="#eea8a8" stroke-width="2.2" stroke-linecap="round"/>
<path d="M84,396.7 L90,396.7" stroke="#d8b030" stroke-width="1.8" stroke-linecap="round"/>
<circle cx="81.00" cy="370.00" r="1.1" fill="#3040a0" stroke="none" stroke-width="0" />
<circle cx="100.50" cy="401.00" r="1.1" fill="#3040a0" stroke="none" stroke-width="0" />
<path d="M51.6,434 L47,438 L41.3,442 L43,450 L44,457" fill="none" stroke="#e89a9a" stroke-width="2.2" stroke-linecap="round"/>
<path d="M51.6,434 L51.6,428" stroke="#d8b030" stroke-width="1.8" stroke-linecap="round"/>
<circle cx="41.30" cy="442.00" r="1.3" fill="#203070" stroke="none" stroke-width="0" />
<rect x="24.4" y="370.3" width="41.5" height="9.4" fill="#16d416"/>
<text x="45.20" y="378.20" font-size="8.2" fill="#ffffff" color="#ffffff" text-anchor="middle" >PSFL1191</text>
<text x="44.00" y="365.20" font-size="6.8" fill="#333" color="#333" text-anchor="start" font-style="italic">β7</text>
<text x="65.50" y="360.00" font-size="6.8" fill="#333" color="#333" text-anchor="start" font-style="italic">β8</text>
<text x="4.40" y="425.50" font-size="6.8" fill="#333" color="#333" text-anchor="start" font-style="italic">β7,8</text>
<text x="28.00" y="425.50" font-size="6.8" fill="#333" color="#333" text-anchor="start" font-style="italic">β3</text>
<text x="85.30" y="432.50" font-size="6.8" fill="#333" color="#333" text-anchor="start" font-style="italic">β4</text>
<text x="70.00" y="391.60" font-size="7.9" fill="#222" color="#222" text-anchor="start" >I310C</text>
<text x="78.70" y="410.60" font-size="7.9" fill="#222" color="#222" text-anchor="start" >F108C</text>
<text x="58.30" y="457.00" font-size="7.9" fill="#222" color="#222" text-anchor="start" >F88C</text>
<text x="1.60" y="476.10" font-size="7.9" fill="#f6b020" color="#f6b020" text-anchor="start" >Chain A</text>
<text x="87.40" y="476.10" font-size="7.9" fill="#c4dcf0" color="#c4dcf0" text-anchor="start" >Chain B</text>
<path d="M400,362 C412,366 422,376 428,390 L436,398 L422,400 C418,388 410,378 398,372 Z" fill="#dfe9eb"/>
<path d="M396,363 L398,353 L416,361 L406,372 Z" fill="#d2dfe2"/>
<path d="M380.4,352.9 C386,354 389,357.5 391.8,357.3 C394,357 395,354 397.1,353.8" fill="none" stroke="#b9cdd1" stroke-width="1.6"/>
<linearGradient id="gb8" x1="0" y1="0" x2="1" y2="0"><stop offset="0" stop-color="#a4b9bf"/><stop offset="0.35" stop-color="#cddbdf"/><stop offset="1" stop-color="#e9f0f1"/></linearGradient>
<path d="M358,359 C374,360 390,364 402,370 C412,376 418,384 422,394 L412,394 C408,386 402,380 394,377 C382,372 370,370 358,368 Z" fill="url(#gb8)"/>
<path d="M358,379 C368,378.5 376,378 386,378 L386,387 C376,387 368,387 358,387 Z" fill="url(#gb8)"/>
<path d="M452.4,352 L460.3,352 C460,366 459.4,380 458,392 C456.8,400 456,406 454,412 L458,414 L440,425 L444,408 L447,409 C449,398 450.5,386 450.6,376 C451,366 452,358 452.4,352 Z" fill="#b2cad2"/>
<path d="M454,352 L457,352 C457,366 456,380 454,396 L451.5,396 C453,380 454,366 454,352 Z" fill="#e2ecef"/>
<path d="M460.3,352 L465,352 C468,366 471,380 471,396 C471,408 468,420 463,430 L459,428 C463,418 466,406 466,394 C466,380 463,366 460.3,352 Z" fill="#d3e2e6"/>
<path d="M470,380 C474,392 475,404 474,416 L472,416 C472,404 471,392 468,382 Z" fill="#e4edf0"/>
<path d="M417.3,422.8 C410,426 406,431 407.6,435 C409,440 412,445 414.6,445.6 C420,446 426,446 428.7,444.7 C431,442 432,440 432.2,437.7" fill="none" stroke="#c8dadf" stroke-width="2.2"/>
<path d="M432,446 C440,444 450,440 458,436" fill="none" stroke="#e8f0f2" stroke-width="2.4"/>
<path d="M420,458 C432,456 444,458 454,460" fill="none" stroke="#eef3f4" stroke-width="2.4"/>
<path d="M373.4,407 L383,408.8 C385,428 387,448 389.2,468.4 L383.6,468.4 C381,448 377,428 373.4,407 Z" fill="url(#gk)"/>
<path d="M392.7,414 L400.6,421 C394,436 388,452 383,468.4 L377.8,468.4 C382,452 387,432 392.7,414 Z" fill="url(#gk)"/>
<path d="M373.4,406 L383,408.8 L383.5,413 L374,411 Z" fill="#636363"/>
<path d="M392.7,412.5 L400.6,420 L399.5,424 L392,417 Z" fill="#636363"/>
<path d="M383,460 L386,466 L382,468 Z" fill="#777"/>
<path d="M439.2,452.6 C441,449 444,446.5 448,446 C456,446 464,449 471.7,452 L471.7,456.5 C464,453 456,451 449,451 C445,451 442,452.5 440.5,455 Z" fill="#555"/>
<path d="M441,455.5 C446,452.5 454,452.5 471.7,457.5" fill="none" stroke="#d6c48a" stroke-width="1.2"/>
<path d="M446.2,465.8 C446,461 448,459 451,457.9 C458,455 464,451 470.8,447" fill="none" stroke="#d8c078" stroke-width="1.5"/>
<path d="M416.1,402.4 L421.5,399.3 L426.9,402.4 L426.9,408.6 L421.5,411.7 L416.1,408.6 Z M416.1,402.4 L412,400 L406,403 M412,400 L410,397 M421.5,399.3 L421.6,396 M426.9,402.4 L432,400 M406,403 L400,400 L394,402 L394,408 L400,410 L406,407 Z" fill="none" stroke="#d98686" stroke-width="2" stroke-linejoin="round" stroke-linecap="round"/>
<path d="M421.6,396 L421.7,391.5" stroke="#5cc05c" stroke-width="2" stroke-linecap="round"/>
<path d="M432,400 L435,395.5 M432,400 L438,402" stroke="#bfe6e6" stroke-width="1.8" stroke-linecap="round"/>
<path d="M410,397 L408.8,395.6" stroke="#d83c3c" stroke-width="2" stroke-linecap="round"/>
<path d="M405,402 L407,404" stroke="#1a2a80" stroke-width="2.2" stroke-linecap="round"/>
<path d="M394,408 L396,414 L399,419 M400,410 L401,416" fill="none" stroke="#b8bce0" stroke-width="1.8" stroke-linecap="round"/>
<path d="M392,401 L396,400" stroke="#6070c0" stroke-width="1.8"/>
<path d="M449,372 L452,378 L456,374 M452,378 L456,384" fill="none" stroke="#68b4c4" stroke-width="2" stroke-linecap="round"/>
<path d="M445,369 L449,372" stroke="#d8b030" stroke-width="2" stroke-linecap="round"/>
<path d="M456,384 L459,386" stroke="#e04040" stroke-width="2" stroke-linecap="round"/>
<path d="M437,421 L439,428 L437,432 M439,428 L443,426" fill="none" stroke="#68b4c4" stroke-width="2" stroke-linecap="round"/>
<path d="M436,414 L437,421" stroke="#d8b030" stroke-width="2" stroke-linecap="round"/>
<path d="M443,426 L445,424" stroke="#2040a0" stroke-width="2" stroke-linecap="round"/>
<rect x="384.4" y="377.0" width="61.2" height="9.4" fill="#f49090"/>
<text x="415.00" y="384.90" font-size="8.2" fill="#ffffff" color="#ffffff" text-anchor="middle" >JNJ-54175446</text>
<text x="361.00" y="368.50" font-size="6.8" fill="#333" color="#333" text-anchor="start" font-style="italic">β8</text>
<text x="402.30" y="365.00" font-size="6.8" fill="#333" color="#333" text-anchor="start" font-style="italic">β4</text>
<text x="361.00" y="385.00" font-size="6.8" fill="#333" color="#333" text-anchor="start" font-style="italic">β7</text>
<text x="363.80" y="433.50" font-size="6.8" fill="#333" color="#333" text-anchor="start" font-style="italic">β7,8</text>
<text x="444.50" y="415.00" font-size="6.8" fill="#333" color="#333" text-anchor="start" font-style="italic">β3</text>
<text x="428.60" y="368.00" font-size="8.2" fill="#222" color="#222" text-anchor="start" >V84C</text>
<text x="429.60" y="441.00" font-size="8.2" fill="#222" color="#222" text-anchor="start" >F88C</text>
<text x="358.90" y="398.70" font-size="8.2" fill="#c4dcf0" color="#c4dcf0" text-anchor="start" >Chain B</text>
<text x="360.30" y="478.30" font-size="8.2" fill="#f0b820" color="#f0b820" text-anchor="start" >Chain A</text>
</svg>
</body></html>
